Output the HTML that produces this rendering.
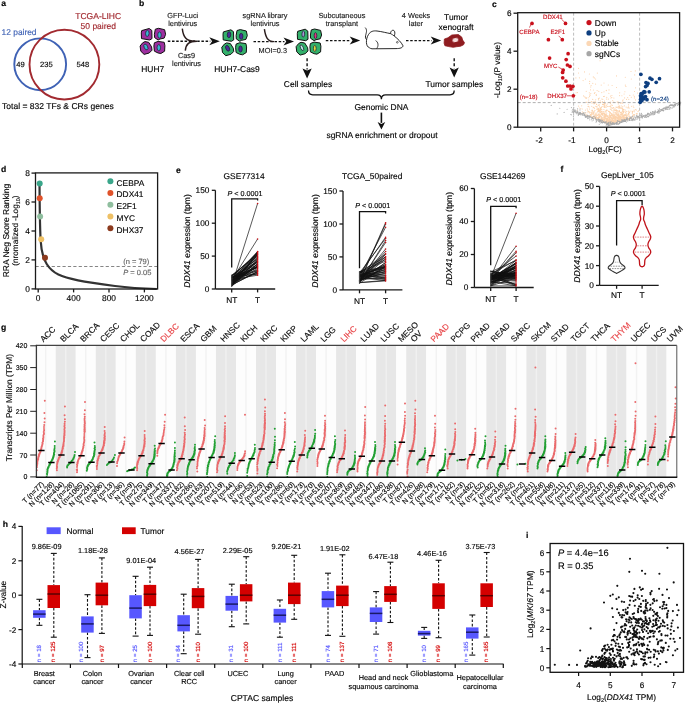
<!DOCTYPE html>
<html><head><meta charset="utf-8"><title>Figure</title>
<style>
html,body{margin:0;padding:0;background:#fff;width:685px;height:703px;overflow:hidden}
svg{display:block;font-family:"Liberation Sans",sans-serif;will-change:transform;text-rendering:geometricPrecision}
text{stroke:#111;stroke-width:0.15px}
</style></head><body>
<svg width="685" height="703" viewBox="0 0 685 703">
<defs><filter id="blr" x="-50%" y="-50%" width="200%" height="200%"><feGaussianBlur stdDeviation="0.5"/></filter></defs>
<rect width="685" height="703" fill="#fff"/>
<text x="1.3" y="5.9" font-weight="bold" font-size="8.6">a</text>
<circle cx="40.2" cy="64.3" r="25.9" fill="none" stroke="#3f62b5" stroke-width="1.9"/>
<circle cx="64.4" cy="64.6" r="34.9" fill="none" stroke="#a22a30" stroke-width="1.9"/>
<text x="98.2" y="19.2" text-anchor="middle" fill="#a22a30" style="stroke:#a22a30" font-size="8.5">TCGA-LIHC</text>
<text x="98.3" y="29.2" text-anchor="middle" fill="#a22a30" style="stroke:#a22a30" font-size="8.5">50 paired</text>
<text x="1.6" y="34.9" fill="#3f62b5" style="stroke:#3f62b5" font-size="8.4">12 paired</text>
<text x="20.6" y="66.8" text-anchor="middle" font-size="7.6">49</text>
<text x="46.3" y="66.8" text-anchor="middle" font-size="7.6">235</text>
<text x="82.9" y="66.8" text-anchor="middle" font-size="7.6">548</text>
<text x="2" y="109.2" font-size="8.55">Total = 832 TFs &amp; CRs genes</text>
<text x="138.9" y="6.1" font-weight="bold" font-size="8.6">b</text>
<polygon points="141.7,30.6 149.2,28.5 151.8,30.4 152.0,38.6 149.7,40.0 141.5,38.6 141.3,32.9" fill="#9d2f9f" stroke="#111" stroke-width="1.0" stroke-linejoin="round"/>
<ellipse cx="147.3" cy="33.4" rx="1.75" ry="3.05" transform="rotate(4 147.3 33.4)" fill="#38b6d2" stroke="#1c1c30" stroke-width="0.7"/>
<polygon points="155.3,29.2 158.6,28.3 164.6,29.7 165.6,34.3 164.2,38.1 160.0,39.0 158.1,40.0 154.6,37.6 154.4,34.3" fill="#9d2f9f" stroke="#111" stroke-width="1.0" stroke-linejoin="round"/>
<ellipse cx="159.5" cy="35.0" rx="1.75" ry="3.05" transform="rotate(0 159.5 35.0)" fill="#38b6d2" stroke="#1c1c30" stroke-width="0.7"/>
<polygon points="145.0,41.6 148.7,42.3 151.6,46.9 152.0,50.2 149.2,53.0 144.1,54.4 140.8,51.2 140.1,46.0 142.7,42.8" fill="#9d2f9f" stroke="#111" stroke-width="1.0" stroke-linejoin="round"/>
<ellipse cx="145.9" cy="47.0" rx="1.75" ry="3.05" transform="rotate(-25 145.9 47.0)" fill="#38b6d2" stroke="#1c1c30" stroke-width="0.7"/>
<polygon points="154.4,42.8 158.1,41.4 164.2,42.3 164.9,45.6 164.6,51.2 160.9,53.5 158.1,53.0 154.4,51.2 153.9,46.0" fill="#9d2f9f" stroke="#111" stroke-width="1.0" stroke-linejoin="round"/>
<ellipse cx="158.8" cy="47.7" rx="1.75" ry="3.05" transform="rotate(0 158.8 47.7)" fill="#38b6d2" stroke="#1c1c30" stroke-width="0.7"/>
<polygon points="223.4,31.9 230.9,29.8 233.5,31.7 233.7,39.9 231.4,41.3 223.2,39.9 223.0,34.2" fill="#33b06b" stroke="#111" stroke-width="1.0" stroke-linejoin="round"/>
<ellipse cx="229.0" cy="34.7" rx="1.75" ry="3.05" transform="rotate(4 229.0 34.7)" fill="#4b2b9b" stroke="#1c1c30" stroke-width="0.7"/>
<polygon points="237.0,30.5 240.3,29.6 246.3,31.0 247.3,35.6 245.9,39.4 241.7,40.3 239.8,41.3 236.3,38.9 236.1,35.6" fill="#33b06b" stroke="#111" stroke-width="1.0" stroke-linejoin="round"/>
<ellipse cx="241.2" cy="36.3" rx="1.75" ry="3.05" transform="rotate(0 241.2 36.3)" fill="#4b2b9b" stroke="#1c1c30" stroke-width="0.7"/>
<polygon points="226.7,42.9 230.4,43.6 233.3,48.2 233.7,51.5 230.9,54.3 225.8,55.7 222.5,52.5 221.8,47.3 224.4,44.1" fill="#33b06b" stroke="#111" stroke-width="1.0" stroke-linejoin="round"/>
<ellipse cx="227.6" cy="48.3" rx="1.75" ry="3.05" transform="rotate(-25 227.6 48.3)" fill="#4b2b9b" stroke="#1c1c30" stroke-width="0.7"/>
<polygon points="236.1,44.1 239.8,42.7 245.9,43.6 246.6,46.9 246.3,52.5 242.6,54.8 239.8,54.3 236.1,52.5 235.6,47.3" fill="#33b06b" stroke="#111" stroke-width="1.0" stroke-linejoin="round"/>
<ellipse cx="240.5" cy="49.0" rx="1.75" ry="3.05" transform="rotate(0 240.5 49.0)" fill="#4b2b9b" stroke="#1c1c30" stroke-width="0.7"/>
<polygon points="297.7,31.3 305.2,29.2 307.8,31.1 308.0,39.3 305.7,40.7 297.5,39.3 297.3,33.6" fill="#33b06b" stroke="#111" stroke-width="1.0" stroke-linejoin="round"/>
<ellipse cx="303.3" cy="34.1" rx="1.35" ry="3.05" transform="rotate(4 303.3 34.1)" fill="#a898d8" stroke="#1c1c30" stroke-width="0.7"/>
<polygon points="311.3,29.9 314.6,29.0 320.6,30.4 321.6,35.0 320.2,38.8 316.0,39.7 314.1,40.7 310.6,38.3 310.4,35.0" fill="#33b06b" stroke="#111" stroke-width="1.0" stroke-linejoin="round"/>
<ellipse cx="315.5" cy="35.7" rx="1.35" ry="3.05" transform="rotate(0 315.5 35.7)" fill="#e03080" stroke="#1c1c30" stroke-width="0.7"/>
<polygon points="301.0,42.3 304.7,43.0 307.6,47.6 308.0,50.9 305.2,53.7 300.1,55.1 296.8,51.9 296.1,46.7 298.7,43.5" fill="#33b06b" stroke="#111" stroke-width="1.0" stroke-linejoin="round"/>
<ellipse cx="301.9" cy="47.7" rx="1.35" ry="3.05" transform="rotate(-25 301.9 47.7)" fill="#c2eaea" stroke="#1c1c30" stroke-width="0.7"/>
<polygon points="310.4,43.5 314.1,42.1 320.2,43.0 320.9,46.3 320.6,51.9 316.9,54.2 314.1,53.7 310.4,51.9 309.9,46.7" fill="#33b06b" stroke="#111" stroke-width="1.0" stroke-linejoin="round"/>
<ellipse cx="314.8" cy="48.4" rx="1.35" ry="3.05" transform="rotate(0 314.8 48.4)" fill="#e8e23e" stroke="#1c1c30" stroke-width="0.7"/>
<line x1="167.8" y1="41.2" x2="210.3" y2="41.2" stroke="#111" stroke-width="1.4" stroke-dasharray="2.5,1.7"/>
<path d="M219.8,41.2 L209.3,37.2 L212.10000000000002,41.2 L209.3,45.2Z" fill="#111"/>
<line x1="253.5" y1="41.6" x2="284.5" y2="41.6" stroke="#111" stroke-width="1.4" stroke-dasharray="2.5,1.7"/>
<path d="M294.0,41.6 L283.5,37.6 L286.3,41.6 L283.5,45.6Z" fill="#111"/>
<line x1="325.8" y1="40.6" x2="350.7" y2="40.6" stroke="#111" stroke-width="1.4" stroke-dasharray="2.5,1.7"/>
<path d="M360.2,40.6 L349.7,36.6 L352.5,40.6 L349.7,44.6Z" fill="#111"/>
<line x1="406.0" y1="40.6" x2="431.7" y2="40.6" stroke="#111" stroke-width="1.4" stroke-dasharray="2.5,1.7"/>
<path d="M441.2,40.6 L430.7,36.6 L433.5,40.6 L430.7,44.6Z" fill="#111"/>
<line x1="307.1" y1="58.2" x2="307.1" y2="69.4" stroke="#111" stroke-width="1.4" stroke-dasharray="3,2"/>
<path d="M307.1,78.4 L302.5,68.4 L307.1,70.60000000000001 L311.70000000000005,68.4Z" fill="#111"/>
<line x1="454.2" y1="58.2" x2="454.2" y2="68.6" stroke="#111" stroke-width="1.4" stroke-dasharray="3,2"/>
<path d="M454.2,77.6 L449.59999999999997,67.6 L454.2,69.8 L458.8,67.6Z" fill="#111"/>
<line x1="381.4" y1="112.6" x2="381.4" y2="122.9" stroke="#111" stroke-width="1.6"/>
<path d="M381.4,129.4 L377.59999999999997,121.9 L381.4,124.10000000000001 L385.2,121.9Z" fill="#111"/>
<path d="M182.3,28.6 C183.3,37.5 186.5,41.2 195,41.2" fill="none" stroke="#2a1c1c" stroke-width="1.45"/>
<path d="M185.3,50.6 C186,44 189,41.2 197,41.2" fill="none" stroke="#2a1c1c" stroke-width="1.45"/>
<path d="M264.4,29.2 C265.5,37 267.5,41.6 274,41.6" fill="none" stroke="#2a1c1c" stroke-width="1.45"/>
<text x="182.7" y="17.5" text-anchor="middle" fill="#222" style="stroke:#222" font-size="7.35">GFP-Luci</text>
<text x="182.7" y="26.3" text-anchor="middle" fill="#222" style="stroke:#222" font-size="7.35">lentivirus</text>
<text x="186.5" y="57.7" text-anchor="middle" fill="#222" style="stroke:#222" font-size="7.35">Cas9</text>
<text x="186.5" y="66.1" text-anchor="middle" fill="#222" style="stroke:#222" font-size="7.35">lentivirus</text>
<text x="265" y="17.5" text-anchor="middle" fill="#222" style="stroke:#222" font-size="7.35">sgRNA library</text>
<text x="265" y="26.3" text-anchor="middle" fill="#222" style="stroke:#222" font-size="7.35">lentivirus</text>
<text x="272.8" y="53.3" text-anchor="middle" fill="#222" style="stroke:#222" font-size="7.35">MOI=0.3</text>
<text x="341.9" y="17.5" text-anchor="middle" fill="#222" style="stroke:#222" font-size="7.35">Subcutaneous</text>
<text x="341.9" y="26.3" text-anchor="middle" fill="#222" style="stroke:#222" font-size="7.35">transplant</text>
<text x="416" y="17.5" text-anchor="middle" fill="#222" style="stroke:#222" font-size="7.35">4 Weeks</text>
<text x="415.9" y="26.3" text-anchor="middle" fill="#222" style="stroke:#222" font-size="7.35">later</text>
<text x="152.7" y="72.4" text-anchor="middle" font-size="8.45">HUH7</text>
<text x="237" y="72.4" text-anchor="middle" font-size="8.45">HUH7-Cas9</text>
<text x="456.1" y="20.1" text-anchor="middle" font-size="8.45">Tumor</text>
<text x="456.1" y="29.8" text-anchor="middle" font-size="8.45">xenograft</text>
<text x="308" y="87.2" text-anchor="middle" font-size="8.45">Cell samples</text>
<text x="454.3" y="87.2" text-anchor="middle" font-size="8.45">Tumor samples</text>
<text x="381.4" y="109.5" text-anchor="middle" font-size="8.45">Genomic DNA</text>
<text x="382" y="137.9" text-anchor="middle" font-size="8.45">sgRNA enrichment or dropout</text>
<path d="M308.5,90.6 Q308.5,94.8 312.7,94.8 L377.2,94.8 Q381.4,94.8 381.4,99.2 Q381.4,94.8 385.6,94.8 L450,94.8 Q454.2,94.8 454.2,90.6" fill="none" stroke="#111" stroke-width="1.3"/>
<path d="M365.2,27.6 C367.5,30 366.2,33 365.6,35.5 C365,38 366,39.5 367.4,40.2" fill="none" stroke="#111" stroke-width="0.9"/>
<path d="M369.5,47.8 C365.5,46.5 365.6,39 368.5,34.5 C370.5,31.2 373.5,30.6 377,31 C382,31.6 387,33 390.5,33.6 C390.6,31 392.5,29.6 394,30.6 C395.4,31.8 394.8,34.6 394.2,36 C397.5,38.5 401.5,42.5 403,45.8 C402.8,47.8 400,48.6 396,48.6 L372,48.8 C371,48.7 370.2,48.3 369.5,47.8Z" fill="#fff" stroke="#111" stroke-width="0.9"/>
<path d="M376.6,48.6 C378.8,46 378.4,42 375.6,40.6" fill="none" stroke="#111" stroke-width="0.8"/>
<path d="M390.5,33.6 C391.8,34.2 393,35 394.2,36" fill="none" stroke="#111" stroke-width="0.8"/>
<circle cx="397.3" cy="42.3" r="0.85" fill="none" stroke="#111" stroke-width="0.6"/>
<polygon points="444.4,39 447.9,37.8 451.8,35 458.4,34.6 461.7,37 462.7,40.1 464.5,42.7 463.5,44.8 460.6,46.2 456.7,46.7 453.2,47.3 448.8,46.6 444.9,45.7 444.1,43.2" fill="#8f1c20" stroke="#8f1c20" stroke-width="0.8" stroke-linejoin="round"/>
<ellipse cx="455.4" cy="40.1" rx="3.0" ry="2.0" transform="rotate(-12 455.4 40.1)" fill="#f6dcdc" filter="url(#blr)"/>
<text x="492.1" y="6.5" font-weight="bold" font-size="8.6">c</text>
<path d="M596.0 102.8h0M615.0 118.9h0M594.8 117.7h0M609.8 119.6h0M596.1 118.9h0M595.2 116.8h0M628.7 112.0h0M622.2 120.9h0M607.1 116.7h0M605.4 122.8h0M605.9 118.3h0M617.7 120.5h0M613.4 123.2h0M598.1 108.3h0M613.4 118.6h0M601.7 114.5h0M599.8 116.9h0M620.5 119.2h0M594.9 117.4h0M609.5 114.9h0M614.9 119.7h0M617.2 101.9h0M600.9 109.1h0M618.7 106.5h0M610.6 119.9h0M622.4 120.7h0M609.1 117.9h0M612.2 123.0h0M601.3 118.8h0M630.0 118.5h0M606.1 121.4h0M613.9 112.9h0M613.0 122.2h0M598.5 119.0h0M605.9 114.6h0M622.1 120.4h0M623.0 117.5h0M612.7 100.6h0M619.7 111.3h0M602.3 120.3h0M633.8 115.2h0M620.9 120.8h0M597.1 90.6h0M612.7 114.0h0M619.5 119.3h0M609.2 123.7h0M615.0 117.3h0M611.3 120.9h0M626.6 116.2h0M623.7 115.3h0M607.1 110.5h0M613.4 107.9h0M616.8 111.5h0M610.6 115.3h0M618.3 103.9h0M620.1 107.9h0M638.0 111.4h0M605.7 122.8h0M613.2 102.2h0M611.9 121.8h0M629.0 108.3h0M602.4 120.6h0M604.9 114.5h0M618.3 116.9h0M614.1 110.8h0M603.3 106.1h0M604.2 121.0h0M619.9 118.0h0M611.5 123.4h0M615.6 117.3h0M620.7 120.7h0M594.4 93.4h0M629.6 112.5h0M604.9 121.8h0M595.9 119.2h0M636.4 110.0h0M613.5 102.1h0M627.3 115.7h0M612.8 115.0h0M591.5 117.3h0M592.0 103.1h0M605.0 114.2h0M604.5 106.7h0M590.4 114.6h0M600.4 107.9h0M587.1 112.7h0M616.5 117.1h0M587.6 110.0h0M599.0 114.5h0M621.1 120.9h0M586.5 102.3h0M581.7 105.8h0M595.8 113.8h0M623.0 117.3h0M613.2 114.4h0M606.3 123.1h0M599.6 119.1h0M602.5 114.1h0M594.2 102.4h0M610.8 122.1h0M620.6 114.3h0M611.3 122.4h0M623.0 114.0h0M633.1 114.8h0M618.8 115.0h0M603.9 121.0h0M591.1 101.8h0M619.6 108.1h0M598.8 118.0h0M621.0 120.6h0M588.0 104.3h0M611.1 115.9h0M619.6 120.6h0M607.6 119.9h0M609.3 120.9h0M618.7 115.7h0M600.2 109.2h0M611.0 98.0h0M606.1 123.0h0M611.9 110.4h0M628.6 114.2h0M615.4 120.5h0M611.2 122.9h0M608.3 120.1h0M632.6 116.9h0M614.0 122.2h0M626.5 116.3h0M615.4 116.4h0M598.5 99.8h0M592.7 110.8h0M614.8 121.7h0M623.3 120.9h0M592.1 116.7h0M613.8 121.2h0M600.2 116.3h0M625.7 114.2h0M611.0 113.8h0M598.7 105.2h0M634.1 110.1h0M624.9 119.7h0M594.6 103.4h0M615.3 119.8h0M588.4 106.4h0M600.3 102.4h0M593.8 117.2h0M614.4 114.8h0M617.6 114.1h0M595.1 117.6h0M637.5 93.0h0M591.0 112.6h0M613.2 107.8h0M600.5 108.6h0M607.7 120.0h0M614.6 117.9h0M612.1 123.5h0M596.9 109.1h0M630.1 118.1h0M618.9 119.4h0M612.1 122.6h0M604.2 117.8h0M606.8 115.9h0M588.2 97.7h0M581.6 113.6h0M611.9 122.1h0M600.9 112.8h0M608.9 117.7h0M587.9 111.2h0M607.3 121.2h0M593.7 103.7h0M626.1 118.8h0M629.0 114.8h0M585.4 110.1h0M615.0 118.4h0M624.6 114.6h0M616.0 118.0h0M593.3 113.1h0M623.0 116.6h0M609.0 119.3h0M606.5 119.9h0M636.5 115.7h0M603.4 118.0h0M619.4 111.0h0M619.6 106.9h0M600.3 119.7h0M612.1 117.4h0M616.1 112.9h0M607.7 123.6h0M613.5 115.8h0M618.6 119.6h0M600.4 120.4h0M623.6 112.4h0M620.7 119.7h0M620.4 120.2h0M598.1 117.2h0M608.1 120.5h0M603.7 120.8h0M609.3 117.9h0M601.2 109.1h0M599.4 114.6h0M615.9 114.0h0M603.8 111.6h0M619.0 119.5h0M604.6 106.1h0M619.0 107.9h0M616.4 114.2h0M617.1 120.5h0M628.9 116.0h0M623.4 110.8h0M619.0 114.5h0M619.1 121.8h0M616.0 107.1h0M627.7 97.6h0M621.1 112.3h0M619.9 117.3h0M607.5 123.2h0M603.5 121.5h0M625.2 115.8h0M614.1 117.7h0M615.1 121.4h0M616.6 110.7h0M637.6 116.8h0M608.9 123.8h0M623.2 111.6h0M606.6 120.8h0M596.6 116.0h0M613.5 117.4h0M628.9 107.6h0M612.1 122.4h0M591.9 114.6h0M616.1 121.3h0M617.8 122.2h0M622.8 106.6h0M616.5 109.9h0M593.0 111.9h0M597.3 115.4h0M619.6 95.6h0M613.7 107.6h0M601.9 112.8h0M614.4 119.7h0M589.1 102.3h0M623.9 111.4h0M598.0 110.9h0M594.8 118.5h0M621.2 118.8h0M608.9 121.4h0M610.9 117.4h0M604.4 103.9h0M604.5 115.5h0M601.4 116.0h0M625.4 115.5h0M599.0 111.3h0M596.2 94.2h0M626.8 111.4h0M612.9 121.5h0M607.4 122.3h0M612.8 120.5h0M617.9 107.0h0M615.8 117.6h0M579.6 108.0h0M609.0 89.9h0M596.6 119.2h0M594.1 112.9h0M610.8 106.8h0M607.0 122.4h0M603.4 117.8h0M611.8 117.6h0M637.2 114.0h0M620.8 116.7h0M601.3 119.3h0M604.0 115.6h0M601.6 113.4h0M607.0 121.2h0M619.4 121.6h0M611.3 122.7h0M610.9 109.2h0M598.8 111.6h0M621.6 102.7h0M633.6 114.8h0M622.0 117.1h0M619.3 117.1h0M609.1 106.4h0M608.3 99.1h0M597.4 109.0h0M605.9 116.8h0M607.0 119.6h0M611.7 118.9h0M614.3 122.3h0M594.1 114.8h0M616.7 120.6h0M599.8 111.1h0M604.4 117.7h0M610.1 115.6h0M611.0 109.5h0M616.4 112.7h0M602.6 119.9h0M602.6 114.5h0M596.0 113.0h0M604.3 113.5h0M613.9 98.0h0M618.9 106.0h0M613.0 123.0h0M608.2 121.9h0M595.8 118.7h0M618.1 117.2h0M615.1 115.6h0M612.8 118.3h0M602.8 117.8h0M602.1 120.2h0M599.7 109.0h0M626.9 119.6h0M626.3 113.9h0M625.3 111.0h0M613.4 121.4h0M622.7 110.4h0M598.8 91.3h0M623.2 118.4h0M591.8 101.5h0M604.6 119.1h0M606.9 110.0h0M614.5 122.6h0M623.8 116.5h0M618.2 114.7h0M604.4 122.0h0M630.1 117.7h0M608.0 121.5h0M606.4 115.0h0M607.2 122.6h0M601.5 118.6h0M608.8 123.4h0M599.4 112.7h0M586.5 97.8h0M599.4 104.9h0M590.8 115.2h0M618.7 119.6h0M588.2 102.0h0M626.9 118.2h0M603.2 119.2h0M619.2 118.7h0M604.6 117.3h0M615.6 112.5h0M588.7 111.4h0M604.9 121.5h0M611.9 121.6h0M586.1 115.7h0M595.8 114.0h0M609.1 102.4h0M598.1 119.8h0M593.1 113.3h0M611.7 123.2h0M605.7 114.4h0M614.6 116.6h0M607.6 122.7h0M610.1 122.3h0M593.4 116.9h0M611.9 114.3h0M596.2 116.3h0M594.2 111.6h0M637.1 113.2h0M592.1 110.1h0M606.1 107.3h0M591.8 110.8h0M622.4 108.8h0M618.3 108.0h0M589.5 96.6h0M601.4 113.4h0M599.4 110.3h0M599.6 119.8h0M616.4 113.9h0M622.0 120.1h0M609.9 122.7h0M601.8 99.0h0M615.0 122.6h0M608.5 117.3h0M616.0 113.0h0M612.4 119.6h0M614.4 117.4h0M613.3 122.6h0M608.8 122.9h0M612.3 115.4h0M619.1 116.1h0M611.8 121.6h0M618.0 121.0h0M611.0 118.8h0M600.3 110.1h0M601.4 107.4h0M611.7 107.9h0M602.4 101.5h0M623.1 116.7h0M611.2 104.8h0M614.3 112.7h0M599.7 116.1h0M620.2 119.6h0M627.9 118.1h0M609.5 124.2h0M599.3 110.4h0M612.5 115.5h0M605.1 121.7h0M606.3 120.7h0M609.1 119.6h0M634.4 111.7h0M619.9 116.8h0M610.2 123.1h0M610.6 112.9h0M609.9 112.1h0M612.7 121.5h0M606.1 115.1h0M621.7 117.3h0M618.3 102.0h0M590.5 115.1h0M598.4 110.3h0M587.6 115.8h0M623.7 109.5h0M614.4 118.3h0M624.9 119.4h0M615.6 120.4h0M601.6 121.0h0M606.0 115.0h0M623.1 118.1h0M608.4 120.8h0M605.4 118.9h0M632.4 111.9h0M605.9 123.1h0M597.2 118.1h0M623.6 115.5h0M608.9 93.3h0M611.0 113.5h0M615.0 120.7h0M626.4 117.2h0M600.9 118.6h0M608.1 120.7h0M606.0 121.7h0M602.6 113.4h0M596.9 114.4h0M635.6 109.6h0M599.6 120.2h0M629.9 118.4h0M625.4 112.5h0M620.5 120.3h0M592.1 112.2h0M623.6 120.3h0M611.6 122.9h0M617.4 119.0h0M634.5 114.6h0M622.3 116.6h0M598.4 109.2h0M594.4 115.7h0M604.6 122.5h0M621.2 118.1h0M600.1 110.9h0M578.6 106.1h0M608.8 121.6h0M609.1 121.6h0M607.3 120.6h0M606.0 118.6h0M615.9 116.6h0M589.0 115.8h0M613.2 118.3h0M585.1 112.6h0M604.0 114.3h0M610.5 96.1h0M591.8 106.3h0M608.7 122.7h0M626.2 118.8h0M604.9 122.2h0M611.1 116.2h0M626.1 117.7h0M620.7 117.6h0M605.7 122.2h0M616.9 107.4h0M609.5 119.2h0M596.4 117.6h0M604.9 107.2h0M632.4 112.8h0M609.5 123.4h0M615.0 108.3h0M601.8 119.8h0M590.5 116.1h0M600.6 116.0h0M613.2 122.1h0M611.9 95.6h0M626.7 117.7h0M604.1 115.3h0M609.7 118.5h0M599.0 110.0h0M618.4 118.0h0M611.4 122.8h0M598.9 119.3h0M620.6 116.9h0M609.2 121.7h0M625.9 113.7h0M627.7 118.9h0M614.7 102.3h0M599.7 117.4h0M602.7 115.6h0M603.1 113.1h0M592.0 113.7h0M633.2 106.1h0M609.8 120.8h0M596.5 104.4h0M616.7 117.7h0M598.1 105.1h0M608.6 121.6h0M628.5 104.8h0M617.0 114.0h0M594.4 116.5h0M599.2 114.8h0M616.1 118.9h0M613.2 118.9h0M607.5 116.0h0M612.9 118.6h0M611.2 120.6h0M620.7 119.8h0M634.3 96.3h0M621.4 114.3h0M618.8 111.5h0M601.3 119.8h0M610.2 109.0h0M595.2 118.5h0M612.2 118.7h0M604.7 103.2h0M619.4 119.6h0M610.6 121.5h0M633.8 107.5h0M620.2 118.4h0M600.8 120.9h0M622.9 120.8h0M618.7 117.6h0M604.5 105.0h0M623.8 119.3h0M608.6 121.9h0M632.9 117.2h0M598.7 108.7h0M602.4 120.6h0M621.2 107.8h0M618.5 115.6h0M610.3 122.7h0M613.3 122.6h0M608.0 115.5h0M600.7 108.1h0M634.1 110.3h0M622.7 103.2h0M624.3 116.9h0M618.0 119.9h0M614.6 115.0h0M613.0 121.7h0M617.6 115.3h0M613.4 116.3h0M599.5 106.8h0M603.3 119.9h0M606.0 106.3h0M605.8 116.5h0M602.3 121.2h0M623.3 116.1h0M609.2 119.4h0M626.0 118.1h0M615.1 121.1h0M612.2 121.5h0M605.8 114.0h0M610.8 118.8h0M620.1 120.4h0M638.6 117.0h0M589.3 113.0h0M610.6 106.9h0M598.9 116.0h0M617.0 115.8h0M624.2 117.8h0M599.3 116.0h0M593.2 113.9h0M620.7 116.8h0M595.7 99.8h0M620.0 120.6h0M628.9 113.5h0M611.7 114.2h0M623.3 111.0h0M612.8 119.2h0M602.1 120.1h0M598.3 120.1h0M603.8 116.5h0M607.2 110.3h0M595.5 118.0h0M611.9 119.3h0M612.4 119.9h0M601.9 111.3h0M613.9 122.7h0M623.4 115.9h0M602.1 111.6h0M611.1 121.5h0M617.2 122.1h0M604.1 117.6h0M625.7 118.4h0M606.2 112.1h0M607.9 122.6h0M610.3 116.5h0M617.6 110.9h0M611.5 120.4h0M606.5 120.4h0M617.2 122.2h0M590.5 89.8h0M611.9 122.7h0M591.7 117.6h0M616.0 120.9h0M615.6 119.6h0M606.4 121.0h0M606.3 123.1h0M612.2 122.0h0M591.3 115.9h0M602.2 117.8h0M607.7 106.4h0M603.5 96.5h0M618.7 116.0h0M622.2 114.4h0M613.5 122.9h0M600.5 108.2h0M625.8 114.6h0M620.5 118.4h0M601.9 109.7h0M595.4 117.7h0M624.6 117.9h0M616.6 121.4h0M624.3 119.2h0M613.5 120.9h0M623.5 117.1h0M628.4 106.9h0M609.8 122.7h0M607.1 116.0h0M613.6 120.4h0M610.2 122.8h0M612.8 121.5h0M589.5 109.0h0M627.3 118.0h0M606.2 105.4h0M615.8 119.9h0M612.4 108.2h0M591.6 117.7h0M605.4 122.4h0M621.1 107.7h0M601.3 116.7h0M628.7 119.3h0M603.7 122.0h0M616.0 121.7h0M608.1 121.5h0M608.9 120.6h0M604.4 114.6h0M608.8 122.2h0M607.9 122.8h0M593.2 116.9h0M607.0 120.2h0M629.0 116.4h0M616.2 120.4h0M604.2 119.8h0M611.3 123.7h0M613.9 116.8h0M590.8 93.6h0M601.9 119.3h0M597.8 118.6h0M587.2 108.7h0M595.8 106.3h0M585.0 113.7h0M607.1 120.0h0M606.7 120.2h0M621.4 118.8h0M614.9 118.5h0M609.3 121.0h0M617.4 118.2h0M619.3 120.1h0M625.8 119.7h0M603.8 121.3h0M621.0 115.9h0M606.0 115.4h0M596.2 119.4h0M601.8 121.2h0M617.7 119.0h0M623.6 115.2h0M615.2 118.8h0M606.4 123.2h0M618.6 119.3h0M622.5 119.2h0M600.9 114.2h0M615.8 116.6h0M622.8 101.1h0M600.5 102.7h0M622.4 111.6h0M599.0 117.2h0M598.7 117.0h0M606.9 109.8h0M632.6 115.6h0M613.3 122.4h0M608.8 119.6h0M606.5 99.0h0M621.0 120.4h0M613.6 115.9h0M618.5 120.4h0M625.4 117.2h0M610.6 122.2h0M593.4 113.4h0M611.2 117.5h0M589.8 94.8h0M602.2 119.1h0M596.4 117.2h0M630.9 111.0h0M604.5 101.1h0M593.5 107.3h0M619.5 117.5h0M624.5 115.3h0M603.9 113.5h0M617.7 117.4h0M611.3 121.3h0M619.5 120.6h0M604.4 122.2h0M610.0 123.7h0M625.4 119.7h0M621.7 117.5h0M612.4 122.4h0M597.1 106.9h0M613.2 121.5h0M607.7 119.2h0M614.0 115.1h0M599.2 118.8h0M608.3 121.4h0M600.2 111.8h0M622.8 115.6h0M592.0 114.4h0M606.1 111.7h0M594.6 108.5h0M618.7 114.9h0M618.7 120.4h0M611.3 118.2h0M612.4 105.3h0M616.8 115.0h0M609.4 120.8h0M602.5 104.4h0M601.8 92.6h0M628.4 118.9h0M616.2 122.4h0M606.2 90.6h0M629.3 118.7h0M609.2 119.3h0M613.0 119.2h0M603.4 111.8h0M617.8 110.5h0M608.1 117.7h0M622.1 111.9h0M622.3 113.5h0M609.1 119.2h0M612.6 122.3h0M604.2 121.8h0M618.8 117.7h0M606.9 122.7h0M609.5 118.9h0M612.6 122.5h0M603.9 120.7h0M603.8 118.1h0M604.4 122.2h0M617.4 121.9h0M618.5 121.6h0M604.2 121.2h0M614.8 121.5h0M619.7 118.4h0M600.4 110.5h0M607.3 118.5h0M613.0 116.5h0M603.7 104.3h0M603.9 109.5h0M623.4 109.3h0M610.1 115.8h0M611.8 122.5h0M613.0 122.6h0M620.5 112.6h0M615.6 120.4h0M608.8 122.7h0M610.4 103.4h0M625.0 109.8h0M611.6 113.6h0M609.5 113.8h0M598.6 109.1h0M614.4 122.4h0M576.1 92.7h0M595.4 117.4h0M621.2 105.9h0M625.9 118.6h0M612.8 120.3h0M598.7 109.7h0M623.3 118.0h0M603.4 120.1h0M602.1 106.5h0M608.3 121.4h0M615.3 114.1h0M615.3 117.8h0M629.5 112.1h0M613.0 122.4h0M615.6 120.0h0M609.1 119.8h0M611.2 120.5h0M604.2 102.8h0M623.8 119.3h0M618.2 113.1h0M603.4 121.5h0M623.1 99.8h0M609.6 122.7h0M595.0 117.8h0M620.7 119.5h0M597.8 117.6h0M584.7 114.0h0M588.2 115.6h0M638.5 110.7h0M598.3 118.8h0M622.4 115.0h0M628.3 113.3h0M595.4 114.7h0M605.2 111.1h0M608.1 116.4h0M593.8 115.1h0M615.6 119.7h0M612.6 118.0h0M626.5 115.5h0M626.9 116.3h0M613.9 117.4h0M587.8 115.4h0M595.2 115.1h0M629.9 116.9h0M609.7 115.6h0M622.6 108.1h0M609.8 123.3h0M624.3 119.0h0M609.7 112.4h0M594.0 107.3h0M588.0 106.2h0M607.8 123.4h0M623.4 119.1h0M596.9 109.2h0M596.5 106.7h0M614.7 121.6h0M607.4 123.2h0M627.3 114.7h0M613.7 121.5h0M597.1 109.5h0M623.0 115.9h0M594.5 103.6h0M612.5 120.6h0M604.0 121.7h0M621.2 108.5h0M613.1 111.8h0M616.1 119.5h0M615.6 110.6h0M591.6 117.4h0M593.4 90.0h0M615.0 109.4h0M626.6 111.7h0M616.3 119.0h0M627.2 119.9h0M605.0 116.4h0M619.3 119.8h0M596.0 118.2h0M599.5 119.9h0M606.0 122.2h0M598.1 119.4h0M625.7 117.5h0M604.7 121.3h0M628.7 111.0h0M610.0 121.3h0M606.1 122.2h0M621.8 114.9h0M591.0 114.2h0M620.6 117.7h0M582.3 111.7h0M609.4 116.5h0M612.0 121.5h0M626.1 107.0h0M605.3 115.6h0M633.2 114.6h0M621.3 112.6h0M605.8 117.1h0M606.5 119.8h0M611.9 121.6h0M583.1 112.5h0M621.3 113.8h0M606.4 119.9h0M602.7 121.0h0M617.7 118.8h0M605.0 120.1h0M620.5 115.9h0M589.7 112.0h0M631.0 118.5h0M625.3 117.5h0M597.2 112.7h0M624.0 118.0h0M633.8 118.3h0M593.2 112.0h0M599.5 116.7h0M612.7 121.1h0M602.8 99.2h0M596.3 95.4h0M622.4 109.8h0M610.0 117.4h0M598.1 119.8h0M598.9 113.6h0M613.4 121.8h0M618.7 119.1h0M610.0 123.2h0M595.2 118.6h0M622.6 119.9h0M600.7 112.5h0M597.2 118.0h0M617.8 112.6h0M592.7 117.4h0M608.5 111.4h0M611.0 105.2h0M612.6 120.7h0M609.0 119.3h0M604.9 112.7h0M609.3 122.0h0M604.4 117.2h0M610.3 123.2h0M622.6 118.9h0M618.0 112.5h0M610.8 123.6h0M622.8 119.5h0M596.1 115.5h0M615.1 110.6h0M628.9 118.5h0M624.6 97.9h0M598.6 114.3h0M608.7 111.3h0M622.5 121.1h0M607.8 122.7h0M618.6 114.0h0M593.0 117.3h0M607.8 123.0h0M610.0 121.9h0M627.2 107.8h0M607.0 123.2h0M606.4 121.4h0M613.0 122.7h0M619.8 117.5h0M605.4 116.1h0M632.3 113.3h0M591.8 113.4h0M620.3 119.4h0M603.8 113.7h0M610.0 120.6h0M621.9 117.1h0M602.6 118.0h0M620.3 121.3h0M612.7 118.7h0M606.9 118.4h0M603.8 121.7h0M615.5 119.8h0M605.2 121.2h0M623.1 112.1h0M609.0 120.9h0M610.7 102.1h0M626.5 99.3h0M611.3 120.9h0M601.3 119.1h0M604.0 116.3h0M601.8 117.2h0M605.1 118.1h0M610.6 123.4h0M606.6 121.5h0M607.9 120.3h0M631.5 106.2h0M602.6 114.5h0M616.2 122.1h0M632.8 116.1h0M608.3 121.5h0M619.4 115.3h0M591.6 117.5h0M610.9 117.6h0M606.8 118.3h0M625.7 120.2h0M603.1 104.5h0M610.8 123.9h0M594.9 110.4h0M595.0 92.5h0M619.3 105.8h0M629.0 115.8h0M619.9 112.8h0M601.3 117.7h0M619.5 121.0h0M602.3 121.3h0M628.0 119.0h0M619.4 116.8h0M595.4 118.5h0M618.1 102.3h0M617.5 117.0h0M617.8 118.8h0M606.7 118.5h0M613.8 109.9h0M605.4 118.8h0M622.9 118.0h0M613.0 116.2h0M623.0 113.5h0M604.5 119.4h0M611.6 115.0h0M605.1 121.6h0M603.7 119.6h0M606.5 122.2h0M601.2 116.7h0M623.4 117.7h0M590.2 114.5h0M600.3 115.4h0M577.5 110.1h0M614.6 115.3h0M611.5 115.3h0M619.7 116.3h0M610.4 112.8h0M614.9 119.9h0M607.9 117.7h0M598.2 115.0h0M636.3 113.9h0M606.6 119.1h0M612.9 122.8h0M630.3 116.9h0M612.4 115.8h0M608.0 118.5h0M600.4 120.0h0M607.2 104.1h0M612.5 122.9h0M589.2 107.0h0M612.1 118.7h0M618.3 116.1h0M625.2 114.8h0M624.4 105.8h0M626.7 117.2h0M602.2 102.3h0M608.6 111.5h0M600.9 112.9h0M609.7 124.1h0M619.5 116.9h0M610.3 122.2h0M620.4 120.7h0M601.1 119.2h0M611.5 121.7h0M586.5 114.8h0M609.2 111.6h0M620.5 116.6h0M597.7 111.5h0M593.5 102.3h0M606.8 113.8h0M610.3 106.3h0M614.5 120.2h0M612.6 119.6h0M602.1 118.7h0M606.9 118.9h0M582.3 109.0h0M605.5 103.7h0M617.6 121.6h0M626.7 119.6h0M604.2 107.5h0M622.8 120.2h0M619.7 92.8h0M601.8 121.2h0M633.0 111.5h0M613.2 117.9h0M611.8 97.5h0M601.3 111.5h0M589.1 112.2h0M623.4 119.6h0M617.3 117.6h0M602.1 120.3h0M621.6 113.5h0M598.7 119.9h0M617.4 118.1h0M580.8 108.5h0M599.3 119.7h0M607.2 115.8h0M620.8 103.5h0M639.3 100.3h0M606.2 110.6h0M612.8 119.2h0M609.6 118.5h0M604.1 116.3h0M595.5 101.8h0M622.8 100.3h0M618.0 122.0h0M628.8 99.3h0M626.0 120.1h0M632.4 111.2h0M615.0 118.2h0M593.1 107.7h0M600.9 121.3h0M629.8 95.4h0M619.3 110.3h0M601.6 118.8h0M616.4 122.5h0M624.1 94.0h0M612.1 85.5h0M589.4 74.0h0M585.7 97.7h0M590.7 87.0h0M624.9 91.7h0M589.7 81.4h0M591.1 85.6h0M589.3 92.8h0M595.6 79.0h0M625.3 85.1h0M579.4 77.8h0M590.1 95.5h0M597.3 73.1h0M599.3 98.1h0M625.3 77.2h0M592.8 83.3h0M606.5 90.2h0M578.5 73.0h0M583.6 95.9h0M631.0 71.5h0M634.5 91.5h0M634.4 97.9h0M583.1 80.6h0M631.3 79.0h0M635.6 87.8h0M598.4 98.6h0M586.2 91.3h0M577.5 92.6h0M586.1 98.5h0M608.3 85.0h0M635.5 99.9h0M588.7 100.0h0M594.3 77.9h0M606.8 97.3h0M595.6 84.1h0M593.3 76.9h0M604.0 83.0h0M604.3 96.3h0M635.3 70.9h0M575.9 77.9h0M600.2 100.8h0M584.8 96.9h0M621.9 95.7h0M575.6 95.4h0M625.9 86.4h0M616.5 87.5h0M586.1 102.0h0M594.0 101.2h0M601.2 85.1h0M604.0 91.8h0M633.3 95.0h0M634.7 74.9h0M631.3 97.2h0M585.4 79.1h0M589.5 83.6h0M584.5 71.9h0M592.7 99.4h0M600.0 60.7h0M616.5 75.9h0M578.6 68.3h0" stroke="#fcd3ad" stroke-width="1.15" stroke-linecap="round" fill="none"/>
<path d="M646.7 116.0h0M626.1 119.2h0M672.3 107.0h0M572.2 110.8h0M626.0 120.5h0M640.7 115.4h0M622.3 120.2h0M624.4 120.0h0M641.7 115.6h0M620.1 121.9h0M581.2 113.8h0M662.2 110.5h0M658.8 111.2h0M626.8 117.8h0M618.3 124.5h0M625.3 121.3h0M624.4 121.2h0M626.7 118.2h0M609.2 124.1h0M662.7 108.9h0M659.4 108.6h0M646.5 115.6h0M658.7 111.6h0M659.1 112.8h0M591.2 117.3h0M598.5 121.2h0M672.0 104.8h0M609.3 124.2h0M658.1 113.1h0M673.4 107.0h0M642.1 115.0h0M583.9 114.4h0M678.8 102.9h0M592.2 118.7h0M647.5 114.9h0M639.7 120.0h0M585.6 115.7h0M666.4 108.6h0M655.6 111.9h0M633.9 120.5h0M674.6 105.9h0M613.8 124.2h0M610.4 123.4h0M658.5 111.1h0M596.9 120.8h0M647.5 116.6h0M628.1 120.1h0M592.4 117.4h0M642.4 117.3h0M607.9 126.2h0M672.8 105.0h0M675.5 105.2h0M639.3 115.3h0M608.2 124.4h0M602.4 123.0h0M575.9 112.2h0M665.8 109.6h0M653.0 113.6h0M599.2 120.2h0M598.2 119.0h0M607.6 123.4h0M610.6 123.9h0M629.3 118.1h0M617.1 122.9h0M616.2 122.5h0M676.3 103.3h0M585.3 117.0h0M654.9 111.9h0M632.4 120.3h0M670.1 108.7h0M599.3 124.2h0M629.4 120.4h0M592.6 118.2h0M588.3 117.0h0M631.9 119.1h0M651.0 112.4h0M606.7 123.3h0M648.8 116.3h0M621.7 121.8h0M623.6 120.7h0M675.8 104.4h0M579.7 113.7h0M601.3 121.8h0M585.9 116.8h0M618.3 123.7h0M615.8 123.5h0M642.6 116.9h0M577.0 113.8h0M649.3 114.4h0M623.5 120.6h0M573.8 110.4h0M623.0 120.6h0M583.5 112.9h0M624.9 121.1h0M635.9 119.1h0M585.0 112.7h0M605.1 122.4h0M627.3 117.9h0M616.6 124.3h0M600.0 119.6h0M658.0 111.7h0M611.8 124.8h0M619.5 122.7h0M639.8 116.7h0M616.7 123.1h0M621.5 119.7h0M623.5 120.1h0M612.9 124.3h0M669.6 105.2h0M615.7 123.1h0M645.0 115.7h0M650.7 115.0h0M675.3 105.7h0M619.3 123.2h0M643.1 115.9h0M630.6 117.4h0M678.6 104.5h0M573.8 109.9h0M617.3 122.3h0M638.7 118.0h0M596.0 122.1h0M593.4 116.5h0M671.3 105.1h0M661.3 109.6h0M663.0 110.6h0M649.4 113.8h0M654.8 112.6h0M599.4 122.1h0M648.7 116.0h0M679.3 103.8h0M586.8 115.9h0M651.0 115.0h0M675.3 105.0h0M629.4 118.1h0M625.8 119.6h0M669.2 105.9h0M644.1 116.4h0M617.7 120.5h0M587.8 117.3h0M629.6 120.1h0M679.8 105.5h0M610.3 125.2h0M654.5 111.9h0M647.2 114.7h0M647.1 114.7h0M601.8 122.5h0M611.0 124.2h0M612.7 123.6h0M643.5 115.5h0M666.9 107.3h0M673.5 105.5h0M584.8 114.7h0M581.3 113.6h0M600.8 122.9h0M625.2 120.6h0M661.0 110.5h0M665.5 108.2h0M648.0 113.4h0M608.7 123.6h0M623.5 121.4h0M606.1 125.0h0M634.0 117.7h0M638.3 116.6h0M596.2 119.6h0M639.4 115.5h0M609.1 122.1h0M619.9 123.6h0M671.5 105.4h0M645.6 115.1h0M648.8 113.9h0M595.5 117.7h0M596.6 121.1h0M611.6 123.6h0M577.1 110.9h0M647.6 113.2h0M631.1 118.3h0M635.4 117.8h0M610.4 123.9h0M679.1 105.1h0M578.8 114.3h0M583.1 113.1h0M591.2 117.5h0M601.7 122.4h0M607.1 124.9h0M622.8 121.4h0M610.7 122.7h0M611.1 123.9h0M600.4 120.2h0M573.8 111.8h0M601.2 120.1h0M584.3 114.5h0M627.7 120.9h0M605.9 121.8h0M639.7 118.1h0M643.7 116.4h0M616.9 123.6h0M614.4 124.3h0M629.5 119.5h0M630.0 118.8h0M596.4 121.7h0M574.4 111.6h0M658.6 110.9h0M639.5 117.2h0M666.5 107.5h0M662.9 110.2h0M653.0 114.8h0M621.4 122.5h0M667.7 106.9h0M679.8 101.4h0M580.1 114.6h0M598.9 119.2h0M628.0 120.0h0M605.7 122.2h0M679.7 104.1h0M580.2 113.5h0M588.1 116.6h0M614.4 123.4h0M633.2 118.9h0M674.1 106.9h0M636.4 117.1h0M635.3 117.5h0M669.9 105.8h0M645.3 115.4h0M631.1 117.9h0M608.6 125.4h0M573.9 112.0h0M595.9 119.8h0M579.9 114.1h0M654.8 113.9h0M632.8 116.4h0M583.0 115.2h0M660.6 111.0h0M650.7 114.1h0M575.7 112.3h0M658.8 110.7h0M575.3 111.3h0M589.8 119.8h0M606.9 123.1h0M600.2 120.7h0M641.1 117.2h0M638.9 116.9h0M633.2 118.7h0M613.6 122.9h0M649.7 115.3h0M592.1 120.8h0M598.1 120.2h0M602.3 120.4h0M579.2 114.0h0M592.3 118.0h0M663.8 108.3h0M648.2 113.4h0M640.3 117.0h0M613.7 123.5h0M578.4 114.2h0M625.5 121.4h0M577.3 111.7h0M575.0 110.7h0M607.9 124.0h0M588.1 118.5h0M591.6 119.1h0M626.4 122.0h0M633.4 118.5h0M598.0 119.6h0M580.5 112.2h0M666.0 107.7h0M622.9 120.9h0M663.8 110.5h0M654.8 113.8h0M650.6 112.4h0M588.1 115.9h0M589.7 116.9h0M667.4 107.8h0M613.4 123.1h0M664.0 108.9h0M637.4 117.3h0M584.2 115.3h0M603.2 121.9h0M593.8 118.2h0M641.6 116.2h0M630.2 118.7h0M612.8 122.7h0M627.2 118.9h0M614.2 123.4h0M638.9 117.1h0M593.0 118.4h0M668.5 107.3h0M635.9 118.9h0M674.2 104.4h0M586.4 117.1h0M612.5 122.5h0M648.9 114.5h0M602.9 122.2h0M603.8 122.4h0M648.1 116.8h0M672.6 105.5h0M664.7 107.9h0M655.2 110.2h0M652.5 111.6h0M666.2 109.2h0M676.3 103.4h0M669.6 108.9h0M680.6 103.8h0M663.3 110.9h0M587.6 118.6h0M615.9 123.2h0M656.9 112.0h0M578.8 113.7h0M607.1 124.2h0M638.0 117.0h0M665.2 107.6h0M679.3 103.4h0M647.4 114.1h0M592.6 117.8h0M632.5 119.3h0M608.9 124.2h0M572.2 110.7h0M607.7 124.3h0M641.3 113.4h0M579.1 113.4h0M624.4 121.4h0M650.6 112.7h0M617.8 124.2h0M606.5 124.1h0M652.6 112.9h0M622.3 121.4h0M657.1 112.3h0M677.1 103.7h0M589.6 115.7h0M575.8 112.6h0M651.5 113.5h0M634.2 119.5h0M578.3 115.4h0M582.7 113.4h0M661.7 109.8h0M646.4 117.3h0M612.5 124.2h0M584.3 115.3h0M596.9 120.0h0M575.2 111.6h0M629.8 119.0h0M585.9 117.3h0M609.5 125.5h0M585.1 116.2h0M668.1 109.0h0M632.3 120.6h0M645.6 116.6h0M678.0 104.2h0M640.8 114.9h0M622.9 119.8h0M600.6 121.1h0M637.4 118.8h0M578.4 113.0h0M586.3 117.1h0M679.7 104.1h0M658.2 111.6h0M627.0 118.9h0M659.4 112.7h0M624.6 119.2h0M615.3 123.9h0M680.7 102.6h0M577.0 112.8h0M645.7 115.3h0M588.4 116.0h0M637.5 116.6h0M655.0 113.4h0M612.0 123.4h0M668.6 107.3h0M668.3 107.3h0M624.5 120.3h0M668.8 106.9h0M653.5 111.7h0M595.3 118.6h0M620.5 121.9h0M673.7 105.6h0M608.5 122.9h0M583.9 113.6h0M576.0 112.8h0M669.9 107.8h0M658.0 111.3h0M637.6 117.2h0M623.2 121.7h0M594.7 116.8h0M641.9 114.3h0M675.2 103.8h0M639.2 117.8h0M670.2 105.2h0M658.4 110.0h0M587.2 115.9h0M631.4 117.0h0M599.1 121.2h0M632.0 119.1h0M652.9 112.8h0M654.6 113.3h0M647.7 114.1h0M651.1 114.5h0M582.4 114.3h0M590.4 116.8h0M642.1 117.5h0M611.6 124.2h0M678.0 103.3h0M637.8 116.3h0M637.0 116.4h0M638.7 117.0h0M667.3 109.3h0M677.4 105.3h0M612.7 122.7h0M616.6 123.6h0M610.3 123.0h0M610.3 123.0h0M645.5 117.1h0M663.7 110.3h0M599.3 119.7h0M606.3 121.8h0M672.2 104.9h0M604.9 123.1h0M587.5 116.0h0M641.4 116.2h0M599.7 121.1h0M654.5 112.4h0M610.4 122.0h0M623.5 120.6h0M618.2 121.4h0M602.3 121.8h0M641.5 116.8h0M659.3 111.2h0M585.0 114.8h0M580.4 113.3h0M573.6 112.6h0M621.3 122.2h0M575.8 112.5h0M617.8 124.0h0M611.1 121.7h0M672.3 105.0h0M585.7 116.7h0M659.8 109.6h0M582.6 113.8h0M582.1 114.8h0M679.9 102.8h0M634.8 116.1h0M654.4 114.3h0M642.2 118.1h0M644.8 115.4h0M589.2 118.0h0M628.1 120.0h0M649.5 115.1h0M657.8 112.7h0M661.7 109.5h0M577.1 112.2h0M589.4 116.2h0M619.7 122.0h0M622.6 121.9h0M656.7 112.2h0M608.1 122.9h0M572.1 112.2h0M631.6 117.1h0M579.5 112.2h0M601.1 121.2h0M644.5 117.2h0M616.9 123.2h0M622.3 121.3h0M600.0 121.2h0M587.0 116.6h0M593.5 119.9h0M572.3 111.0h0M679.3 102.8h0M589.3 117.9h0M661.8 109.3h0M654.2 112.9h0M660.9 109.6h0M585.1 115.7h0M589.9 116.9h0M670.9 104.2h0M623.5 120.2h0M598.2 119.6h0M642.5 116.6h0M619.5 123.6h0M621.7 122.3h0M621.5 121.2h0M646.5 115.5h0M633.6 119.3h0M587.8 115.4h0M611.1 123.6h0M575.5 110.9h0M674.5 104.6h0M663.1 108.6h0M612.1 123.5h0M605.8 122.2h0M663.2 108.3h0M613.5 123.1h0M573.7 110.8h0M655.2 112.3h0M658.0 109.7h0M581.1 113.6h0M655.6 111.5h0M652.1 114.0h0M610.6 122.9h0M623.3 120.7h0M660.1 111.4h0M672.0 108.2h0M674.0 106.9h0M590.6 116.8h0M659.5 110.9h0M585.2 115.8h0M663.3 108.3h0M646.0 114.8h0M666.1 106.2h0M627.4 119.1h0M603.8 122.1h0M617.5 121.0h0M661.1 110.7h0M579.8 113.4h0M609.0 122.6h0M596.7 119.4h0M616.8 122.4h0M631.4 120.1h0M603.6 121.5h0M573.8 111.7h0M625.4 121.3h0M613.1 123.5h0M604.3 122.2h0M604.4 122.4h0M624.3 120.5h0M574.1 110.7h0M620.3 122.4h0M629.2 119.0h0M657.4 111.6h0M632.5 119.7h0M653.7 113.0h0M626.7 119.6h0M669.2 109.1h0M650.9 114.6h0M630.0 120.4h0M635.0 120.0h0M665.3 108.9h0M577.7 112.7h0M637.1 119.1h0M670.8 105.4h0M612.8 123.1h0M675.1 104.2h0M587.7 115.2h0M654.0 114.6h0M605.4 122.8h0M668.1 106.8h0M651.7 113.7h0M667.6 107.6h0M580.8 114.7h0M649.1 114.7h0M673.6 105.8h0M629.4 118.3h0M608.8 123.9h0M583.3 113.0h0M585.5 117.2h0M620.5 121.9h0M583.9 113.5h0M608.3 125.0h0M619.3 121.3h0M636.8 115.4h0M670.7 107.5h0M662.1 109.7h0M622.0 120.5h0M576.7 111.0h0M573.8 107.3h0M573.4 116.6h0M571.3 114.8h0M577.6 108.8h0M570.8 114.5h0M572.8 109.3h0M579.2 114.2h0M571.4 107.6h0M580.0 109.9h0M575.0 109.7h0M577.9 111.9h0M573.0 111.8h0M576.9 113.7h0M551.2 105.4h0M559.8 108.2h0M564.1 112.4h0M557.2 113.9h0M567.1 109.2h0" stroke="#ababab" stroke-width="1.15" stroke-linecap="round" fill="none"/>
<line x1="573.6" y1="12.7" x2="573.6" y2="127.2" stroke="#b5b5b5" stroke-width="0.9" stroke-dasharray="3,2"/>
<line x1="639.6" y1="12.7" x2="639.6" y2="127.2" stroke="#b5b5b5" stroke-width="0.9" stroke-dasharray="3,2"/>
<line x1="517.7" y1="102.6" x2="679.6" y2="102.6" stroke="#a8a8a8" stroke-width="0.9" stroke-dasharray="3,2"/>
<circle cx="532.0" cy="23.4" r="1.85" fill="#c9101c"/>
<circle cx="565.5" cy="23.4" r="1.85" fill="#c9101c"/>
<circle cx="562.3" cy="39.7" r="1.85" fill="#c9101c"/>
<circle cx="548.4" cy="39.7" r="1.85" fill="#c9101c"/>
<circle cx="568.1" cy="53.7" r="1.85" fill="#c9101c"/>
<circle cx="549.6" cy="58.1" r="1.85" fill="#c9101c"/>
<circle cx="566.2" cy="59.6" r="1.85" fill="#c9101c"/>
<circle cx="567.4" cy="65.0" r="1.85" fill="#c9101c"/>
<circle cx="570.0" cy="66.4" r="1.85" fill="#c9101c"/>
<circle cx="563.2" cy="70.1" r="1.85" fill="#c9101c"/>
<circle cx="562.6" cy="72.4" r="1.85" fill="#c9101c"/>
<circle cx="562.7" cy="77.8" r="1.85" fill="#c9101c"/>
<circle cx="565.9" cy="81.2" r="1.85" fill="#c9101c"/>
<circle cx="567.7" cy="86.0" r="1.85" fill="#c9101c"/>
<circle cx="570.1" cy="86.0" r="1.85" fill="#c9101c"/>
<circle cx="572.9" cy="86.3" r="1.85" fill="#c9101c"/>
<circle cx="571.0" cy="88.9" r="1.85" fill="#c9101c"/>
<circle cx="573.3" cy="95.8" r="1.85" fill="#c9101c"/>
<circle cx="640.9" cy="74.3" r="1.85" fill="#0e3f80"/>
<circle cx="650.0" cy="78.2" r="1.85" fill="#0e3f80"/>
<circle cx="651.9" cy="79.3" r="1.85" fill="#0e3f80"/>
<circle cx="659.5" cy="78.7" r="1.85" fill="#0e3f80"/>
<circle cx="656.2" cy="82.3" r="1.85" fill="#0e3f80"/>
<circle cx="646.0" cy="82.6" r="1.85" fill="#0e3f80"/>
<circle cx="648.0" cy="83.4" r="1.85" fill="#0e3f80"/>
<circle cx="647.0" cy="85.5" r="1.85" fill="#0e3f80"/>
<circle cx="645.6" cy="86.6" r="1.85" fill="#0e3f80"/>
<circle cx="649.2" cy="91.8" r="1.85" fill="#0e3f80"/>
<circle cx="644.9" cy="92.1" r="1.85" fill="#0e3f80"/>
<circle cx="641.2" cy="93.6" r="1.85" fill="#0e3f80"/>
<circle cx="640.5" cy="95.8" r="1.85" fill="#0e3f80"/>
<circle cx="642.7" cy="97.7" r="1.85" fill="#0e3f80"/>
<circle cx="644.1" cy="98.7" r="1.85" fill="#0e3f80"/>
<circle cx="647.0" cy="99.7" r="1.85" fill="#0e3f80"/>
<circle cx="640.5" cy="99.4" r="1.85" fill="#0e3f80"/>
<circle cx="640.2" cy="102.3" r="1.85" fill="#0e3f80"/>
<circle cx="641.9" cy="100.6" r="1.85" fill="#0e3f80"/>
<circle cx="643.0" cy="93.0" r="1.85" fill="#0e3f80"/>
<circle cx="642.0" cy="95.0" r="1.85" fill="#0e3f80"/>
<circle cx="645.5" cy="96.5" r="1.85" fill="#0e3f80"/>
<circle cx="641.0" cy="97.5" r="1.85" fill="#0e3f80"/>
<circle cx="644.0" cy="91.5" r="1.85" fill="#0e3f80"/>
<text x="552.9" y="19" text-anchor="middle" fill="#c9101c" style="stroke:#c9101c" font-size="6.1">DDX41</text>
<text x="529.4" y="33.9" text-anchor="middle" fill="#c9101c" style="stroke:#c9101c" font-size="6.1">CEBPA</text>
<text x="557.8" y="34.3" text-anchor="middle" fill="#c9101c" style="stroke:#c9101c" font-size="6.1">E2F1</text>
<text x="550.7" y="67.9" text-anchor="middle" fill="#c9101c" style="stroke:#c9101c" font-size="6.1">MYC</text>
<text x="528.6" y="99.4" text-anchor="middle" fill="#c9101c" style="stroke:#c9101c" font-size="6.1">(n=18)</text>
<text x="557.2" y="98.2" text-anchor="middle" fill="#c9101c" style="stroke:#c9101c" font-size="6.1">DHX37</text>
<text x="660" y="100.6" text-anchor="middle" fill="#0e3f80" style="stroke:#0e3f80" font-size="6.1">(n=24)</text>
<line x1="561.5" y1="19.2" x2="565" y2="22.6" stroke="#c9101c" stroke-width="0.7"/>
<line x1="529.5" y1="27.6" x2="531.6" y2="22.8" stroke="#c9101c" stroke-width="0.7"/>
<line x1="558.6" y1="35.8" x2="561.8" y2="39" stroke="#c9101c" stroke-width="0.7"/>
<line x1="558.3" y1="67" x2="562.8" y2="69.6" stroke="#c9101c" stroke-width="0.7"/>
<line x1="566.6" y1="95.8" x2="571.6" y2="95.8" stroke="#c9101c" stroke-width="0.7"/>
<rect x="517.7" y="12.7" width="161.9" height="114.5" fill="none" stroke="#1a1a1a" stroke-width="1.3"/>
<line x1="513.5" y1="127.2" x2="517.7" y2="127.2" stroke="#1a1a1a" stroke-width="1.3"/>
<text x="511.6" y="130.1" text-anchor="end" font-size="8.2">0</text>
<line x1="513.5" y1="89.2" x2="517.7" y2="89.2" stroke="#1a1a1a" stroke-width="1.3"/>
<text x="511.6" y="92.1" text-anchor="end" font-size="8.2">2</text>
<line x1="513.5" y1="51.2" x2="517.7" y2="51.2" stroke="#1a1a1a" stroke-width="1.3"/>
<text x="511.6" y="54.1" text-anchor="end" font-size="8.2">4</text>
<line x1="513.5" y1="13.2" x2="517.7" y2="13.2" stroke="#1a1a1a" stroke-width="1.3"/>
<text x="511.6" y="16.1" text-anchor="end" font-size="8.2">6</text>
<line x1="540.7" y1="127.2" x2="540.7" y2="131.4" stroke="#1a1a1a" stroke-width="1.3"/>
<text x="539.1" y="142.6" text-anchor="middle" font-size="8.2">-2</text>
<line x1="573.6" y1="127.2" x2="573.6" y2="131.4" stroke="#1a1a1a" stroke-width="1.3"/>
<text x="572" y="142.6" text-anchor="middle" font-size="8.2">-1</text>
<line x1="606.6" y1="127.2" x2="606.6" y2="131.4" stroke="#1a1a1a" stroke-width="1.3"/>
<text x="606.6" y="142.6" text-anchor="middle" font-size="8.2">0</text>
<line x1="639.6" y1="127.2" x2="639.6" y2="131.4" stroke="#1a1a1a" stroke-width="1.3"/>
<text x="639.6" y="142.6" text-anchor="middle" font-size="8.2">1</text>
<line x1="672.5" y1="127.2" x2="672.5" y2="131.4" stroke="#1a1a1a" stroke-width="1.3"/>
<text x="672.5" y="142.6" text-anchor="middle" font-size="8.2">2</text>
<text x="588.4" y="152.4" font-size="8.3">Log<tspan font-size="5.5" dy="2">2</tspan><tspan dy="-2">(FC)</tspan></text>
<text transform="translate(499.6 70) rotate(-90)" text-anchor="middle" font-size="8.3">-Log<tspan font-size="5.5" dy="2">10</tspan><tspan dy="-2">(P value)</tspan></text>
<circle cx="589.0" cy="22.6" r="2.6" fill="#c9101c"/>
<text x="594.8" y="25.6" font-size="8.45">Down</text>
<circle cx="589.0" cy="32.9" r="2.6" fill="#0e3f80"/>
<text x="594.8" y="35.9" font-size="8.45">Up</text>
<circle cx="589.0" cy="43.4" r="2.6" fill="#fbd7b5"/>
<text x="594.8" y="46.4" font-size="8.45">Stable</text>
<circle cx="589.0" cy="53.7" r="2.6" fill="#a6a6a6"/>
<text x="594.8" y="56.7" font-size="8.45">sgNCs</text>
<text x="1" y="172.4" font-weight="bold" font-size="8.6">d</text>
<line x1="35.5" y1="266.5" x2="157.6" y2="266.5" stroke="#777" stroke-width="0.9" stroke-dasharray="3.2,2.2"/>
<path d="M39.5,181 C39.6,200 40.0,228 40.6,240 C41.3,251 43.5,259 46.7,264 C49.5,268.5 53,271.8 58.4,274.6 C64,277.3 70,278.7 78,280.3 C88,282.3 100,284 115,286 C127,287.5 140,288.5 156.8,289" fill="none" stroke="#333" stroke-width="2.2"/>
<circle cx="39.7" cy="183.4" r="3.0" fill="#3aa68a"/>
<circle cx="39.7" cy="198.2" r="3.0" fill="#e0522a"/>
<circle cx="40.1" cy="216.6" r="3.0" fill="#8fbe9e"/>
<circle cx="41.2" cy="239.3" r="3.0" fill="#eec065"/>
<circle cx="45.0" cy="257.7" r="3.0" fill="#8c3a1e"/>
<rect x="35.5" y="172.9" width="122.1" height="116.1" fill="none" stroke="#1a1a1a" stroke-width="1.3"/>
<line x1="31.5" y1="288.9" x2="35.5" y2="288.9" stroke="#1a1a1a" stroke-width="1.3"/>
<text x="29.9" y="291.8" text-anchor="end" font-size="8.4">0</text>
<line x1="31.5" y1="259.9" x2="35.5" y2="259.9" stroke="#1a1a1a" stroke-width="1.3"/>
<text x="29.9" y="262.8" text-anchor="end" font-size="8.4">2</text>
<line x1="31.5" y1="231" x2="35.5" y2="231" stroke="#1a1a1a" stroke-width="1.3"/>
<text x="29.9" y="233.9" text-anchor="end" font-size="8.4">4</text>
<line x1="31.5" y1="202" x2="35.5" y2="202" stroke="#1a1a1a" stroke-width="1.3"/>
<text x="29.9" y="204.9" text-anchor="end" font-size="8.4">6</text>
<line x1="31.5" y1="173.1" x2="35.5" y2="173.1" stroke="#1a1a1a" stroke-width="1.3"/>
<text x="29.9" y="176" text-anchor="end" font-size="8.4">8</text>
<line x1="38.2" y1="289" x2="38.2" y2="292.4" stroke="#1a1a1a" stroke-width="1.3"/>
<text x="38.2" y="300.8" text-anchor="middle" font-size="8.4">0</text>
<line x1="73.6" y1="289" x2="73.6" y2="292.4" stroke="#1a1a1a" stroke-width="1.3"/>
<text x="73.6" y="300.8" text-anchor="middle" font-size="8.4">400</text>
<line x1="109" y1="289" x2="109" y2="292.4" stroke="#1a1a1a" stroke-width="1.3"/>
<text x="109" y="300.8" text-anchor="middle" font-size="8.4">800</text>
<line x1="144.4" y1="289" x2="144.4" y2="292.4" stroke="#1a1a1a" stroke-width="1.3"/>
<text x="144.4" y="300.8" text-anchor="middle" font-size="8.4">1200</text>
<circle cx="110.4" cy="181.3" r="3.0" fill="#3aa68a"/>
<text x="116.6" y="185.8" font-size="8.35">CEBPA</text>
<circle cx="110.4" cy="192.9" r="3.0" fill="#e0522a"/>
<text x="116.6" y="197.4" font-size="8.35">DDX41</text>
<circle cx="110.4" cy="204.7" r="3.0" fill="#8fbe9e"/>
<text x="116.6" y="209.2" font-size="8.35">E2F1</text>
<circle cx="110.4" cy="216.4" r="3.0" fill="#eec065"/>
<text x="116.6" y="220.9" font-size="8.35">MYC</text>
<circle cx="110.4" cy="228.3" r="3.0" fill="#8c3a1e"/>
<text x="116.6" y="232.8" font-size="8.35">DHX37</text>
<text x="123.2" y="264" fill="#666" style="stroke:#666" font-size="7.5">(n = 79)</text>
<text x="123.2" y="275.1" font-size="7.5" fill="#666" style="stroke:#666"><tspan font-style="italic">P</tspan> = 0.05</text>
<text transform="translate(9.0 230.6) rotate(-90)" text-anchor="middle" font-size="8.5">RRA Neg Score Ranking</text>
<text transform="translate(18.0 230.6) rotate(-90)" text-anchor="middle" font-size="8.2">(nromalized -Log<tspan font-size="5.5" dy="2">10</tspan><tspan dy="-2">)</tspan></text>
<text x="175.9" y="172.8" font-weight="bold" font-size="8.6">e</text>
<path d="M231.7 279.5L257.6 275.2M231.7 277.3L257.6 274.2M231.7 276.7L257.6 273.6M231.7 282.2L257.6 273.3M231.7 285.0L257.6 271.9M231.7 284.0L257.6 271.7M231.7 285.1L257.6 271.4M231.7 277.8L257.6 270.9M231.7 281.0L257.6 270.4M231.7 277.9L257.6 269.8M231.7 283.8L257.6 268.4M231.7 280.6L257.6 267.4M231.7 277.5L257.6 267.4M231.7 279.9L257.6 266.9M231.7 277.5L257.6 266.7M231.7 279.3L257.6 266.7M231.7 282.7L257.6 266.4M231.7 280.9L257.6 266.4M231.7 283.8L257.6 265.9M231.7 278.2L257.6 265.9M231.7 275.5L257.6 264.9M231.7 284.0L257.6 263.9M231.7 285.0L257.6 263.9M231.7 286.3L257.6 263.8M231.7 277.6L257.6 262.4M231.7 281.0L257.6 262.3M231.7 277.2L257.6 261.5M231.7 282.2L257.6 261.3M231.7 278.1L257.6 261.0M231.7 284.6L257.6 260.7M231.7 286.0L257.6 259.4M231.7 276.0L257.6 259.2M231.7 278.7L257.6 258.4M231.7 284.5L257.6 257.6M231.7 281.3L257.6 256.9M231.7 275.2L257.6 256.0M231.7 280.8L257.6 255.7M231.7 284.3L257.6 254.5M231.7 283.7L257.6 254.3M231.7 275.7L257.6 254.2M231.7 286.0L257.6 254.0M231.7 276.6L257.6 253.4M231.7 283.7L257.6 253.3M231.7 276.4L257.6 252.5M231.7 282.5L257.6 252.4M231.7 285.9L257.6 251.8M231.7 279.8L257.6 251.7M231.7 280.7L257.6 251.6M231.7 280.2L257.6 239.0M231.7 285.6L257.6 203.5" stroke="#111" stroke-width="0.7" fill="none"/>
<path d="M231.7 279.5h0M231.7 277.3h0M231.7 276.7h0M231.7 282.2h0M231.7 285.0h0M231.7 284.0h0M231.7 285.1h0M231.7 277.8h0M231.7 281.0h0M231.7 277.9h0M231.7 283.8h0M231.7 280.6h0M231.7 277.5h0M231.7 279.9h0M231.7 277.5h0M231.7 279.3h0M231.7 282.7h0M231.7 280.9h0M231.7 283.8h0M231.7 278.2h0M231.7 275.5h0M231.7 284.0h0M231.7 285.0h0M231.7 286.3h0M231.7 277.6h0M231.7 281.0h0M231.7 277.2h0M231.7 282.2h0M231.7 278.1h0M231.7 284.6h0M231.7 286.0h0M231.7 276.0h0M231.7 278.7h0M231.7 284.5h0M231.7 281.3h0M231.7 275.2h0M231.7 280.8h0M231.7 284.3h0M231.7 283.7h0M231.7 275.7h0M231.7 286.0h0M231.7 276.6h0M231.7 283.7h0M231.7 276.4h0M231.7 282.5h0M231.7 285.9h0M231.7 279.8h0M231.7 280.7h0M231.7 280.2h0M231.7 285.6h0" stroke="#444" stroke-width="1.3" stroke-linecap="round" fill="none"/>
<path d="M257.6 275.2h0M257.6 274.2h0M257.6 273.6h0M257.6 273.3h0M257.6 271.9h0M257.6 271.7h0M257.6 271.4h0M257.6 270.9h0M257.6 270.4h0M257.6 269.8h0M257.6 268.4h0M257.6 267.4h0M257.6 267.4h0M257.6 266.9h0M257.6 266.7h0M257.6 266.7h0M257.6 266.4h0M257.6 266.4h0M257.6 265.9h0M257.6 265.9h0M257.6 264.9h0M257.6 263.9h0M257.6 263.9h0M257.6 263.8h0M257.6 262.4h0M257.6 262.3h0M257.6 261.5h0M257.6 261.3h0M257.6 261.0h0M257.6 260.7h0M257.6 259.4h0M257.6 259.2h0M257.6 258.4h0M257.6 257.6h0M257.6 256.9h0M257.6 256.0h0M257.6 255.7h0M257.6 254.5h0M257.6 254.3h0M257.6 254.2h0M257.6 254.0h0M257.6 253.4h0M257.6 253.3h0M257.6 252.5h0M257.6 252.4h0M257.6 251.8h0M257.6 251.7h0M257.6 251.6h0M257.6 239.0h0M257.6 203.5h0" stroke="#c80f14" stroke-width="1.6" stroke-linecap="round" fill="none"/>
<line x1="215.4" y1="190.3" x2="215.4" y2="289" stroke="#1a1a1a" stroke-width="1.3"/>
<line x1="215.4" y1="289" x2="275.2" y2="289" stroke="#1a1a1a" stroke-width="1.3"/>
<line x1="211.8" y1="289" x2="215.4" y2="289" stroke="#1a1a1a" stroke-width="1.3"/>
<text x="209.4" y="291.9" text-anchor="end" font-size="8.3">0</text>
<line x1="211.8" y1="256.1" x2="215.4" y2="256.1" stroke="#1a1a1a" stroke-width="1.3"/>
<text x="209.4" y="259" text-anchor="end" font-size="8.3">50</text>
<line x1="211.8" y1="223.2" x2="215.4" y2="223.2" stroke="#1a1a1a" stroke-width="1.3"/>
<text x="209.4" y="226.1" text-anchor="end" font-size="8.3">100</text>
<line x1="211.8" y1="190.3" x2="215.4" y2="190.3" stroke="#1a1a1a" stroke-width="1.3"/>
<text x="209.4" y="193.2" text-anchor="end" font-size="8.3">150</text>
<line x1="231.7" y1="289" x2="231.7" y2="292.4" stroke="#1a1a1a" stroke-width="1.3"/>
<text x="231.7" y="303.2" text-anchor="middle" font-size="8.3">NT</text>
<line x1="257.6" y1="289" x2="257.6" y2="292.4" stroke="#1a1a1a" stroke-width="1.3"/>
<text x="257.6" y="303.2" text-anchor="middle" font-size="8.3">T</text>
<text x="244.1" y="179" text-anchor="middle" font-size="8.4">GSE77314</text>
<text x="244.9" y="195.6" font-size="7.2" text-anchor="middle"><tspan font-style="italic">P</tspan> &lt; 0.0001</text>
<path d="M231.7,267.4 L231.7,198.9 L257.6,198.9 L257.6,200.6" fill="none" stroke="#111" stroke-width="1.3"/>
<text transform="translate(190.3 241) rotate(-90)" text-anchor="middle" font-size="8.55"><tspan font-style="italic">DDX41</tspan> expression (tpm)</text>
<path d="M359.5 276.5L385.6 277.6M359.5 275.8L385.6 271.5M359.5 273.6L385.6 279.5M359.5 280.0L385.6 272.8M359.5 275.6L385.6 275.0M359.5 272.7L385.6 275.4M359.5 272.5L385.6 261.1M359.5 281.1L385.6 267.2M359.5 275.6L385.6 266.7M359.5 276.0L385.6 270.2M359.5 277.3L385.6 264.6M359.5 271.8L385.6 257.0M359.5 277.0L385.6 271.8M359.5 278.0L385.6 279.2M359.5 272.1L385.6 266.4M359.5 275.8L385.6 269.6M359.5 279.7L385.6 257.2M359.5 279.6L385.6 277.9M359.5 277.4L385.6 254.3M359.5 282.7L385.6 280.9M359.5 276.1L385.6 264.5M359.5 274.6L385.6 267.6M359.5 278.3L385.6 271.6M359.5 273.3L385.6 253.8M359.5 272.3L385.6 259.6M359.5 276.7L385.6 276.3M359.5 275.2L385.6 266.0M359.5 281.9L385.6 262.4M359.5 282.6L385.6 280.3M359.5 271.7L385.6 278.6M359.5 279.9L385.6 262.7M359.5 280.8L385.6 258.7M359.5 272.7L385.6 267.0M359.5 274.4L385.6 268.3M359.5 281.8L385.6 265.6M359.5 279.5L385.6 273.3M359.5 280.4L385.6 254.2M359.5 280.1L385.6 251.5M359.5 283.2L385.6 266.4M359.5 277.1L385.6 280.7M359.5 279.7L385.6 269.0M359.5 278.6L385.6 256.5M359.5 281.1L385.6 249.0M359.5 282.0L385.6 242.5M359.5 282.9L385.6 240.5M359.5 273.0L385.6 238.5M359.5 274.4L385.6 237.2M359.5 276.7L385.6 227.3M359.5 281.8L385.6 224.0M359.5 281.5L385.6 222.7" stroke="#111" stroke-width="0.7" fill="none"/>
<path d="M359.5 276.5h0M359.5 275.8h0M359.5 273.6h0M359.5 280.0h0M359.5 275.6h0M359.5 272.7h0M359.5 272.5h0M359.5 281.1h0M359.5 275.6h0M359.5 276.0h0M359.5 277.3h0M359.5 271.8h0M359.5 277.0h0M359.5 278.0h0M359.5 272.1h0M359.5 275.8h0M359.5 279.7h0M359.5 279.6h0M359.5 277.4h0M359.5 282.7h0M359.5 276.1h0M359.5 274.6h0M359.5 278.3h0M359.5 273.3h0M359.5 272.3h0M359.5 276.7h0M359.5 275.2h0M359.5 281.9h0M359.5 282.6h0M359.5 271.7h0M359.5 279.9h0M359.5 280.8h0M359.5 272.7h0M359.5 274.4h0M359.5 281.8h0M359.5 279.5h0M359.5 280.4h0M359.5 280.1h0M359.5 283.2h0M359.5 277.1h0M359.5 279.7h0M359.5 278.6h0M359.5 281.1h0M359.5 282.0h0M359.5 282.9h0M359.5 273.0h0M359.5 274.4h0M359.5 276.7h0M359.5 281.8h0M359.5 281.5h0" stroke="#444" stroke-width="1.3" stroke-linecap="round" fill="none"/>
<path d="M385.6 277.6h0M385.6 271.5h0M385.6 279.5h0M385.6 272.8h0M385.6 275.0h0M385.6 275.4h0M385.6 261.1h0M385.6 267.2h0M385.6 266.7h0M385.6 270.2h0M385.6 264.6h0M385.6 257.0h0M385.6 271.8h0M385.6 279.2h0M385.6 266.4h0M385.6 269.6h0M385.6 257.2h0M385.6 277.9h0M385.6 254.3h0M385.6 280.9h0M385.6 264.5h0M385.6 267.6h0M385.6 271.6h0M385.6 253.8h0M385.6 259.6h0M385.6 276.3h0M385.6 266.0h0M385.6 262.4h0M385.6 280.3h0M385.6 278.6h0M385.6 262.7h0M385.6 258.7h0M385.6 267.0h0M385.6 268.3h0M385.6 265.6h0M385.6 273.3h0M385.6 254.2h0M385.6 251.5h0M385.6 266.4h0M385.6 280.7h0M385.6 269.0h0M385.6 256.5h0M385.6 249.0h0M385.6 242.5h0M385.6 240.5h0M385.6 238.5h0M385.6 237.2h0M385.6 227.3h0M385.6 224.0h0M385.6 222.7h0" stroke="#c80f14" stroke-width="1.6" stroke-linecap="round" fill="none"/>
<line x1="343" y1="191" x2="343" y2="289.9" stroke="#1a1a1a" stroke-width="1.3"/>
<line x1="343" y1="289.9" x2="402.4" y2="289.9" stroke="#1a1a1a" stroke-width="1.3"/>
<line x1="339.4" y1="289.9" x2="343" y2="289.9" stroke="#1a1a1a" stroke-width="1.3"/>
<text x="337" y="292.8" text-anchor="end" font-size="8.3">0</text>
<line x1="339.4" y1="256.9" x2="343" y2="256.9" stroke="#1a1a1a" stroke-width="1.3"/>
<text x="337" y="259.8" text-anchor="end" font-size="8.3">50</text>
<line x1="339.4" y1="224" x2="343" y2="224" stroke="#1a1a1a" stroke-width="1.3"/>
<text x="337" y="226.9" text-anchor="end" font-size="8.3">100</text>
<line x1="339.4" y1="191" x2="343" y2="191" stroke="#1a1a1a" stroke-width="1.3"/>
<text x="337" y="193.9" text-anchor="end" font-size="8.3">150</text>
<line x1="359.5" y1="289.9" x2="359.5" y2="293.3" stroke="#1a1a1a" stroke-width="1.3"/>
<text x="359.5" y="304.1" text-anchor="middle" font-size="8.3">NT</text>
<line x1="385.6" y1="289.9" x2="385.6" y2="293.3" stroke="#1a1a1a" stroke-width="1.3"/>
<text x="385.6" y="304.1" text-anchor="middle" font-size="8.3">T</text>
<text x="372.2" y="179" text-anchor="middle" font-size="8.4">TCGA_50paired</text>
<text x="372.7" y="208.2" font-size="7.2" text-anchor="middle"><tspan font-style="italic">P</tspan> &lt; 0.0001</text>
<path d="M359.5,268.2 L359.5,211.7 L385.6,211.7 L385.6,213.4" fill="none" stroke="#111" stroke-width="1.3"/>
<text transform="translate(318.4 241) rotate(-90)" text-anchor="middle" font-size="8.55"><tspan font-style="italic">DDX41</tspan> expression (tpm)</text>
<path d="M490.7 274.3L516.1 285.0M490.7 275.5L516.1 275.0M490.7 276.7L516.1 268.6M490.7 280.5L516.1 264.1M490.7 278.3L516.1 268.0M490.7 277.4L516.1 280.5M490.7 278.0L516.1 275.2M490.7 278.0L516.1 263.5M490.7 275.6L516.1 272.8M490.7 274.1L516.1 271.9M490.7 271.8L516.1 274.2M490.7 278.9L516.1 262.7M490.7 281.6L516.1 275.7M490.7 275.4L516.1 275.7M490.7 279.8L516.1 265.9M490.7 282.0L516.1 283.1M490.7 271.1L516.1 275.7M490.7 274.8L516.1 256.1M490.7 280.0L516.1 272.8M490.7 279.8L516.1 270.2M490.7 276.7L516.1 285.8M490.7 277.6L516.1 273.7M490.7 276.4L516.1 279.4M490.7 278.9L516.1 277.5M490.7 285.9L516.1 278.0M490.7 285.9L516.1 272.2M490.7 274.3L516.1 274.7M490.7 277.5L516.1 266.3M490.7 285.9L516.1 285.9M490.7 277.1L516.1 277.3M490.7 277.2L516.1 268.1M490.7 275.4L516.1 270.4M490.7 278.4L516.1 263.6M490.7 277.1L516.1 276.0M490.7 282.1L516.1 266.3M490.7 285.4L516.1 269.4M490.7 279.5L516.1 281.1M490.7 278.0L516.1 284.5M490.7 280.0L516.1 260.4M490.7 285.3L516.1 265.5M490.7 280.6L516.1 272.0M490.7 281.6L516.1 277.9M490.7 275.5L516.1 284.7M490.7 283.7L516.1 275.2M490.7 282.9L516.1 272.2M490.7 281.3L516.1 262.4M490.7 277.9L516.1 275.0M490.7 273.7L516.1 273.6M490.7 276.6L516.1 273.6M490.7 284.7L516.1 265.9M490.7 282.9L516.1 262.5M490.7 271.9L516.1 260.5M490.7 277.7L516.1 272.7M490.7 279.5L516.1 267.9M490.7 276.7L516.1 279.3M490.7 275.9L516.1 277.3M490.7 271.3L516.1 275.1M490.7 277.8L516.1 267.3M490.7 281.7L516.1 285.9M490.7 282.7L516.1 272.3M490.7 274.4L516.1 259.9M490.7 278.6L516.1 265.7M490.7 277.8L516.1 263.4M490.7 276.4L516.1 276.5M490.7 282.8L516.1 270.5M490.7 271.5L516.1 278.8M490.7 279.6L516.1 252.8M490.7 279.4L516.1 251.2M490.7 279.7L516.1 246.2M490.7 277.9L516.1 213.2" stroke="#111" stroke-width="0.7" fill="none"/>
<path d="M490.7 274.3h0M490.7 275.5h0M490.7 276.7h0M490.7 280.5h0M490.7 278.3h0M490.7 277.4h0M490.7 278.0h0M490.7 278.0h0M490.7 275.6h0M490.7 274.1h0M490.7 271.8h0M490.7 278.9h0M490.7 281.6h0M490.7 275.4h0M490.7 279.8h0M490.7 282.0h0M490.7 271.1h0M490.7 274.8h0M490.7 280.0h0M490.7 279.8h0M490.7 276.7h0M490.7 277.6h0M490.7 276.4h0M490.7 278.9h0M490.7 285.9h0M490.7 285.9h0M490.7 274.3h0M490.7 277.5h0M490.7 285.9h0M490.7 277.1h0M490.7 277.2h0M490.7 275.4h0M490.7 278.4h0M490.7 277.1h0M490.7 282.1h0M490.7 285.4h0M490.7 279.5h0M490.7 278.0h0M490.7 280.0h0M490.7 285.3h0M490.7 280.6h0M490.7 281.6h0M490.7 275.5h0M490.7 283.7h0M490.7 282.9h0M490.7 281.3h0M490.7 277.9h0M490.7 273.7h0M490.7 276.6h0M490.7 284.7h0M490.7 282.9h0M490.7 271.9h0M490.7 277.7h0M490.7 279.5h0M490.7 276.7h0M490.7 275.9h0M490.7 271.3h0M490.7 277.8h0M490.7 281.7h0M490.7 282.7h0M490.7 274.4h0M490.7 278.6h0M490.7 277.8h0M490.7 276.4h0M490.7 282.8h0M490.7 271.5h0M490.7 279.6h0M490.7 279.4h0M490.7 279.7h0M490.7 277.9h0" stroke="#444" stroke-width="1.3" stroke-linecap="round" fill="none"/>
<path d="M516.1 285.0h0M516.1 275.0h0M516.1 268.6h0M516.1 264.1h0M516.1 268.0h0M516.1 280.5h0M516.1 275.2h0M516.1 263.5h0M516.1 272.8h0M516.1 271.9h0M516.1 274.2h0M516.1 262.7h0M516.1 275.7h0M516.1 275.7h0M516.1 265.9h0M516.1 283.1h0M516.1 275.7h0M516.1 256.1h0M516.1 272.8h0M516.1 270.2h0M516.1 285.8h0M516.1 273.7h0M516.1 279.4h0M516.1 277.5h0M516.1 278.0h0M516.1 272.2h0M516.1 274.7h0M516.1 266.3h0M516.1 285.9h0M516.1 277.3h0M516.1 268.1h0M516.1 270.4h0M516.1 263.6h0M516.1 276.0h0M516.1 266.3h0M516.1 269.4h0M516.1 281.1h0M516.1 284.5h0M516.1 260.4h0M516.1 265.5h0M516.1 272.0h0M516.1 277.9h0M516.1 284.7h0M516.1 275.2h0M516.1 272.2h0M516.1 262.4h0M516.1 275.0h0M516.1 273.6h0M516.1 273.6h0M516.1 265.9h0M516.1 262.5h0M516.1 260.5h0M516.1 272.7h0M516.1 267.9h0M516.1 279.3h0M516.1 277.3h0M516.1 275.1h0M516.1 267.3h0M516.1 285.9h0M516.1 272.3h0M516.1 259.9h0M516.1 265.7h0M516.1 263.4h0M516.1 276.5h0M516.1 270.5h0M516.1 278.8h0M516.1 252.8h0M516.1 251.2h0M516.1 246.2h0M516.1 213.2h0" stroke="#c80f14" stroke-width="1.6" stroke-linecap="round" fill="none"/>
<line x1="474.4" y1="188.5" x2="474.4" y2="287.5" stroke="#1a1a1a" stroke-width="1.3"/>
<line x1="474.4" y1="287.5" x2="533.7" y2="287.5" stroke="#1a1a1a" stroke-width="1.3"/>
<line x1="470.8" y1="287.5" x2="474.4" y2="287.5" stroke="#1a1a1a" stroke-width="1.3"/>
<text x="468.4" y="290.4" text-anchor="end" font-size="8.3">0</text>
<line x1="470.8" y1="254.5" x2="474.4" y2="254.5" stroke="#1a1a1a" stroke-width="1.3"/>
<text x="468.4" y="257.4" text-anchor="end" font-size="8.3">20</text>
<line x1="470.8" y1="221.5" x2="474.4" y2="221.5" stroke="#1a1a1a" stroke-width="1.3"/>
<text x="468.4" y="224.4" text-anchor="end" font-size="8.3">40</text>
<line x1="470.8" y1="188.5" x2="474.4" y2="188.5" stroke="#1a1a1a" stroke-width="1.3"/>
<text x="468.4" y="191.4" text-anchor="end" font-size="8.3">60</text>
<line x1="490.7" y1="287.5" x2="490.7" y2="290.9" stroke="#1a1a1a" stroke-width="1.3"/>
<text x="490.7" y="301.7" text-anchor="middle" font-size="8.3">NT</text>
<line x1="516.1" y1="287.5" x2="516.1" y2="290.9" stroke="#1a1a1a" stroke-width="1.3"/>
<text x="516.1" y="301.7" text-anchor="middle" font-size="8.3">T</text>
<text x="502.7" y="178.5" text-anchor="middle" font-size="8.4">GSE144269</text>
<text x="503.7" y="201.8" font-size="7.2" text-anchor="middle"><tspan font-style="italic">P</tspan> &lt; 0.0001</text>
<path d="M490.7,265.3 L490.7,206.4 L516.1,206.4 L516.1,208.2" fill="none" stroke="#111" stroke-width="1.3"/>
<text transform="translate(452.1 238.8) rotate(-90)" text-anchor="middle" font-size="8.55"><tspan font-style="italic">DDX41</tspan> expression (tpm)</text>
<text x="560.6" y="171.8" font-weight="bold" font-size="8.6">f</text>
<path d="M616.60,255.30 C616.82,255.37 617.53,255.44 617.90,255.70 C618.27,255.96 618.58,256.39 618.80,256.89 C619.02,257.38 619.08,258.04 619.20,258.67 C619.32,259.30 619.33,259.99 619.50,260.65 C619.67,261.31 619.80,262.00 620.20,262.63 C620.60,263.26 621.27,263.85 621.90,264.41 C622.53,264.97 623.50,265.53 624.00,266.00 C624.50,266.46 624.77,266.79 624.90,267.18 C625.03,267.58 625.05,267.98 624.80,268.37 C624.55,268.77 624.07,269.10 623.40,269.56 C622.73,270.02 621.63,270.65 620.80,271.14 C619.97,271.64 619.10,272.17 618.40,272.53 C617.70,272.89 616.90,273.19 616.60,273.32 C616.30,273.45 616.90,273.45 616.60,273.32 C616.30,273.19 615.50,272.89 614.80,272.53 C614.10,272.17 613.23,271.64 612.40,271.14 C611.57,270.65 610.47,270.02 609.80,269.56 C609.13,269.10 608.65,268.77 608.40,268.37 C608.15,267.98 608.17,267.58 608.30,267.18 C608.43,266.79 608.70,266.46 609.20,266.00 C609.70,265.53 610.67,264.97 611.30,264.41 C611.93,263.85 612.60,263.26 613.00,262.63 C613.40,262.00 613.53,261.31 613.70,260.65 C613.87,259.99 613.88,259.30 614.00,258.67 C614.12,258.04 614.18,257.38 614.40,256.89 C614.62,256.39 614.93,255.96 615.30,255.70 C615.67,255.44 616.38,255.37 616.60,255.30Z" fill="none" stroke="#333" stroke-width="1.1" stroke-linejoin="round"/>
<path d="M642.10,206.20 C642.27,206.36 642.78,206.53 643.10,207.19 C643.42,207.85 643.80,209.00 644.00,210.16 C644.20,211.31 644.35,212.96 644.30,214.12 C644.25,215.27 643.82,216.17 643.70,217.09 C643.58,218.01 643.45,218.84 643.60,219.66 C643.75,220.49 644.28,221.15 644.60,222.04 C644.92,222.93 645.05,223.85 645.50,225.01 C645.95,226.16 646.70,227.65 647.30,228.97 C647.90,230.29 648.53,231.68 649.10,232.93 C649.67,234.18 650.48,235.50 650.70,236.49 C650.92,237.48 650.73,237.98 650.40,238.87 C650.07,239.76 649.12,240.85 648.70,241.84 C648.28,242.83 647.90,243.82 647.90,244.81 C647.90,245.80 648.27,246.79 648.70,247.78 C649.13,248.77 650.20,249.86 650.50,250.75 C650.80,251.64 650.82,252.30 650.50,253.13 C650.18,253.95 649.30,254.94 648.60,255.70 C647.90,256.46 646.90,257.02 646.30,257.68 C645.70,258.34 645.27,258.87 645.00,259.66 C644.73,260.45 644.78,261.57 644.70,262.43 C644.62,263.29 644.68,264.18 644.50,264.81 C644.32,265.44 644.00,265.86 643.60,266.19 C643.20,266.52 642.35,266.69 642.10,266.79 C641.85,266.89 642.35,266.89 642.10,266.79 C641.85,266.69 641.00,266.52 640.60,266.19 C640.20,265.86 639.88,265.44 639.70,264.81 C639.52,264.18 639.58,263.29 639.50,262.43 C639.42,261.57 639.47,260.45 639.20,259.66 C638.93,258.87 638.50,258.34 637.90,257.68 C637.30,257.02 636.30,256.46 635.60,255.70 C634.90,254.94 634.02,253.95 633.70,253.13 C633.38,252.30 633.40,251.64 633.70,250.75 C634.00,249.86 635.07,248.77 635.50,247.78 C635.93,246.79 636.30,245.80 636.30,244.81 C636.30,243.82 635.92,242.83 635.50,241.84 C635.08,240.85 634.13,239.76 633.80,238.87 C633.47,237.98 633.28,237.48 633.50,236.49 C633.72,235.50 634.53,234.18 635.10,232.93 C635.67,231.68 636.30,230.29 636.90,228.97 C637.50,227.65 638.25,226.16 638.70,225.01 C639.15,223.85 639.28,222.93 639.60,222.04 C639.92,221.15 640.45,220.49 640.60,219.66 C640.75,218.84 640.62,218.01 640.50,217.09 C640.38,216.17 639.95,215.27 639.90,214.12 C639.85,212.96 640.00,211.31 640.20,210.16 C640.40,209.00 640.78,207.85 641.10,207.19 C641.42,206.53 641.93,206.36 642.10,206.20Z" fill="none" stroke="#c0141b" stroke-width="1.3" stroke-linejoin="round"/>
<line x1="614.8" y1="262.2" x2="618.4" y2="262.2" stroke="#777" stroke-width="0.6" stroke-dasharray="1.6,1"/>
<line x1="610.5" y1="266.2" x2="622.7" y2="266.2" stroke="#444" stroke-width="0.6" stroke-dasharray="1.6,1"/>
<line x1="609.4" y1="268.6" x2="623.8" y2="268.6" stroke="#444" stroke-width="0.6" stroke-dasharray="1.6,1"/>
<line x1="634.7" y1="237.1" x2="649.5" y2="237.1" stroke="#d04a50" stroke-width="0.7" stroke-dasharray="1.6,1"/>
<line x1="637.2" y1="245.8" x2="647.0" y2="245.8" stroke="#d04a50" stroke-width="0.7" stroke-dasharray="1.6,1"/>
<line x1="634.7" y1="252.1" x2="649.5" y2="252.1" stroke="#d04a50" stroke-width="0.7" stroke-dasharray="1.6,1"/>
<line x1="599.6" y1="186.4" x2="599.6" y2="285.4" stroke="#1a1a1a" stroke-width="1.3"/>
<line x1="599.6" y1="285.4" x2="658.7" y2="285.4" stroke="#1a1a1a" stroke-width="1.3"/>
<line x1="596" y1="285.4" x2="599.6" y2="285.4" stroke="#1a1a1a" stroke-width="1.3"/>
<text x="593.9" y="288.3" text-anchor="end" font-size="8.3">0</text>
<line x1="596" y1="265.6" x2="599.6" y2="265.6" stroke="#1a1a1a" stroke-width="1.3"/>
<text x="593.9" y="268.5" text-anchor="end" font-size="8.3">10</text>
<line x1="596" y1="245.8" x2="599.6" y2="245.8" stroke="#1a1a1a" stroke-width="1.3"/>
<text x="593.9" y="248.7" text-anchor="end" font-size="8.3">20</text>
<line x1="596" y1="226" x2="599.6" y2="226" stroke="#1a1a1a" stroke-width="1.3"/>
<text x="593.9" y="228.9" text-anchor="end" font-size="8.3">30</text>
<line x1="596" y1="206.2" x2="599.6" y2="206.2" stroke="#1a1a1a" stroke-width="1.3"/>
<text x="593.9" y="209.1" text-anchor="end" font-size="8.3">40</text>
<line x1="596" y1="186.4" x2="599.6" y2="186.4" stroke="#1a1a1a" stroke-width="1.3"/>
<text x="593.9" y="189.3" text-anchor="end" font-size="8.3">50</text>
<line x1="616.6" y1="285.4" x2="616.6" y2="288.8" stroke="#1a1a1a" stroke-width="1.3"/>
<text x="616.6" y="298.4" text-anchor="middle" font-size="8.3">NT</text>
<line x1="642.1" y1="285.4" x2="642.1" y2="288.8" stroke="#1a1a1a" stroke-width="1.3"/>
<text x="642.1" y="298.4" text-anchor="middle" font-size="8.3">T</text>
<text x="627.3" y="178.4" text-anchor="middle" font-size="8.4">GepLiver_105</text>
<text x="628.2" y="195.6" font-size="7.2" text-anchor="middle"><tspan font-style="italic">P</tspan> &lt; 0.0001</text>
<path d="M616.6,245.6 L616.6,200.7 L642.1,200.7 L642.1,205.2" fill="none" stroke="#111" stroke-width="1.3"/>
<text transform="translate(580.3 236) rotate(-90)" text-anchor="middle" font-size="8.55"><tspan font-style="italic">DDX41</tspan> expression (tpm)</text>
<text x="1" y="329.6" font-weight="bold" font-size="8.6">g</text>
<rect x="36.40" y="345.4" width="19.33" height="131.6" fill="#fdfdfd"/>
<rect x="55.73" y="345.4" width="20.03" height="131.6" fill="#e7e7e7"/>
<rect x="75.76" y="345.4" width="20.03" height="131.6" fill="#fdfdfd"/>
<rect x="95.78" y="345.4" width="20.03" height="131.6" fill="#e7e7e7"/>
<rect x="115.81" y="345.4" width="20.03" height="131.6" fill="#fdfdfd"/>
<rect x="135.84" y="345.4" width="20.03" height="131.6" fill="#e7e7e7"/>
<rect x="155.87" y="345.4" width="20.03" height="131.6" fill="#fdfdfd"/>
<rect x="175.90" y="345.4" width="20.03" height="131.6" fill="#e7e7e7"/>
<rect x="195.92" y="345.4" width="20.03" height="131.6" fill="#fdfdfd"/>
<rect x="215.95" y="345.4" width="20.03" height="131.6" fill="#e7e7e7"/>
<rect x="235.98" y="345.4" width="20.03" height="131.6" fill="#fdfdfd"/>
<rect x="256.01" y="345.4" width="20.03" height="131.6" fill="#e7e7e7"/>
<rect x="276.04" y="345.4" width="20.03" height="131.6" fill="#fdfdfd"/>
<rect x="296.06" y="345.4" width="20.03" height="131.6" fill="#e7e7e7"/>
<rect x="316.09" y="345.4" width="20.03" height="131.6" fill="#fdfdfd"/>
<rect x="336.12" y="345.4" width="20.03" height="131.6" fill="#e7e7e7"/>
<rect x="356.15" y="345.4" width="20.03" height="131.6" fill="#fdfdfd"/>
<rect x="376.18" y="345.4" width="20.03" height="131.6" fill="#e7e7e7"/>
<rect x="396.20" y="345.4" width="10.01" height="131.6" fill="#fdfdfd"/>
<rect x="406.22" y="345.4" width="20.03" height="131.6" fill="#e7e7e7"/>
<rect x="426.25" y="345.4" width="20.03" height="131.6" fill="#fdfdfd"/>
<rect x="446.27" y="345.4" width="20.03" height="131.6" fill="#e7e7e7"/>
<rect x="466.30" y="345.4" width="20.03" height="131.6" fill="#fdfdfd"/>
<rect x="486.33" y="345.4" width="20.03" height="131.6" fill="#e7e7e7"/>
<rect x="506.36" y="345.4" width="20.03" height="131.6" fill="#fdfdfd"/>
<rect x="526.39" y="345.4" width="20.03" height="131.6" fill="#e7e7e7"/>
<rect x="546.41" y="345.4" width="20.03" height="131.6" fill="#fdfdfd"/>
<rect x="566.44" y="345.4" width="20.03" height="131.6" fill="#e7e7e7"/>
<rect x="586.47" y="345.4" width="20.03" height="131.6" fill="#fdfdfd"/>
<rect x="606.50" y="345.4" width="20.03" height="131.6" fill="#e7e7e7"/>
<rect x="626.53" y="345.4" width="20.03" height="131.6" fill="#fdfdfd"/>
<rect x="646.55" y="345.4" width="20.03" height="131.6" fill="#e7e7e7"/>
<rect x="666.58" y="345.4" width="10.01" height="131.6" fill="#fdfdfd"/>
<rect x="45.01" y="345.4" width="1.4" height="131.6" fill="#f2f2f2"/>
<rect x="65.04" y="345.4" width="1.4" height="131.6" fill="#f0f0f0"/>
<rect x="85.07" y="345.4" width="1.4" height="131.6" fill="#f2f2f2"/>
<rect x="105.10" y="345.4" width="1.4" height="131.6" fill="#f0f0f0"/>
<rect x="125.13" y="345.4" width="1.4" height="131.6" fill="#f2f2f2"/>
<rect x="145.15" y="345.4" width="1.4" height="131.6" fill="#f0f0f0"/>
<rect x="165.18" y="345.4" width="1.4" height="131.6" fill="#f2f2f2"/>
<rect x="185.21" y="345.4" width="1.4" height="131.6" fill="#f0f0f0"/>
<rect x="205.24" y="345.4" width="1.4" height="131.6" fill="#f2f2f2"/>
<rect x="225.27" y="345.4" width="1.4" height="131.6" fill="#f0f0f0"/>
<rect x="245.29" y="345.4" width="1.4" height="131.6" fill="#f2f2f2"/>
<rect x="265.32" y="345.4" width="1.4" height="131.6" fill="#f0f0f0"/>
<rect x="285.35" y="345.4" width="1.4" height="131.6" fill="#f2f2f2"/>
<rect x="305.38" y="345.4" width="1.4" height="131.6" fill="#f0f0f0"/>
<rect x="325.41" y="345.4" width="1.4" height="131.6" fill="#f2f2f2"/>
<rect x="345.43" y="345.4" width="1.4" height="131.6" fill="#f0f0f0"/>
<rect x="365.46" y="345.4" width="1.4" height="131.6" fill="#f2f2f2"/>
<rect x="385.49" y="345.4" width="1.4" height="131.6" fill="#f0f0f0"/>
<rect x="415.53" y="345.4" width="1.4" height="131.6" fill="#f0f0f0"/>
<rect x="435.56" y="345.4" width="1.4" height="131.6" fill="#f2f2f2"/>
<rect x="455.59" y="345.4" width="1.4" height="131.6" fill="#f0f0f0"/>
<rect x="475.62" y="345.4" width="1.4" height="131.6" fill="#f2f2f2"/>
<rect x="495.64" y="345.4" width="1.4" height="131.6" fill="#f0f0f0"/>
<rect x="515.67" y="345.4" width="1.4" height="131.6" fill="#f2f2f2"/>
<rect x="535.70" y="345.4" width="1.4" height="131.6" fill="#f0f0f0"/>
<rect x="555.73" y="345.4" width="1.4" height="131.6" fill="#f2f2f2"/>
<rect x="575.76" y="345.4" width="1.4" height="131.6" fill="#f0f0f0"/>
<rect x="595.78" y="345.4" width="1.4" height="131.6" fill="#f2f2f2"/>
<rect x="615.81" y="345.4" width="1.4" height="131.6" fill="#f0f0f0"/>
<rect x="635.84" y="345.4" width="1.4" height="131.6" fill="#f2f2f2"/>
<rect x="655.87" y="345.4" width="1.4" height="131.6" fill="#f0f0f0"/>
<path d="M36.8 470.3h0M37.0 467.0h0M37.0 465.2h0M37.3 464.0h0M37.4 463.0h0M37.2 462.1h0M37.3 461.4h0M37.8 460.8h0M37.6 460.2h0M37.7 459.7h0M38.2 459.2h0M38.0 458.7h0M38.3 458.3h0M38.2 457.9h0M38.4 457.5h0M38.3 457.1h0M38.6 456.7h0M38.8 456.4h0M38.8 456.0h0M39.0 455.7h0M39.0 455.4h0M38.8 455.1h0M39.3 454.8h0M39.3 454.5h0M39.3 454.2h0M39.2 453.9h0M39.8 453.6h0M39.7 453.3h0M39.9 453.0h0M40.1 452.8h0M40.1 452.5h0M40.3 452.2h0M40.1 451.9h0M40.4 451.7h0M40.4 451.4h0M40.7 451.1h0M40.8 450.9h0M40.5 450.6h0M40.6 450.4h0M40.8 450.0h0M41.2 449.6h0M41.1 449.2h0M41.3 448.8h0M41.2 448.4h0M41.4 448.0h0M41.5 447.6h0M41.5 447.1h0M41.8 446.7h0M41.9 446.2h0M42.1 445.8h0M42.1 445.3h0M42.3 444.8h0M42.4 444.3h0M42.6 443.8h0M42.5 443.2h0M42.4 442.7h0M42.8 442.1h0M43.0 441.5h0M43.1 440.9h0M43.0 440.2h0M43.2 439.5h0M43.0 438.8h0M43.4 438.0h0M43.4 437.2h0M43.4 436.3h0M43.4 435.3h0M43.9 434.3h0M44.0 433.2h0M43.7 431.9h0M44.1 430.5h0M44.0 429.0h0M44.0 427.1h0M44.2 424.9h0M44.5 422.2h0M44.7 418.5h0M44.4 412.9h0M44.8 400.7h0M56.9 470.3h0M56.8 468.6h0M56.9 467.7h0M57.1 467.1h0M56.9 466.2h0M57.0 465.1h0M57.2 464.1h0M57.2 463.6h0M57.3 463.0h0M57.7 462.6h0M57.4 462.1h0M57.4 461.8h0M57.9 461.4h0M58.0 461.2h0M58.1 460.9h0M57.9 460.6h0M58.3 460.3h0M58.4 460.1h0M58.1 459.9h0M58.4 459.7h0M58.6 459.4h0M58.6 459.2h0M58.6 459.0h0M58.6 458.8h0M58.7 458.7h0M58.7 458.5h0M58.7 458.3h0M59.1 458.1h0M59.0 458.0h0M59.4 457.8h0M59.1 457.6h0M59.6 457.5h0M59.6 457.3h0M59.8 457.2h0M59.8 457.0h0M59.9 456.9h0M59.9 456.7h0M59.7 456.6h0M60.1 456.4h0M59.9 456.3h0M60.1 456.1h0M60.3 456.0h0M60.4 455.8h0M60.4 455.7h0M60.7 455.5h0M60.7 455.4h0M60.6 455.2h0M60.7 455.1h0M61.1 454.9h0M60.9 454.7h0M61.2 454.4h0M61.1 454.2h0M61.1 453.9h0M61.3 453.7h0M61.6 453.4h0M61.3 453.1h0M61.7 452.8h0M61.9 452.5h0M61.9 452.3h0M62.0 451.9h0M61.7 451.7h0M62.1 451.3h0M62.3 451.1h0M62.0 450.7h0M62.2 450.4h0M62.3 450.1h0M62.5 449.8h0M62.5 449.4h0M62.6 449.0h0M62.9 448.6h0M62.5 448.3h0M62.7 447.8h0M62.8 447.4h0M62.9 447.0h0M62.9 446.6h0M63.5 446.0h0M63.5 445.5h0M63.2 445.0h0M63.5 444.4h0M63.5 443.8h0M63.6 443.1h0M63.7 442.5h0M63.9 441.6h0M64.0 440.9h0M64.0 439.9h0M64.0 439.0h0M64.1 438.2h0M64.0 437.9h0M64.2 437.6h0M64.3 437.4h0M64.2 437.1h0M64.1 436.7h0M64.1 436.4h0M64.2 436.1h0M64.4 435.7h0M64.5 435.4h0M64.3 435.0h0M64.5 434.6h0M64.5 434.1h0M64.4 433.7h0M64.4 433.2h0M64.5 432.7h0M64.6 432.1h0M64.5 431.6h0M64.6 430.9h0M64.5 430.2h0M64.4 429.5h0M64.6 428.6h0M64.7 427.6h0M64.4 426.6h0M64.6 425.3h0M64.6 423.7h0M64.9 421.8h0M64.9 419.2h0M64.6 415.3h0M64.9 406.6h0M77.0 472.2h0M77.1 470.6h0M76.7 469.8h0M77.1 469.3h0M77.0 467.0h0M77.2 465.7h0M77.0 464.7h0M77.4 464.1h0M77.6 463.6h0M77.3 463.1h0M77.5 462.7h0M77.7 462.4h0M77.9 462.0h0M77.7 461.7h0M77.8 461.4h0M77.9 461.2h0M78.2 460.9h0M78.3 460.7h0M78.2 460.5h0M78.3 460.2h0M78.4 460.0h0M78.5 459.8h0M78.6 459.6h0M78.5 459.4h0M78.8 459.3h0M79.1 459.1h0M78.9 458.9h0M79.2 458.7h0M79.0 458.6h0M79.3 458.4h0M79.5 458.2h0M79.5 458.1h0M79.5 457.9h0M79.6 457.8h0M79.7 457.6h0M80.0 457.5h0M79.7 457.3h0M79.7 457.2h0M80.1 457.0h0M80.3 456.9h0M80.2 456.7h0M80.3 456.6h0M80.5 456.4h0M80.3 456.3h0M80.4 456.2h0M80.5 456.0h0M80.8 455.9h0M80.7 455.7h0M80.8 455.5h0M81.1 455.3h0M81.3 455.1h0M81.1 454.8h0M81.4 454.6h0M81.3 454.3h0M81.6 454.1h0M81.6 453.8h0M81.5 453.5h0M81.5 453.3h0M81.5 453.0h0M81.9 452.7h0M81.9 452.4h0M81.9 452.1h0M82.1 451.8h0M82.1 451.5h0M82.4 451.2h0M82.2 450.9h0M82.7 450.6h0M82.6 450.2h0M82.7 449.9h0M82.7 449.5h0M83.0 449.1h0M83.1 448.7h0M83.0 448.3h0M83.1 447.9h0M83.3 447.4h0M83.4 447.0h0M83.3 446.5h0M83.6 446.0h0M83.8 445.5h0M83.6 444.8h0M83.6 444.2h0M83.7 443.6h0M84.0 442.8h0M84.1 442.0h0M84.3 441.1h0M84.3 440.1h0M84.1 439.0h0M84.2 437.6h0M84.3 436.0h0M84.3 434.0h0M84.6 432.2h0M84.7 432.0h0M84.8 431.7h0M84.4 431.5h0M84.8 431.2h0M84.5 430.9h0M84.6 430.6h0M84.7 430.3h0M84.4 429.9h0M84.4 429.6h0M84.8 429.2h0M84.5 428.8h0M84.6 428.4h0M84.7 428.0h0M84.7 427.6h0M84.4 427.1h0M84.6 426.5h0M84.6 426.0h0M84.7 425.4h0M84.5 424.7h0M84.7 424.0h0M84.9 423.2h0M84.7 422.3h0M84.7 421.2h0M84.5 420.0h0M84.6 418.5h0M84.8 416.7h0M84.5 414.2h0M84.9 410.3h0M85.0 402.0h0M96.9 469.1h0M96.9 467.1h0M96.8 466.1h0M97.1 465.4h0M97.4 463.7h0M97.2 462.9h0M97.5 462.1h0M97.5 461.6h0M97.3 461.0h0M97.8 460.6h0M97.7 460.3h0M98.0 459.8h0M98.0 459.5h0M98.1 459.2h0M98.0 458.9h0M98.3 458.6h0M98.4 458.4h0M98.5 458.2h0M98.4 457.9h0M98.6 457.7h0M98.6 457.4h0M98.5 457.2h0M98.5 457.0h0M98.6 456.8h0M98.8 456.6h0M98.8 456.4h0M99.1 456.2h0M99.3 456.0h0M99.3 455.9h0M99.3 455.7h0M99.5 455.5h0M99.4 455.4h0M99.6 455.2h0M99.8 455.0h0M99.7 454.8h0M99.7 454.7h0M100.2 454.5h0M100.2 454.3h0M100.1 454.2h0M100.2 454.0h0M100.3 453.9h0M100.5 453.7h0M100.3 453.6h0M100.3 453.4h0M100.5 453.2h0M100.9 453.1h0M100.7 452.9h0M100.9 452.8h0M100.9 452.6h0M101.0 452.4h0M101.0 452.3h0M101.2 452.1h0M101.2 451.9h0M101.2 451.7h0M101.3 451.5h0M101.5 451.3h0M101.7 451.1h0M101.6 451.0h0M101.7 450.8h0M101.9 450.6h0M102.0 450.3h0M102.3 450.2h0M102.0 449.9h0M102.3 449.7h0M102.4 449.5h0M102.3 449.3h0M102.8 449.1h0M102.5 448.8h0M102.6 448.6h0M102.9 448.3h0M102.8 448.1h0M103.1 447.8h0M103.0 447.5h0M103.0 447.3h0M103.1 446.9h0M103.5 446.6h0M103.4 446.2h0M103.7 445.9h0M103.6 445.6h0M104.0 445.2h0M103.7 444.8h0M103.8 444.3h0M103.9 443.8h0M104.2 443.5h0M104.1 443.4h0M104.0 443.2h0M103.9 443.0h0M104.2 442.8h0M104.4 442.7h0M104.2 442.5h0M104.0 442.3h0M104.0 442.1h0M104.1 441.8h0M104.1 441.6h0M104.1 441.4h0M104.1 441.1h0M104.5 440.9h0M104.6 440.6h0M104.3 440.3h0M104.7 440.0h0M104.5 439.7h0M104.7 439.3h0M104.7 438.9h0M104.8 438.5h0M104.3 438.0h0M104.5 437.5h0M104.7 436.9h0M104.9 436.3h0M104.5 435.4h0M104.6 434.4h0M104.9 433.1h0M104.6 431.1h0M104.7 426.9h0M117.0 466.0h0M117.1 463.2h0M117.3 461.7h0M117.8 460.6h0M118.0 459.7h0M118.2 459.0h0M118.3 458.3h0M118.6 457.7h0M118.6 457.1h0M119.1 456.6h0M119.0 456.1h0M119.4 455.7h0M119.8 455.2h0M120.0 454.8h0M119.9 454.3h0M120.2 453.9h0M120.7 453.5h0M120.9 453.1h0M121.2 452.7h0M121.4 452.3h0M121.4 451.9h0M121.9 451.5h0M122.0 451.0h0M122.1 450.6h0M122.3 450.2h0M122.4 449.7h0M122.8 449.2h0M123.3 448.6h0M123.1 448.0h0M123.5 447.3h0M123.5 446.6h0M123.7 445.7h0M124.2 444.7h0M124.2 443.4h0M124.4 441.4h0M124.6 437.6h0M137.1 470.3h0M137.2 468.5h0M137.1 467.6h0M137.0 466.9h0M137.0 465.7h0M137.1 464.8h0M137.5 464.2h0M137.3 463.7h0M137.3 463.2h0M137.9 462.7h0M137.6 462.3h0M138.0 462.0h0M137.7 461.7h0M138.0 461.5h0M138.0 461.2h0M138.3 461.0h0M138.3 460.7h0M138.4 460.5h0M138.6 460.3h0M138.7 460.1h0M138.5 459.9h0M138.7 459.7h0M138.8 459.4h0M138.7 459.3h0M139.1 459.1h0M139.1 458.9h0M139.3 458.7h0M139.1 458.6h0M139.3 458.4h0M139.4 458.3h0M139.6 458.1h0M139.4 458.0h0M139.6 457.8h0M139.7 457.6h0M139.6 457.5h0M140.0 457.3h0M140.1 457.2h0M140.1 457.0h0M140.3 456.9h0M140.3 456.7h0M140.2 456.6h0M140.4 456.5h0M140.8 456.3h0M140.5 456.2h0M140.7 456.0h0M140.6 455.9h0M140.7 455.8h0M140.8 455.6h0M141.3 455.4h0M141.3 455.2h0M141.4 455.1h0M141.6 454.9h0M141.5 454.7h0M141.7 454.6h0M141.6 454.4h0M141.6 454.2h0M142.0 454.1h0M142.1 453.9h0M142.2 453.7h0M142.0 453.5h0M142.3 453.3h0M142.2 453.1h0M142.6 452.9h0M142.6 452.7h0M142.4 452.5h0M142.8 452.3h0M142.5 452.1h0M142.5 451.8h0M142.9 451.6h0M142.8 451.4h0M143.0 451.1h0M143.1 450.9h0M143.0 450.5h0M143.4 450.3h0M143.2 450.0h0M143.4 449.7h0M143.5 449.4h0M143.7 449.1h0M143.8 448.7h0M143.7 448.3h0M143.7 448.0h0M143.9 447.5h0M144.0 447.2h0M143.8 447.1h0M143.9 446.9h0M144.2 446.7h0M144.2 446.6h0M144.4 446.4h0M144.4 446.2h0M144.4 446.0h0M144.2 445.8h0M144.1 445.6h0M144.2 445.4h0M144.3 445.2h0M144.4 444.9h0M144.4 444.7h0M144.3 444.4h0M144.6 444.1h0M144.4 443.8h0M144.5 443.5h0M144.7 443.1h0M144.7 442.8h0M144.5 442.3h0M144.5 441.9h0M144.8 441.4h0M144.4 440.8h0M144.5 440.1h0M144.7 439.3h0M144.8 438.4h0M144.6 437.1h0M144.6 435.1h0M144.7 431.0h0M157.3 455.7h0M157.3 453.3h0M157.5 452.0h0M157.4 451.1h0M157.5 450.4h0M158.0 449.8h0M157.9 449.2h0M158.1 448.8h0M158.6 448.3h0M158.8 447.9h0M158.5 447.5h0M159.2 447.1h0M159.1 446.8h0M159.2 446.5h0M159.2 446.1h0M159.6 445.8h0M160.0 445.5h0M159.8 445.2h0M159.9 444.9h0M160.1 444.6h0M160.3 444.3h0M160.6 444.1h0M161.0 443.8h0M160.8 443.5h0M161.0 443.0h0M161.5 442.5h0M161.7 442.0h0M161.9 441.5h0M161.7 440.9h0M161.9 440.4h0M162.4 439.8h0M162.3 439.2h0M162.6 438.6h0M162.6 438.0h0M162.6 437.3h0M162.9 436.6h0M163.3 435.8h0M163.5 435.0h0M163.5 434.1h0M163.7 433.1h0M163.9 432.0h0M164.0 430.7h0M164.2 429.3h0M164.5 427.5h0M164.4 425.2h0M164.7 421.8h0M165.1 414.8h0M176.9 470.3h0M177.4 468.8h0M177.3 468.0h0M177.0 467.4h0M177.2 467.0h0M177.5 466.3h0M177.7 465.8h0M177.3 465.3h0M177.4 465.0h0M177.7 464.6h0M177.7 464.4h0M178.1 464.1h0M178.1 463.8h0M178.0 463.6h0M178.1 463.4h0M178.3 463.2h0M178.5 463.0h0M178.3 462.7h0M178.5 462.5h0M178.4 462.4h0M178.8 462.2h0M178.5 462.0h0M179.1 461.9h0M179.0 461.7h0M179.1 461.6h0M178.9 461.5h0M179.1 461.3h0M179.3 461.2h0M179.6 461.0h0M179.5 460.9h0M179.4 460.8h0M179.9 460.7h0M179.8 460.5h0M179.8 460.4h0M179.7 460.3h0M179.9 460.2h0M180.3 460.0h0M180.0 459.9h0M180.3 459.8h0M180.4 459.7h0M180.3 459.6h0M180.6 459.5h0M180.8 459.3h0M180.9 459.2h0M180.9 459.1h0M180.7 459.0h0M180.7 458.9h0M181.0 458.6h0M181.1 458.4h0M181.1 458.2h0M181.5 457.9h0M181.3 457.7h0M181.7 457.5h0M181.8 457.2h0M181.5 457.0h0M182.0 456.7h0M181.8 456.4h0M181.8 456.2h0M181.9 455.9h0M181.9 455.6h0M182.2 455.4h0M182.2 455.1h0M182.5 454.8h0M182.6 454.5h0M182.3 454.2h0M182.6 453.9h0M182.6 453.5h0M182.6 453.2h0M182.7 452.8h0M182.8 452.5h0M183.1 452.1h0M183.0 451.7h0M183.0 451.3h0M183.2 450.9h0M183.4 450.4h0M183.5 450.0h0M183.4 449.5h0M183.8 448.7h0M183.6 448.1h0M183.9 447.5h0M184.0 446.8h0M183.8 446.5h0M184.2 446.1h0M184.0 445.7h0M184.1 445.3h0M184.2 444.9h0M184.3 444.4h0M184.2 443.9h0M184.1 443.4h0M184.5 442.9h0M184.6 442.3h0M184.4 441.7h0M184.5 441.0h0M184.4 440.2h0M184.8 439.4h0M184.7 438.4h0M184.5 437.3h0M184.8 436.1h0M185.0 434.6h0M184.7 432.7h0M185.1 430.1h0M184.8 426.2h0M184.7 417.6h0M197.3 471.6h0M197.0 468.4h0M197.0 466.8h0M197.5 465.7h0M197.4 464.8h0M197.4 464.1h0M197.6 462.9h0M197.4 462.0h0M197.7 461.2h0M197.8 460.5h0M197.9 459.9h0M197.7 459.6h0M197.8 459.0h0M198.1 458.5h0M198.4 458.0h0M198.1 457.6h0M198.1 457.4h0M198.2 457.0h0M198.7 456.6h0M198.6 456.2h0M198.7 455.9h0M199.1 455.5h0M198.9 455.3h0M198.8 455.0h0M199.2 454.7h0M198.9 454.4h0M199.1 454.1h0M199.4 453.8h0M199.2 453.6h0M199.2 453.3h0M199.6 453.0h0M199.6 452.8h0M200.0 452.5h0M199.6 452.3h0M200.1 452.1h0M200.0 451.8h0M200.3 451.5h0M200.2 451.3h0M200.4 451.0h0M200.3 450.9h0M200.3 450.6h0M200.5 450.4h0M200.8 450.1h0M200.7 449.9h0M200.6 449.7h0M200.8 449.5h0M200.8 449.2h0M201.0 449.0h0M201.2 448.8h0M201.3 448.5h0M201.4 448.4h0M201.3 448.2h0M201.3 447.9h0M201.4 447.7h0M201.6 447.5h0M201.6 447.3h0M201.9 447.1h0M201.8 446.8h0M202.2 446.6h0M202.2 446.3h0M202.3 446.0h0M202.4 445.9h0M202.4 445.6h0M202.4 445.3h0M202.5 445.0h0M202.4 444.7h0M202.9 444.6h0M202.8 444.3h0M202.7 444.0h0M203.2 443.6h0M203.1 443.3h0M203.3 442.9h0M203.2 442.7h0M203.1 442.3h0M203.7 441.9h0M203.4 441.5h0M203.6 441.1h0M204.0 440.6h0M203.6 440.4h0M203.9 439.8h0M204.0 439.3h0M203.9 439.0h0M204.3 438.7h0M204.1 438.3h0M203.9 438.0h0M204.2 437.6h0M204.0 437.2h0M204.4 436.8h0M204.5 436.4h0M204.6 435.9h0M204.2 435.4h0M204.6 434.9h0M204.4 434.3h0M204.6 433.6h0M204.5 432.8h0M204.6 432.0h0M204.5 430.9h0M204.8 429.6h0M204.6 427.9h0M205.1 425.4h0M204.7 420.1h0M217.0 472.2h0M217.4 470.5h0M217.1 469.7h0M217.1 469.1h0M217.1 468.0h0M217.4 466.7h0M217.4 465.9h0M217.4 465.3h0M217.6 464.7h0M217.6 464.3h0M217.9 463.8h0M218.1 463.5h0M218.1 463.2h0M218.2 462.9h0M217.9 462.6h0M218.1 462.3h0M218.1 462.1h0M218.2 461.9h0M218.7 461.7h0M218.8 461.4h0M218.8 461.2h0M218.8 461.0h0M218.6 460.8h0M218.9 460.7h0M218.8 460.5h0M219.3 460.3h0M219.1 460.1h0M219.2 459.9h0M219.6 459.8h0M219.3 459.6h0M219.7 459.5h0M219.5 459.3h0M219.8 459.1h0M219.6 459.0h0M220.1 458.8h0M219.9 458.7h0M220.0 458.5h0M220.2 458.4h0M220.3 458.2h0M220.2 458.1h0M220.2 458.0h0M220.5 457.8h0M220.3 457.7h0M220.8 457.5h0M220.7 457.4h0M220.7 457.3h0M220.8 457.1h0M220.8 457.0h0M221.0 456.8h0M221.2 456.6h0M221.2 456.4h0M221.3 456.2h0M221.3 456.0h0M221.5 455.7h0M221.8 455.5h0M221.7 455.3h0M221.9 455.1h0M221.9 454.8h0M221.8 454.6h0M221.9 454.3h0M222.3 454.1h0M222.2 453.8h0M222.3 453.6h0M222.4 453.3h0M222.7 453.0h0M222.5 452.7h0M222.6 452.4h0M222.7 452.2h0M222.6 451.9h0M223.0 451.5h0M223.0 451.2h0M223.1 450.8h0M223.2 450.5h0M223.3 450.2h0M223.5 449.8h0M223.3 449.4h0M223.8 448.9h0M223.4 448.5h0M223.9 448.0h0M223.6 447.5h0M224.0 447.0h0M223.9 446.4h0M223.9 445.8h0M224.2 445.0h0M224.4 444.4h0M224.5 443.5h0M224.6 442.5h0M224.8 441.3h0M224.3 441.1h0M224.5 440.9h0M224.4 440.7h0M224.7 440.4h0M224.6 440.2h0M224.7 439.9h0M224.8 439.7h0M224.9 439.4h0M224.7 439.1h0M224.9 438.8h0M224.7 438.4h0M224.5 438.1h0M224.9 437.7h0M224.5 437.3h0M224.5 436.9h0M224.9 436.5h0M224.7 436.0h0M224.9 435.5h0M224.6 435.0h0M224.7 434.3h0M224.9 433.7h0M224.6 432.9h0M224.9 432.0h0M225.1 431.0h0M224.7 429.8h0M225.0 428.3h0M225.0 426.2h0M225.0 423.1h0M225.1 416.3h0M237.3 470.0h0M237.4 468.3h0M237.5 467.4h0M237.5 466.8h0M237.7 466.3h0M237.8 465.9h0M238.1 465.5h0M237.9 465.2h0M238.3 464.9h0M238.2 464.6h0M238.6 464.3h0M238.3 464.1h0M238.6 463.9h0M238.7 463.6h0M239.0 463.4h0M238.8 463.2h0M239.0 463.0h0M239.0 462.9h0M239.4 462.7h0M239.5 462.5h0M239.3 462.3h0M239.5 462.2h0M239.7 462.0h0M240.2 461.8h0M240.0 461.7h0M240.2 461.5h0M240.2 461.3h0M240.5 461.2h0M240.7 461.0h0M240.7 460.9h0M240.5 460.7h0M240.9 460.6h0M241.0 460.4h0M240.9 460.3h0M241.4 460.2h0M241.3 460.1h0M241.4 459.9h0M241.7 459.8h0M241.8 459.7h0M241.9 459.6h0M242.2 459.4h0M242.1 459.3h0M242.1 459.2h0M242.1 459.1h0M242.5 458.9h0M242.5 458.8h0M242.7 458.6h0M242.7 458.5h0M242.7 458.3h0M242.8 458.2h0M243.0 458.0h0M243.1 457.8h0M243.6 457.7h0M243.6 457.5h0M243.5 457.3h0M243.9 457.0h0M244.0 456.8h0M243.8 456.6h0M244.3 456.3h0M244.1 456.0h0M244.6 455.6h0M244.3 455.2h0M244.5 454.7h0M244.6 454.1h0M245.0 453.2h0M245.1 451.3h0M245.0 414.8h0M257.4 473.5h0M257.4 470.8h0M257.5 469.4h0M257.4 468.5h0M257.2 466.7h0M257.2 464.6h0M257.6 463.3h0M257.4 462.4h0M257.8 461.6h0M257.8 460.8h0M258.0 460.2h0M257.8 459.6h0M257.9 459.1h0M258.3 458.6h0M258.3 458.1h0M258.2 457.8h0M258.4 457.4h0M258.4 457.0h0M258.6 456.6h0M258.6 456.3h0M258.6 455.9h0M259.0 455.6h0M259.1 455.4h0M259.1 455.0h0M258.9 454.8h0M259.0 454.5h0M259.3 454.2h0M259.5 453.9h0M259.5 453.6h0M259.3 453.4h0M259.7 453.2h0M259.7 452.9h0M259.7 452.6h0M259.9 452.4h0M259.9 452.2h0M260.1 451.9h0M260.2 451.7h0M260.4 451.5h0M260.1 451.2h0M260.4 451.0h0M260.7 450.8h0M260.6 450.5h0M260.7 450.3h0M260.9 450.1h0M260.6 449.9h0M261.0 449.7h0M261.0 449.4h0M261.1 449.2h0M261.1 449.0h0M261.3 448.7h0M261.1 448.4h0M261.4 448.1h0M261.4 447.9h0M261.8 447.6h0M261.8 447.3h0M261.8 447.0h0M262.0 446.7h0M261.9 446.4h0M262.0 446.1h0M261.9 445.9h0M262.4 445.5h0M262.4 445.2h0M262.5 444.9h0M262.3 444.5h0M262.7 444.2h0M262.4 443.8h0M262.8 443.4h0M262.8 443.1h0M262.7 442.7h0M263.0 442.3h0M263.3 441.9h0M263.2 441.5h0M263.2 441.0h0M263.5 440.6h0M263.4 440.2h0M263.7 439.6h0M263.6 439.1h0M263.5 438.5h0M264.0 437.9h0M263.7 437.3h0M263.8 436.6h0M264.2 436.0h0M263.9 435.2h0M264.2 434.4h0M264.5 433.4h0M264.4 432.3h0M264.4 431.1h0M264.7 429.7h0M264.8 429.4h0M264.6 429.1h0M264.7 428.8h0M264.5 428.5h0M264.6 428.2h0M264.9 427.9h0M264.9 427.6h0M264.4 427.2h0M264.6 426.9h0M264.6 426.5h0M264.9 426.1h0M264.6 425.7h0M264.6 425.2h0M264.9 424.8h0M264.6 424.3h0M265.1 423.7h0M264.8 423.2h0M265.0 422.5h0M265.0 421.9h0M264.7 421.1h0M265.0 420.3h0M264.9 419.4h0M264.8 418.3h0M264.7 417.1h0M265.0 415.6h0M265.0 413.8h0M264.9 411.3h0M265.2 407.5h0M264.9 399.5h0M277.1 468.2h0M277.4 465.9h0M277.1 464.7h0M277.4 463.9h0M277.6 462.4h0M277.5 461.0h0M277.8 460.3h0M277.7 459.7h0M278.0 459.1h0M277.9 458.7h0M278.1 458.1h0M278.1 457.7h0M278.0 457.4h0M278.2 457.0h0M278.3 456.7h0M278.4 456.3h0M278.5 456.0h0M278.8 455.8h0M278.8 455.5h0M278.9 455.3h0M278.6 454.9h0M279.0 454.7h0M279.1 454.5h0M279.3 454.3h0M278.9 454.1h0M279.1 453.8h0M279.6 453.6h0M279.4 453.4h0M279.6 453.2h0M279.6 453.0h0M279.6 452.7h0M279.8 452.6h0M279.9 452.4h0M280.2 452.2h0M280.0 452.0h0M280.3 451.8h0M280.1 451.6h0M280.4 451.4h0M280.4 451.3h0M280.6 451.1h0M280.8 450.9h0M280.4 450.7h0M281.0 450.5h0M280.9 450.4h0M280.8 450.2h0M281.0 450.0h0M280.9 449.8h0M281.0 449.6h0M281.4 449.4h0M281.5 449.1h0M281.6 448.9h0M281.4 448.7h0M281.4 448.4h0M281.6 448.2h0M281.8 447.9h0M282.0 447.7h0M281.9 447.4h0M282.2 447.2h0M282.2 446.9h0M282.1 446.6h0M282.5 446.3h0M282.2 446.1h0M282.5 445.8h0M282.4 445.5h0M282.5 445.2h0M282.8 444.9h0M282.9 444.6h0M283.0 444.3h0M282.9 444.0h0M283.3 443.5h0M283.3 443.2h0M283.1 442.9h0M283.1 442.5h0M283.7 442.1h0M283.5 441.6h0M283.4 441.2h0M283.6 440.8h0M283.9 440.3h0M283.7 439.8h0M283.9 439.1h0M284.2 438.6h0M284.1 438.0h0M284.3 437.3h0M284.5 437.1h0M284.4 436.9h0M284.4 436.6h0M284.4 436.4h0M284.3 436.1h0M284.5 435.8h0M284.5 435.5h0M284.5 435.2h0M284.5 434.9h0M284.6 434.6h0M284.4 434.3h0M284.7 433.9h0M284.8 433.6h0M284.4 433.2h0M284.5 432.7h0M284.9 432.3h0M284.5 431.8h0M284.9 431.3h0M284.8 430.7h0M284.6 430.1h0M284.9 429.4h0M284.6 428.7h0M285.0 427.8h0M284.8 426.8h0M285.1 425.6h0M285.2 424.1h0M284.8 422.2h0M285.0 419.2h0M284.9 412.9h0M297.2 471.6h0M297.5 469.3h0M297.3 468.1h0M297.3 467.3h0M297.6 466.7h0M297.5 465.7h0M297.9 465.0h0M297.9 464.3h0M298.0 463.8h0M298.0 463.3h0M297.8 463.1h0M298.1 462.7h0M298.2 462.3h0M298.2 462.0h0M298.3 461.6h0M298.3 461.3h0M298.3 461.0h0M298.8 460.8h0M298.6 460.5h0M298.6 460.2h0M299.1 460.0h0M298.9 459.7h0M299.1 459.5h0M299.0 459.3h0M299.0 459.1h0M299.2 459.0h0M299.5 458.7h0M299.3 458.5h0M299.7 458.3h0M299.5 458.1h0M299.9 457.9h0M299.6 457.7h0M299.9 457.5h0M299.8 457.4h0M299.9 457.2h0M300.2 457.0h0M300.2 456.8h0M300.4 456.6h0M300.3 456.4h0M300.4 456.3h0M300.5 456.2h0M300.9 456.0h0M300.5 455.8h0M300.8 455.7h0M301.1 455.5h0M301.1 455.3h0M301.0 455.1h0M301.5 455.0h0M301.1 454.8h0M301.2 454.6h0M301.2 454.4h0M301.5 454.2h0M301.8 454.0h0M301.6 453.9h0M301.7 453.8h0M302.0 453.6h0M301.8 453.4h0M301.8 453.2h0M302.2 453.0h0M302.0 452.8h0M302.4 452.6h0M302.3 452.3h0M302.6 452.1h0M302.8 451.9h0M302.7 451.7h0M302.7 451.5h0M302.9 451.2h0M303.1 451.0h0M302.8 450.7h0M303.0 450.6h0M303.1 450.3h0M303.3 450.0h0M303.3 449.7h0M303.6 449.4h0M303.4 449.1h0M303.9 448.8h0M303.7 448.5h0M303.7 448.1h0M303.7 447.7h0M303.8 447.3h0M304.0 446.9h0M304.3 446.6h0M304.2 446.4h0M304.2 446.1h0M304.5 445.9h0M304.6 445.6h0M304.5 445.3h0M304.3 445.0h0M304.4 444.6h0M304.5 444.3h0M304.4 443.9h0M304.5 443.5h0M304.5 443.0h0M304.6 442.5h0M304.9 441.9h0M304.8 441.3h0M304.8 440.6h0M304.9 439.7h0M305.0 438.7h0M305.1 437.2h0M304.8 435.1h0M305.2 430.7h0M317.4 466.0h0M317.4 464.1h0M317.5 463.2h0M317.5 462.5h0M317.3 461.3h0M317.3 459.8h0M317.6 459.0h0M317.7 458.3h0M317.7 457.7h0M318.0 457.2h0M318.1 456.7h0M318.1 456.4h0M318.1 456.0h0M318.3 455.7h0M318.1 455.4h0M318.5 455.1h0M318.3 454.8h0M318.7 454.6h0M318.7 454.3h0M318.6 454.1h0M318.6 453.8h0M318.9 453.6h0M318.9 453.4h0M319.1 453.2h0M318.9 453.0h0M319.4 452.8h0M319.3 452.6h0M319.4 452.5h0M319.6 452.3h0M319.6 452.1h0M319.6 451.9h0M319.6 451.7h0M319.8 451.6h0M319.7 451.4h0M319.9 451.2h0M320.3 451.1h0M320.0 450.9h0M320.1 450.7h0M320.5 450.6h0M320.4 450.4h0M320.6 450.3h0M320.7 450.1h0M320.8 449.9h0M320.7 449.8h0M321.0 449.7h0M320.7 449.5h0M321.2 449.3h0M321.1 449.2h0M321.3 449.0h0M321.2 448.8h0M321.5 448.6h0M321.4 448.4h0M321.6 448.2h0M321.6 448.0h0M321.9 447.8h0M322.0 447.5h0M321.8 447.3h0M322.2 447.1h0M322.3 446.9h0M322.1 446.6h0M322.1 446.4h0M322.6 446.1h0M322.7 445.9h0M322.4 445.6h0M322.8 445.4h0M322.9 445.1h0M322.7 444.9h0M323.0 444.6h0M322.9 444.3h0M323.2 444.0h0M323.2 443.7h0M323.2 443.4h0M323.2 443.1h0M323.5 442.8h0M323.6 442.5h0M323.5 442.1h0M323.5 441.7h0M323.6 441.3h0M323.7 440.9h0M324.2 440.5h0M324.2 440.0h0M324.3 439.5h0M324.3 438.9h0M324.1 438.3h0M324.3 437.6h0M324.7 437.0h0M324.7 436.1h0M324.9 435.2h0M324.8 435.0h0M324.8 434.8h0M324.8 434.6h0M324.9 434.4h0M324.7 434.2h0M324.5 434.0h0M324.7 433.7h0M324.5 433.5h0M324.7 433.3h0M324.9 433.0h0M324.7 432.7h0M324.7 432.5h0M324.6 432.2h0M324.8 431.8h0M324.9 431.5h0M324.9 431.1h0M325.1 430.8h0M324.7 430.4h0M324.8 429.9h0M324.7 429.4h0M325.2 428.9h0M325.1 428.3h0M325.1 427.6h0M325.2 426.8h0M324.8 425.8h0M325.2 424.6h0M325.0 423.1h0M325.1 420.7h0M325.0 415.7h0M337.1 472.2h0M337.2 470.6h0M337.5 469.8h0M337.3 469.3h0M337.5 468.9h0M337.7 467.7h0M337.7 467.0h0M337.5 466.3h0M337.9 465.8h0M338.0 465.4h0M338.0 465.1h0M338.2 464.8h0M338.3 464.5h0M338.2 464.2h0M338.5 464.0h0M338.4 463.7h0M338.3 463.5h0M338.4 463.3h0M338.9 463.1h0M338.6 462.9h0M338.8 462.7h0M339.1 462.5h0M339.1 462.3h0M339.2 462.2h0M339.1 462.0h0M339.3 461.8h0M339.1 461.7h0M339.3 461.5h0M339.3 461.4h0M339.6 461.2h0M339.7 461.1h0M339.6 460.9h0M339.9 460.8h0M339.7 460.7h0M340.0 460.5h0M339.9 460.4h0M340.2 460.3h0M340.1 460.1h0M340.6 460.0h0M340.4 459.9h0M340.7 459.7h0M340.6 459.6h0M340.6 459.5h0M341.0 459.4h0M340.8 459.2h0M341.0 459.1h0M341.2 459.0h0M341.4 458.9h0M341.4 458.7h0M341.1 458.5h0M341.4 458.4h0M341.7 458.2h0M341.8 458.0h0M341.6 457.8h0M341.6 457.7h0M341.8 457.5h0M342.1 457.3h0M341.9 457.1h0M342.3 456.9h0M342.1 456.7h0M342.4 456.5h0M342.5 456.3h0M342.4 456.1h0M342.6 455.9h0M342.7 455.7h0M342.6 455.5h0M342.8 455.3h0M343.0 455.0h0M343.3 454.8h0M343.0 454.6h0M343.0 454.3h0M343.3 454.1h0M343.4 453.8h0M343.4 453.5h0M343.8 453.2h0M343.5 452.9h0M343.7 452.6h0M343.8 452.2h0M343.7 451.9h0M344.0 451.5h0M344.0 451.1h0M344.1 450.6h0M344.4 450.1h0M344.6 449.6h0M344.7 449.1h0M344.4 448.5h0M344.5 448.3h0M344.8 448.1h0M344.4 448.0h0M344.4 447.8h0M344.4 447.6h0M344.9 447.4h0M344.7 447.2h0M344.6 447.0h0M344.5 446.7h0M344.9 446.5h0M345.0 446.3h0M344.9 446.0h0M345.0 445.7h0M344.8 445.4h0M344.7 445.1h0M344.7 444.8h0M344.8 444.5h0M344.7 444.1h0M344.8 443.7h0M344.7 443.2h0M344.7 442.7h0M345.2 442.2h0M345.2 441.5h0M345.2 440.8h0M345.0 439.9h0M345.0 438.8h0M345.1 437.3h0M345.2 435.1h0M345.0 430.4h0M357.5 471.6h0M357.4 469.9h0M357.5 469.0h0M357.6 468.4h0M357.6 467.6h0M357.5 466.1h0M357.7 465.3h0M357.8 464.6h0M357.7 464.1h0M357.7 463.7h0M357.9 463.3h0M358.2 463.0h0M358.3 462.6h0M358.1 462.3h0M358.3 462.0h0M358.2 461.8h0M358.5 461.5h0M358.6 461.3h0M358.8 461.1h0M358.9 460.8h0M358.6 460.6h0M359.2 460.4h0M358.9 460.2h0M359.3 460.1h0M359.4 459.8h0M359.1 459.7h0M359.3 459.5h0M359.3 459.3h0M359.7 459.2h0M359.8 459.0h0M359.9 458.8h0M360.0 458.7h0M359.8 458.5h0M360.1 458.4h0M360.0 458.2h0M360.1 458.1h0M360.2 457.9h0M360.4 457.8h0M360.3 457.6h0M360.5 457.5h0M360.6 457.4h0M360.8 457.2h0M360.7 457.1h0M360.8 456.9h0M361.0 456.8h0M361.0 456.7h0M361.2 456.5h0M361.0 456.4h0M361.1 456.2h0M361.1 455.9h0M361.4 455.7h0M361.7 455.4h0M361.7 455.2h0M361.8 454.9h0M362.0 454.7h0M362.1 454.4h0M361.9 454.1h0M361.9 453.9h0M362.2 453.6h0M362.1 453.3h0M362.4 453.0h0M362.2 452.7h0M362.5 452.4h0M362.7 452.1h0M362.6 451.8h0M362.6 451.4h0M363.0 451.1h0M362.8 450.7h0M363.2 450.4h0M363.2 450.1h0M363.4 449.6h0M363.3 449.3h0M363.4 448.8h0M363.4 448.4h0M363.4 447.9h0M363.9 447.5h0M363.6 447.0h0M363.6 446.4h0M364.1 445.9h0M364.0 445.2h0M364.1 444.6h0M364.4 444.0h0M364.4 443.2h0M364.2 442.4h0M364.3 441.4h0M364.6 440.5h0M364.7 439.1h0M364.5 438.4h0M364.6 438.1h0M364.7 437.9h0M364.5 437.6h0M364.9 437.3h0M364.8 437.0h0M364.6 436.7h0M364.8 436.3h0M364.9 436.0h0M364.6 435.6h0M364.8 435.2h0M365.0 434.8h0M364.9 434.4h0M365.0 434.0h0M364.8 433.5h0M365.2 433.0h0M365.0 432.4h0M365.0 431.8h0M364.7 431.2h0M364.9 430.5h0M364.8 429.8h0M365.0 428.9h0M364.9 428.0h0M364.9 426.9h0M365.0 425.6h0M364.9 424.1h0M365.0 422.2h0M365.1 419.6h0M364.9 415.6h0M365.2 407.0h0M377.2 474.7h0M377.2 473.2h0M377.2 472.4h0M377.6 471.9h0M377.5 471.1h0M377.5 469.8h0M377.6 469.1h0M377.7 468.5h0M377.8 468.0h0M378.0 467.6h0M377.9 467.3h0M378.3 466.9h0M378.3 466.6h0M378.4 466.4h0M378.5 466.1h0M378.3 465.9h0M378.5 465.7h0M378.8 465.5h0M378.6 465.2h0M378.8 465.1h0M378.7 464.8h0M379.1 464.7h0M379.0 464.5h0M379.1 464.3h0M379.4 464.2h0M379.1 464.0h0M379.1 463.9h0M379.4 463.7h0M379.5 463.6h0M379.5 463.4h0M379.7 463.3h0M380.0 463.1h0M380.1 463.0h0M380.2 462.9h0M380.2 462.7h0M380.0 462.6h0M380.2 462.4h0M380.3 462.3h0M380.2 462.2h0M380.7 462.1h0M380.5 461.9h0M380.8 461.8h0M380.9 461.7h0M380.8 461.5h0M380.9 461.4h0M381.0 461.3h0M381.0 461.2h0M381.0 461.0h0M381.3 460.9h0M381.3 460.6h0M381.4 460.4h0M381.7 460.1h0M381.8 459.9h0M381.7 459.7h0M381.6 459.4h0M382.1 459.1h0M381.9 458.8h0M381.9 458.6h0M382.3 458.3h0M382.5 458.0h0M382.3 457.7h0M382.5 457.4h0M382.7 457.1h0M382.6 456.8h0M382.6 456.5h0M382.6 456.2h0M382.7 455.8h0M383.2 455.5h0M383.2 455.1h0M383.0 454.7h0M383.3 454.3h0M383.2 453.9h0M383.5 453.5h0M383.4 453.1h0M383.7 452.6h0M383.7 452.1h0M383.6 451.6h0M383.9 451.1h0M384.0 450.4h0M383.8 449.8h0M383.9 449.1h0M384.1 448.4h0M384.4 447.5h0M384.6 446.7h0M384.4 445.8h0M384.7 444.6h0M384.8 443.4h0M384.6 442.3h0M384.7 442.0h0M384.9 441.7h0M384.7 441.4h0M384.8 441.1h0M384.9 440.8h0M384.6 440.4h0M384.8 440.0h0M384.8 439.7h0M384.9 439.3h0M385.0 438.8h0M384.8 438.4h0M384.9 437.9h0M384.9 437.4h0M384.7 436.9h0M385.1 436.3h0M385.2 435.7h0M385.0 435.0h0M385.0 434.3h0M384.9 433.5h0M385.0 432.7h0M385.0 431.7h0M384.9 430.6h0M385.3 429.3h0M385.0 427.9h0M385.0 426.1h0M385.2 423.8h0M384.9 420.8h0M385.1 416.0h0M385.2 405.4h0M397.6 464.4h0M397.6 460.8h0M397.5 458.9h0M397.8 457.6h0M397.8 456.5h0M397.9 455.6h0M397.9 454.9h0M398.1 454.2h0M398.1 453.6h0M398.2 453.0h0M398.2 452.5h0M398.5 452.0h0M398.7 451.6h0M398.5 451.1h0M398.5 450.7h0M398.6 450.3h0M399.0 450.0h0M398.9 449.6h0M398.8 449.2h0M399.3 448.9h0M399.2 448.6h0M399.1 448.2h0M399.5 447.9h0M399.5 447.6h0M399.8 447.3h0M399.8 447.0h0M399.9 446.7h0M400.0 446.4h0M399.9 446.2h0M400.2 445.9h0M400.1 445.6h0M400.3 445.3h0M400.2 445.1h0M400.5 444.8h0M400.3 444.5h0M400.8 444.3h0M400.5 444.0h0M400.8 443.8h0M401.0 443.5h0M401.1 443.3h0M401.2 443.0h0M401.1 442.7h0M401.0 442.5h0M401.5 442.2h0M401.3 441.9h0M401.7 441.6h0M401.5 441.3h0M401.6 441.0h0M401.8 440.7h0M401.9 440.4h0M402.1 440.0h0M402.1 439.7h0M402.0 439.4h0M402.2 439.0h0M402.1 438.7h0M402.6 438.3h0M402.3 438.0h0M402.5 437.6h0M402.7 437.2h0M402.7 436.9h0M403.0 436.5h0M403.1 436.1h0M402.9 435.6h0M403.1 435.2h0M403.3 434.8h0M403.3 434.3h0M403.5 433.9h0M403.4 433.4h0M403.6 432.9h0M403.7 432.3h0M404.0 431.8h0M403.8 431.2h0M404.1 430.6h0M403.9 429.9h0M404.0 429.2h0M404.1 428.5h0M404.5 427.7h0M404.2 426.8h0M404.4 425.8h0M404.6 424.8h0M404.8 423.6h0M404.8 422.2h0M404.7 420.5h0M404.9 418.5h0M405.1 415.8h0M404.9 411.9h0M405.0 403.5h0M407.6 476.6h0M407.2 473.7h0M407.2 472.2h0M407.3 471.2h0M407.7 469.7h0M407.5 467.5h0M407.6 466.3h0M407.8 465.2h0M408.1 464.2h0M407.7 463.5h0M407.9 462.9h0M408.1 462.2h0M408.3 461.7h0M408.1 461.1h0M408.4 460.6h0M408.5 460.3h0M408.3 459.8h0M408.6 459.4h0M408.5 459.0h0M409.0 458.7h0M408.7 458.3h0M408.8 458.0h0M409.1 457.6h0M409.0 457.3h0M409.3 457.0h0M409.3 456.7h0M409.7 456.4h0M409.6 456.1h0M409.5 455.9h0M409.5 455.6h0M409.8 455.3h0M410.0 455.0h0M410.1 454.8h0M410.1 454.5h0M410.1 454.3h0M410.4 454.0h0M410.3 453.7h0M410.4 453.5h0M410.7 453.3h0M410.7 453.0h0M410.7 452.8h0M410.9 452.6h0M411.0 452.3h0M410.8 452.1h0M411.0 451.8h0M411.2 451.6h0M411.1 451.4h0M411.2 451.1h0M411.4 450.8h0M411.2 450.6h0M411.4 450.3h0M411.9 450.0h0M411.6 449.8h0M412.0 449.5h0M411.6 449.2h0M411.9 448.9h0M412.1 448.6h0M412.1 448.3h0M412.5 448.0h0M412.5 447.7h0M412.3 447.4h0M412.3 447.0h0M412.8 446.7h0M412.8 446.3h0M412.8 446.0h0M412.6 445.7h0M412.7 445.3h0M413.1 444.9h0M413.2 444.6h0M413.2 444.1h0M413.2 443.7h0M413.3 443.2h0M413.4 442.9h0M413.5 442.4h0M413.7 441.9h0M413.7 441.3h0M413.7 440.8h0M413.8 440.3h0M414.1 439.7h0M414.3 439.0h0M414.0 438.3h0M414.4 437.7h0M414.4 436.8h0M414.3 435.9h0M414.3 434.9h0M414.8 433.8h0M414.5 432.7h0M414.5 432.5h0M414.5 432.2h0M414.9 431.9h0M414.7 431.6h0M414.5 431.2h0M414.7 430.9h0M414.8 430.6h0M414.8 430.2h0M414.7 429.8h0M415.0 429.4h0M415.0 429.0h0M414.8 428.5h0M414.8 428.1h0M414.8 427.6h0M414.7 427.1h0M415.0 426.5h0M414.9 425.9h0M415.1 425.2h0M415.2 424.5h0M415.0 423.7h0M415.0 422.9h0M415.0 421.9h0M415.1 420.8h0M414.9 419.5h0M415.1 417.9h0M415.1 416.0h0M415.0 413.3h0M415.4 409.4h0M415.3 400.7h0M427.2 472.2h0M427.5 470.0h0M427.8 468.8h0M427.4 468.0h0M427.6 467.4h0M427.9 466.4h0M427.6 465.6h0M427.9 465.0h0M427.9 464.5h0M428.2 464.0h0M428.3 463.6h0M428.4 463.2h0M428.5 462.9h0M428.2 462.5h0M428.6 462.2h0M428.6 461.9h0M428.6 461.6h0M428.6 461.4h0M428.8 461.1h0M428.9 460.8h0M429.0 460.6h0M429.3 460.4h0M429.1 460.2h0M429.5 459.9h0M429.2 459.7h0M429.6 459.5h0M429.5 459.3h0M429.6 459.1h0M429.7 458.9h0M429.6 458.7h0M429.8 458.5h0M429.9 458.3h0M429.9 458.2h0M430.3 458.0h0M430.3 457.8h0M430.4 457.6h0M430.5 457.4h0M430.3 457.3h0M430.4 457.1h0M430.5 456.9h0M431.0 456.8h0M430.9 456.6h0M431.2 456.4h0M431.0 456.3h0M431.1 456.1h0M431.3 455.9h0M431.5 455.8h0M431.4 455.5h0M431.5 455.3h0M431.5 455.1h0M431.5 454.8h0M431.9 454.6h0M432.0 454.3h0M431.9 454.1h0M431.8 453.8h0M432.3 453.5h0M432.2 453.3h0M432.4 453.0h0M432.3 452.7h0M432.2 452.4h0M432.7 452.2h0M432.4 451.9h0M432.9 451.6h0M432.6 451.2h0M432.8 450.9h0M432.7 450.6h0M432.9 450.3h0M433.2 449.9h0M433.0 449.5h0M433.1 449.2h0M433.2 448.8h0M433.2 448.4h0M433.6 448.0h0M433.5 447.5h0M433.9 447.1h0M433.9 446.6h0M433.9 446.1h0M434.2 445.5h0M434.3 445.0h0M434.1 444.3h0M434.4 443.7h0M434.4 443.3h0M434.2 443.0h0M434.6 442.6h0M434.2 442.2h0M434.6 441.8h0M434.7 441.3h0M434.7 440.8h0M434.7 440.3h0M434.8 439.8h0M434.7 439.2h0M434.6 438.6h0M434.7 437.9h0M434.8 437.2h0M435.1 436.4h0M435.1 435.5h0M435.2 434.4h0M434.9 433.2h0M435.3 431.7h0M435.3 429.9h0M434.9 427.5h0M435.2 423.7h0M435.0 415.7h0M447.7 468.5h0M447.4 466.5h0M447.3 465.5h0M447.8 464.8h0M447.7 464.3h0M447.9 463.4h0M447.9 462.8h0M448.0 462.3h0M447.9 461.8h0M448.3 461.4h0M448.2 461.0h0M448.2 460.7h0M448.2 460.4h0M448.2 460.1h0M448.4 459.8h0M448.5 459.6h0M448.6 459.3h0M448.9 459.0h0M449.1 458.8h0M449.0 458.6h0M449.2 458.3h0M448.9 458.2h0M449.3 458.0h0M449.3 457.8h0M449.6 457.6h0M449.4 457.4h0M449.7 457.2h0M449.7 457.1h0M449.9 456.9h0M449.8 456.7h0M450.1 456.6h0M450.2 456.4h0M450.1 456.3h0M450.2 456.1h0M450.4 456.0h0M450.4 455.8h0M450.7 455.7h0M450.8 455.5h0M450.6 455.4h0M450.8 455.2h0M450.6 455.1h0M451.1 454.9h0M451.0 454.8h0M450.8 454.6h0M450.9 454.5h0M451.4 454.4h0M451.5 454.2h0M451.5 454.0h0M451.5 453.8h0M451.5 453.6h0M451.7 453.3h0M452.0 453.1h0M451.9 452.9h0M451.7 452.7h0M451.9 452.5h0M451.9 452.3h0M452.4 452.1h0M452.5 451.8h0M452.6 451.6h0M452.4 451.4h0M452.5 451.1h0M452.4 450.9h0M452.6 450.7h0M452.7 450.4h0M452.8 450.1h0M452.9 449.9h0M453.2 449.6h0M453.3 449.3h0M453.2 449.0h0M453.5 448.7h0M453.3 448.4h0M453.4 448.1h0M453.7 447.8h0M453.5 447.4h0M453.6 447.1h0M454.1 446.7h0M453.9 446.3h0M454.0 445.7h0M454.3 445.2h0M454.4 444.7h0M454.3 444.2h0M454.5 443.9h0M454.2 443.6h0M454.6 443.3h0M454.5 443.0h0M454.5 442.7h0M454.3 442.3h0M454.4 442.0h0M454.6 441.6h0M454.5 441.2h0M454.8 440.7h0M455.0 440.3h0M454.7 439.7h0M455.0 439.2h0M455.0 438.6h0M455.0 437.9h0M455.2 437.1h0M455.1 436.2h0M455.3 435.1h0M455.0 433.7h0M455.3 431.9h0M455.2 429.2h0M455.1 423.5h0M467.5 468.5h0M467.5 466.9h0M467.7 466.2h0M467.6 465.6h0M467.5 464.6h0M467.9 463.6h0M467.9 462.8h0M468.0 462.2h0M468.1 461.7h0M468.1 461.4h0M468.0 461.0h0M468.4 460.7h0M468.4 460.4h0M468.2 460.1h0M468.6 459.9h0M468.5 459.6h0M468.4 459.4h0M468.9 459.2h0M468.7 459.0h0M468.9 458.8h0M468.8 458.6h0M469.1 458.4h0M469.2 458.3h0M469.4 458.1h0M469.6 457.9h0M469.6 457.8h0M469.6 457.6h0M469.5 457.5h0M469.9 457.3h0M469.6 457.2h0M469.8 457.0h0M470.0 456.9h0M470.0 456.7h0M470.2 456.6h0M470.0 456.5h0M470.2 456.3h0M470.2 456.2h0M470.5 456.1h0M470.4 455.9h0M470.8 455.8h0M470.6 455.7h0M470.7 455.5h0M471.0 455.4h0M470.9 455.3h0M471.3 455.2h0M471.2 455.0h0M471.1 454.9h0M471.5 454.8h0M471.7 454.7h0M471.4 454.5h0M471.6 454.3h0M471.7 454.2h0M472.0 454.0h0M472.1 453.8h0M471.7 453.7h0M472.0 453.5h0M472.3 453.3h0M472.2 453.1h0M472.3 453.0h0M472.4 452.8h0M472.2 452.6h0M472.4 452.4h0M472.9 452.2h0M472.7 452.0h0M472.8 451.8h0M473.0 451.6h0M473.2 451.4h0M473.3 451.2h0M473.0 450.9h0M473.4 450.7h0M473.1 450.5h0M473.5 450.3h0M473.7 450.0h0M473.6 449.7h0M473.7 449.4h0M474.0 449.2h0M474.0 448.9h0M474.2 448.6h0M474.1 448.2h0M474.1 447.9h0M474.4 447.5h0M474.3 447.2h0M474.2 446.7h0M474.3 446.3h0M474.8 445.7h0M474.8 445.2h0M474.5 444.5h0M475.0 444.0h0M475.0 443.8h0M474.6 443.7h0M475.1 443.5h0M474.7 443.4h0M474.9 443.2h0M475.0 443.0h0M474.9 442.9h0M474.9 442.7h0M475.0 442.5h0M475.1 442.3h0M475.2 442.1h0M475.2 441.9h0M475.3 441.6h0M475.2 441.4h0M475.1 441.1h0M475.0 440.8h0M475.3 440.5h0M475.3 440.2h0M475.0 439.9h0M475.3 439.5h0M475.1 439.1h0M475.0 438.6h0M475.2 438.0h0M475.4 437.4h0M475.3 436.7h0M475.4 435.8h0M475.4 434.5h0M475.4 432.7h0M475.2 428.8h0M487.3 468.5h0M487.7 466.6h0M487.7 465.6h0M487.9 465.0h0M487.7 464.4h0M488.1 464.0h0M487.9 463.6h0M488.2 463.2h0M488.4 462.9h0M488.3 462.6h0M488.2 462.4h0M488.3 462.1h0M488.5 461.9h0M488.8 461.7h0M488.9 461.5h0M488.8 461.3h0M488.9 461.1h0M488.9 460.9h0M489.1 460.7h0M489.1 460.5h0M489.5 460.4h0M489.3 460.2h0M489.3 460.1h0M489.6 459.7h0M489.5 459.6h0M489.6 459.5h0M489.8 459.3h0M490.1 459.2h0M489.9 459.0h0M490.0 458.9h0M490.1 458.8h0M490.3 458.6h0M490.2 458.5h0M490.5 458.4h0M490.5 458.2h0M490.4 458.1h0M490.6 458.0h0M490.9 457.8h0M490.7 457.7h0M491.1 457.6h0M490.8 457.5h0M491.1 457.3h0M491.2 457.2h0M491.4 457.1h0M491.1 457.0h0M491.3 456.8h0M491.5 456.6h0M491.9 456.5h0M491.7 456.3h0M492.0 456.1h0M491.9 455.9h0M492.2 455.7h0M491.9 455.5h0M492.3 455.3h0M492.1 455.1h0M492.2 454.9h0M492.4 454.7h0M492.5 454.5h0M492.8 454.3h0M492.9 454.0h0M492.9 453.8h0M492.7 453.6h0M492.8 453.4h0M493.0 453.1h0M493.0 452.9h0M493.0 452.6h0M493.1 452.4h0M493.3 451.8h0M493.4 451.5h0M493.4 451.2h0M493.6 450.9h0M494.0 450.6h0M494.0 450.3h0M494.0 449.9h0M494.3 449.5h0M494.3 449.1h0M494.0 448.7h0M494.1 448.3h0M494.3 447.8h0M494.5 447.3h0M494.8 446.7h0M494.4 446.1h0M494.8 445.4h0M495.0 444.7h0M494.8 443.8h0M495.1 442.7h0M495.3 441.4h0M495.0 439.7h0M495.3 437.1h0M495.3 431.6h0M507.7 468.5h0M507.8 466.2h0M507.4 465.0h0M507.5 464.2h0M507.8 462.6h0M507.8 461.6h0M508.1 460.8h0M508.0 460.1h0M507.9 459.6h0M508.2 459.1h0M508.1 458.8h0M508.5 458.3h0M508.6 458.0h0M508.7 457.6h0M508.4 457.2h0M508.7 456.9h0M508.6 456.6h0M509.1 456.3h0M508.8 456.1h0M509.1 455.8h0M509.3 455.5h0M509.1 455.3h0M509.4 455.0h0M509.2 454.8h0M509.3 454.6h0M509.5 454.4h0M509.4 454.2h0M509.7 454.0h0M509.9 453.8h0M510.1 453.6h0M509.9 453.4h0M510.1 453.2h0M510.3 453.0h0M510.2 452.8h0M510.3 452.6h0M510.4 452.4h0M510.7 452.2h0M510.6 452.0h0M510.9 451.8h0M510.6 451.7h0M510.8 451.5h0M510.9 451.4h0M510.9 451.2h0M511.0 451.0h0M511.2 450.8h0M511.5 450.6h0M511.5 450.4h0M511.7 450.2h0M511.5 450.0h0M511.6 449.7h0M511.6 449.4h0M511.9 449.2h0M511.8 448.9h0M512.2 448.6h0M512.1 448.5h0M512.0 448.2h0M512.3 447.9h0M512.3 447.6h0M512.3 447.3h0M512.5 447.0h0M512.7 446.7h0M513.0 446.4h0M512.9 446.1h0M512.8 445.7h0M512.8 445.4h0M513.0 445.0h0M513.0 444.7h0M513.2 444.3h0M513.3 443.9h0M513.3 443.7h0M513.3 443.3h0M513.8 442.9h0M513.9 442.4h0M513.9 442.0h0M514.1 441.5h0M514.0 441.0h0M514.2 440.5h0M514.1 439.9h0M514.3 439.3h0M514.5 438.7h0M514.5 438.0h0M514.6 437.3h0M514.6 437.0h0M514.5 436.7h0M514.7 436.4h0M514.8 436.2h0M514.5 435.9h0M514.5 435.5h0M514.5 435.2h0M514.6 434.9h0M514.6 434.5h0M514.6 434.2h0M514.7 433.8h0M514.8 433.4h0M514.7 432.9h0M515.1 432.5h0M514.7 432.0h0M514.7 431.5h0M515.2 431.0h0M515.0 430.4h0M515.2 429.7h0M515.0 429.0h0M514.9 428.2h0M514.9 427.3h0M515.4 426.3h0M515.0 425.2h0M515.2 423.8h0M515.1 422.1h0M515.4 419.8h0M515.3 416.3h0M515.5 408.8h0M527.8 471.6h0M527.6 469.5h0M527.8 468.4h0M527.4 467.7h0M527.9 466.7h0M527.7 465.1h0M528.1 463.9h0M528.0 463.1h0M527.9 462.5h0M528.2 462.0h0M528.0 461.5h0M528.3 461.0h0M528.5 460.6h0M528.3 460.2h0M528.3 459.9h0M528.8 459.6h0M528.6 459.3h0M528.9 459.0h0M528.9 458.7h0M528.8 458.4h0M529.3 458.2h0M529.1 457.9h0M529.1 457.7h0M529.5 457.5h0M529.7 457.2h0M529.4 457.0h0M529.8 456.8h0M529.5 456.6h0M529.9 456.4h0M529.9 456.2h0M529.8 456.0h0M530.0 455.8h0M530.0 455.6h0M530.3 455.4h0M530.3 455.2h0M530.3 455.1h0M530.6 454.9h0M530.5 454.7h0M530.4 454.5h0M530.7 454.3h0M531.0 454.2h0M530.8 454.0h0M530.9 453.8h0M531.3 453.6h0M531.0 453.5h0M531.5 453.3h0M531.3 453.1h0M531.3 453.0h0M531.6 452.7h0M531.8 452.5h0M531.7 452.3h0M531.7 452.0h0M531.7 451.8h0M531.7 451.5h0M532.2 451.3h0M532.3 451.0h0M532.1 450.8h0M532.3 450.5h0M532.5 450.2h0M532.6 450.0h0M532.7 449.6h0M532.9 449.4h0M532.6 449.1h0M533.1 448.8h0M533.0 448.5h0M532.9 448.2h0M533.2 447.8h0M533.1 447.5h0M533.2 447.2h0M533.5 446.8h0M533.6 446.5h0M533.6 446.1h0M533.8 445.7h0M533.9 445.3h0M533.8 444.9h0M533.7 444.5h0M534.2 444.0h0M533.8 443.5h0M534.1 442.9h0M534.1 442.4h0M534.4 441.8h0M534.6 441.2h0M534.3 440.5h0M534.6 439.8h0M534.6 438.9h0M534.9 437.9h0M535.1 436.9h0M535.0 436.5h0M534.7 436.2h0M534.9 436.0h0M534.9 435.7h0M534.8 435.5h0M535.2 435.2h0M534.9 434.9h0M534.9 434.6h0M534.9 434.3h0M535.1 434.0h0M535.2 433.6h0M534.9 433.3h0M535.1 432.9h0M535.0 432.5h0M534.9 432.1h0M535.1 431.6h0M535.2 431.1h0M535.2 430.6h0M535.4 430.1h0M535.3 429.5h0M535.4 428.8h0M535.4 428.1h0M535.4 427.2h0M535.5 426.3h0M535.5 425.2h0M535.4 423.9h0M535.2 422.2h0M535.2 420.0h0M535.6 416.7h0M535.1 409.5h0M535.4 367.6h0M547.5 471.6h0M547.7 470.3h0M547.9 469.6h0M547.5 469.2h0M547.8 468.6h0M548.0 467.7h0M547.9 467.0h0M548.2 466.6h0M547.9 466.2h0M548.3 465.9h0M548.0 465.6h0M548.2 465.3h0M548.2 465.1h0M548.2 464.8h0M548.7 464.6h0M548.6 464.4h0M548.7 464.3h0M549.0 464.1h0M548.8 463.9h0M549.2 463.7h0M549.0 463.6h0M549.4 463.4h0M549.5 463.3h0M549.4 463.2h0M549.7 463.0h0M549.7 462.9h0M549.9 462.8h0M549.6 462.6h0M549.8 462.5h0M549.8 462.4h0M549.9 462.3h0M550.1 462.1h0M550.3 462.0h0M550.2 461.9h0M550.4 461.8h0M550.3 461.7h0M550.5 461.6h0M550.4 461.5h0M550.7 461.4h0M550.8 461.2h0M550.9 461.1h0M551.1 461.0h0M551.0 460.9h0M551.0 460.8h0M551.4 460.7h0M551.2 460.6h0M551.2 460.5h0M551.5 460.4h0M551.7 460.3h0M551.5 460.1h0M551.6 459.9h0M551.6 459.7h0M551.9 459.6h0M551.9 459.4h0M552.2 459.2h0M552.0 459.0h0M552.3 458.8h0M552.2 458.6h0M552.3 458.4h0M552.3 458.2h0M552.7 458.0h0M552.8 457.8h0M552.8 457.6h0M553.0 457.4h0M553.1 457.1h0M553.2 456.9h0M553.2 456.7h0M553.2 456.4h0M553.3 456.2h0M553.5 455.9h0M553.4 455.7h0M553.4 455.4h0M553.9 455.0h0M554.0 454.8h0M553.9 454.4h0M554.1 454.1h0M553.8 453.8h0M554.2 453.5h0M554.2 453.0h0M554.2 452.6h0M554.2 452.2h0M554.5 451.7h0M554.7 451.2h0M554.8 450.6h0M554.5 450.1h0M554.8 449.3h0M554.8 448.8h0M554.7 448.6h0M554.7 448.5h0M555.0 448.3h0M554.8 448.1h0M554.9 447.9h0M555.0 447.6h0M555.2 447.4h0M554.9 447.2h0M555.1 446.9h0M555.1 446.7h0M555.2 446.4h0M555.3 446.1h0M555.0 445.8h0M555.3 445.5h0M554.9 445.2h0M555.1 444.8h0M555.3 444.4h0M555.4 444.0h0M555.1 443.6h0M555.3 443.1h0M555.4 442.5h0M555.1 441.9h0M555.4 441.2h0M555.5 440.4h0M555.2 439.4h0M555.3 438.1h0M555.3 436.5h0M555.6 433.9h0M555.6 428.5h0M567.4 466.0h0M567.6 464.0h0M567.8 462.9h0M567.8 462.2h0M567.8 461.2h0M568.2 460.8h0M568.2 460.1h0M568.0 459.8h0M568.1 459.3h0M568.4 459.1h0M568.7 458.6h0M568.6 458.4h0M568.7 458.1h0M568.9 457.9h0M568.9 457.5h0M568.7 457.4h0M568.9 457.1h0M569.0 456.9h0M569.2 456.7h0M569.1 456.4h0M569.4 456.3h0M569.5 456.0h0M569.4 455.9h0M569.7 455.7h0M569.6 455.5h0M569.9 455.3h0M569.8 455.2h0M570.2 455.0h0M570.0 454.9h0M569.9 454.7h0M569.9 454.6h0M570.4 454.4h0M570.1 454.3h0M570.6 454.0h0M570.5 454.0h0M570.5 453.8h0M570.6 453.7h0M571.0 453.5h0M570.9 453.3h0M570.9 453.2h0M571.1 453.0h0M571.2 452.9h0M571.2 452.7h0M571.4 452.6h0M571.4 452.4h0M571.4 452.3h0M571.4 452.1h0M571.6 452.0h0M571.6 451.9h0M571.7 451.8h0M571.8 451.6h0M571.9 451.5h0M572.3 451.3h0M572.2 451.2h0M572.2 451.0h0M572.4 450.8h0M572.4 450.7h0M572.4 450.4h0M572.8 450.3h0M572.8 450.1h0M573.0 450.0h0M573.0 449.8h0M572.8 449.7h0M573.3 449.4h0M573.0 449.3h0M573.1 449.1h0M573.1 448.9h0M573.3 448.7h0M573.3 448.5h0M573.8 448.3h0M573.5 448.1h0M573.8 447.8h0M573.7 447.7h0M573.9 447.4h0M573.9 447.0h0M574.1 446.9h0M574.1 446.5h0M574.4 446.3h0M574.7 445.9h0M574.3 445.7h0M574.5 445.4h0M574.6 445.2h0M574.9 444.9h0M574.5 444.7h0M574.8 444.4h0M574.8 444.1h0M574.9 443.7h0M575.0 443.4h0M575.1 443.0h0M575.0 442.6h0M575.3 442.1h0M575.2 441.5h0M575.1 440.8h0M575.1 440.0h0M575.2 438.9h0M575.5 437.4h0M575.6 434.1h0M587.6 471.6h0M587.5 470.2h0M587.6 469.5h0M587.5 469.0h0M587.6 468.0h0M587.8 467.1h0M588.0 466.3h0M587.9 465.8h0M588.4 465.3h0M588.0 465.0h0M588.1 464.6h0M588.3 464.3h0M588.2 464.0h0M588.7 463.8h0M588.5 463.6h0M588.5 463.3h0M588.9 463.1h0M588.8 462.9h0M588.8 462.8h0M589.1 462.6h0M589.0 462.4h0M589.0 462.2h0M589.3 462.1h0M589.3 461.9h0M589.4 461.7h0M589.6 461.6h0M589.9 461.5h0M589.8 461.3h0M589.9 461.2h0M589.8 461.1h0M590.0 460.9h0M590.0 460.8h0M590.4 460.6h0M590.5 460.5h0M590.6 460.4h0M590.4 460.3h0M590.7 460.2h0M590.5 460.0h0M590.9 459.9h0M591.1 459.8h0M590.7 459.7h0M590.8 459.6h0M591.3 459.4h0M591.2 459.3h0M591.4 459.2h0M591.5 459.1h0M591.6 459.0h0M591.3 458.8h0M591.5 458.7h0M591.6 458.6h0M592.0 458.5h0M592.0 458.4h0M591.8 458.2h0M591.9 458.1h0M592.3 458.0h0M592.4 457.8h0M592.1 457.7h0M592.3 457.6h0M592.3 457.5h0M592.6 457.3h0M592.4 457.2h0M592.7 457.0h0M592.7 456.9h0M592.7 456.8h0M593.2 456.6h0M592.9 456.5h0M593.4 456.3h0M593.4 456.2h0M593.3 456.0h0M593.4 455.8h0M593.5 455.6h0M593.5 455.5h0M593.8 455.3h0M593.6 455.1h0M593.9 454.9h0M594.0 454.7h0M593.9 454.5h0M594.4 454.2h0M594.1 454.0h0M594.4 453.8h0M594.5 453.5h0M594.6 453.2h0M594.6 452.8h0M594.7 452.5h0M594.7 452.2h0M595.0 451.7h0M594.7 451.2h0M595.1 450.8h0M595.2 450.7h0M595.0 450.6h0M595.1 450.4h0M595.2 450.3h0M595.2 450.2h0M595.0 450.1h0M595.2 450.0h0M595.3 449.8h0M595.2 449.7h0M595.0 449.6h0M595.4 449.4h0M595.1 449.2h0M595.3 449.1h0M595.0 448.9h0M595.3 448.7h0M595.3 448.5h0M595.5 448.3h0M595.2 448.1h0M595.1 447.8h0M595.2 447.6h0M595.3 447.3h0M595.5 446.9h0M595.3 446.5h0M595.5 446.1h0M595.6 445.6h0M595.2 444.9h0M595.7 444.1h0M595.2 442.8h0M595.3 440.1h0M607.8 466.0h0M607.7 463.1h0M607.8 461.7h0M607.8 460.7h0M608.2 459.9h0M607.8 459.2h0M608.1 458.1h0M608.3 457.6h0M608.3 457.2h0M608.3 456.5h0M608.5 456.1h0M608.6 455.8h0M608.7 455.5h0M608.7 454.9h0M608.7 454.7h0M609.0 454.4h0M608.9 453.9h0M609.3 453.7h0M609.1 453.5h0M609.5 453.0h0M609.2 452.8h0M609.5 452.6h0M609.8 452.2h0M609.5 452.0h0M609.9 451.8h0M609.9 451.5h0M609.6 451.3h0M610.0 451.1h0M610.0 451.0h0M609.9 450.6h0M610.4 450.4h0M610.4 450.3h0M610.6 449.9h0M610.3 449.8h0M610.5 449.6h0M610.7 449.3h0M610.7 449.1h0M610.6 449.0h0M610.9 448.7h0M611.0 448.5h0M611.1 448.4h0M611.2 448.1h0M611.3 447.9h0M611.4 447.8h0M611.6 447.5h0M611.4 447.3h0M611.6 447.1h0M611.9 447.0h0M612.0 446.6h0M612.0 446.4h0M612.2 446.2h0M612.1 445.8h0M612.3 445.7h0M612.4 445.5h0M612.3 445.1h0M612.6 444.9h0M612.5 444.7h0M612.7 444.2h0M612.5 444.0h0M612.9 443.8h0M612.8 443.4h0M612.9 443.2h0M613.0 442.9h0M613.3 442.5h0M613.5 442.2h0M613.5 442.0h0M613.4 441.7h0M613.4 441.2h0M613.6 440.9h0M613.7 440.7h0M613.7 440.1h0M614.0 439.8h0M613.8 439.5h0M614.0 438.8h0M614.3 438.5h0M614.0 438.1h0M614.3 437.4h0M614.6 437.0h0M614.6 436.6h0M614.5 435.6h0M614.7 435.1h0M614.7 434.6h0M614.6 434.0h0M615.0 433.4h0M615.1 432.8h0M615.2 432.0h0M614.9 431.2h0M615.1 430.3h0M615.3 429.2h0M615.4 427.9h0M615.5 426.4h0M615.1 424.3h0M615.5 421.2h0M615.4 414.8h0M627.9 467.2h0M627.7 464.8h0M627.6 463.5h0M627.7 462.6h0M628.2 462.0h0M627.9 460.9h0M627.9 460.1h0M628.0 459.4h0M628.5 458.8h0M628.5 458.3h0M628.4 457.9h0M628.3 457.7h0M628.7 457.3h0M628.4 456.9h0M628.9 456.5h0M628.8 456.2h0M628.9 455.9h0M628.8 455.6h0M629.2 455.3h0M629.4 455.0h0M629.3 454.8h0M629.6 454.5h0M629.3 454.2h0M629.5 454.0h0M629.6 453.8h0M629.6 453.5h0M630.1 453.3h0M629.9 453.1h0M629.8 452.9h0M630.1 452.8h0M630.0 452.6h0M630.2 452.4h0M630.5 452.1h0M630.4 451.9h0M630.4 451.7h0M630.8 451.5h0M630.6 451.4h0M631.0 451.2h0M630.6 451.0h0M630.8 450.8h0M631.3 450.6h0M631.2 450.4h0M631.3 450.2h0M631.5 450.0h0M631.3 449.8h0M631.7 449.7h0M631.5 449.5h0M631.8 449.3h0M631.7 449.0h0M632.0 448.7h0M632.2 448.4h0M632.2 448.1h0M631.9 447.8h0M632.2 447.5h0M632.5 447.2h0M632.3 446.8h0M632.3 446.5h0M632.5 446.2h0M632.5 445.8h0M632.5 445.5h0M632.9 445.1h0M632.7 444.7h0M633.0 444.4h0M633.0 444.0h0M633.3 443.6h0M633.2 443.4h0M633.3 442.9h0M633.5 442.5h0M633.3 442.1h0M633.6 441.6h0M633.5 441.1h0M633.7 440.6h0M634.0 440.1h0M634.2 439.6h0M634.3 439.0h0M634.3 438.4h0M634.0 437.8h0M634.3 437.1h0M634.3 436.4h0M634.4 435.6h0M634.6 434.8h0M634.7 434.3h0M634.4 433.9h0M634.8 433.4h0M634.5 432.9h0M634.9 432.4h0M635.1 431.8h0M635.0 431.2h0M635.1 430.5h0M635.2 429.9h0M635.2 429.1h0M635.0 428.3h0M635.2 427.4h0M635.2 426.4h0M635.2 425.3h0M635.2 424.1h0M635.1 422.6h0M635.3 420.9h0M635.2 418.7h0M635.6 415.8h0M635.6 411.4h0M635.3 402.0h0M635.5 363.2h0M647.9 464.4h0M647.9 461.2h0M648.2 459.6h0M648.2 458.4h0M648.2 457.4h0M648.4 456.6h0M648.7 456.0h0M648.6 455.3h0M649.0 454.8h0M649.2 454.2h0M649.3 453.7h0M649.4 453.3h0M649.6 452.8h0M649.3 452.4h0M649.7 452.0h0M649.8 451.6h0M649.8 451.2h0M650.1 450.9h0M650.0 450.5h0M650.5 450.2h0M650.3 449.8h0M650.6 449.5h0M650.6 449.2h0M651.2 448.8h0M651.0 448.5h0M651.3 448.2h0M651.1 447.9h0M651.4 447.6h0M651.6 447.2h0M651.6 446.8h0M652.1 446.4h0M652.1 446.0h0M652.0 445.6h0M652.3 445.2h0M652.3 444.7h0M652.6 444.3h0M652.9 443.8h0M652.8 443.3h0M653.2 442.8h0M653.2 442.3h0M653.4 441.8h0M653.7 441.2h0M653.4 440.7h0M653.9 440.0h0M654.1 439.4h0M654.0 438.7h0M654.0 438.0h0M654.4 437.2h0M654.4 436.3h0M654.3 435.3h0M654.9 434.2h0M654.7 433.0h0M655.1 431.5h0M655.0 429.7h0M655.3 427.4h0M655.4 423.9h0M655.4 416.6h0M667.8 460.4h0M668.1 456.4h0M668.1 454.4h0M668.2 452.9h0M668.2 451.8h0M668.4 450.8h0M668.2 450.0h0M668.6 449.2h0M668.8 448.6h0M668.7 448.0h0M668.9 447.4h0M669.0 446.8h0M669.1 446.3h0M668.9 445.9h0M669.4 445.4h0M669.4 445.0h0M669.3 444.5h0M669.5 444.1h0M669.4 443.7h0M669.6 443.4h0M669.7 443.0h0M669.9 442.6h0M670.1 442.3h0M670.3 441.9h0M670.3 441.6h0M670.2 441.3h0M670.3 440.9h0M670.3 440.6h0M670.6 440.3h0M670.6 440.0h0M670.8 439.7h0M670.8 439.3h0M671.1 439.0h0M671.2 438.7h0M671.1 438.4h0M671.3 438.1h0M671.5 437.8h0M671.3 437.5h0M671.6 437.2h0M671.5 436.9h0M671.7 436.5h0M671.9 436.1h0M672.0 435.7h0M672.0 435.2h0M672.4 434.8h0M672.2 434.3h0M672.5 433.9h0M672.6 433.4h0M672.4 432.9h0M672.6 432.5h0M672.9 432.0h0M672.9 431.5h0M673.0 430.9h0M673.3 430.4h0M673.0 429.9h0M673.1 429.3h0M673.6 428.7h0M673.4 428.1h0M673.6 427.5h0M673.6 426.9h0M673.6 426.2h0M674.0 425.5h0M674.1 424.8h0M674.0 424.0h0M674.0 423.2h0M674.4 422.3h0M674.3 421.4h0M674.6 420.5h0M674.5 419.4h0M674.9 418.3h0M674.6 417.0h0M674.8 415.6h0M674.8 414.0h0M675.1 412.2h0M675.3 410.0h0M675.1 407.3h0M675.4 403.8h0M675.7 398.5h0M675.5 387.3h0" stroke="#ea6b6d" stroke-width="2.0" stroke-linecap="round" fill="none"/>
<path d="M46.7 476.9h0M47.1 474.8h0M47.0 473.7h0M47.3 472.9h0M47.4 472.3h0M47.3 471.4h0M47.6 471.0h0M47.4 470.3h0M47.3 470.1h0M47.6 469.8h0M47.5 469.3h0M47.6 469.1h0M47.9 468.6h0M48.0 468.5h0M47.9 468.1h0M47.9 467.9h0M48.4 467.7h0M48.2 467.4h0M48.6 467.2h0M48.7 466.9h0M48.5 466.8h0M48.7 466.5h0M48.8 466.4h0M48.9 466.2h0M49.0 466.0h0M49.0 465.9h0M49.2 465.6h0M49.4 465.5h0M49.3 465.2h0M49.3 465.1h0M49.5 465.0h0M49.4 464.8h0M49.5 464.7h0M50.0 464.4h0M49.8 464.3h0M49.9 464.1h0M49.7 464.0h0M50.0 463.9h0M50.2 463.7h0M50.0 463.5h0M50.4 463.3h0M50.5 463.2h0M50.3 463.0h0M50.7 462.9h0M50.6 462.8h0M50.9 462.6h0M50.8 462.5h0M51.1 462.3h0M51.1 462.2h0M50.9 462.1h0M51.0 461.9h0M51.4 461.8h0M51.6 461.6h0M51.3 461.4h0M51.6 461.2h0M51.7 461.1h0M51.6 461.0h0M51.8 460.8h0M51.8 460.6h0M51.9 460.4h0M52.1 460.3h0M52.1 460.0h0M52.2 459.9h0M52.5 459.8h0M52.2 459.5h0M52.5 459.4h0M52.7 459.1h0M52.6 458.9h0M52.7 458.6h0M53.0 458.5h0M52.8 458.3h0M52.9 458.0h0M53.1 457.8h0M53.3 457.4h0M53.1 457.2h0M53.3 456.8h0M53.4 456.6h0M53.7 456.4h0M53.6 455.9h0M53.9 455.6h0M53.6 455.4h0M53.8 455.1h0M54.0 454.8h0M54.2 454.4h0M54.0 454.1h0M54.0 453.7h0M54.0 453.3h0M54.2 452.8h0M54.1 452.3h0M54.5 451.7h0M54.6 451.0h0M54.3 450.2h0M54.4 449.2h0M54.7 447.9h0M54.7 445.9h0M54.9 441.6h0M67.1 467.5h0M67.1 466.4h0M67.5 465.7h0M67.6 465.3h0M68.3 464.9h0M68.5 464.6h0M68.9 464.3h0M69.1 464.0h0M69.3 463.8h0M69.7 463.5h0M69.9 463.3h0M69.9 463.1h0M70.5 462.9h0M70.5 462.6h0M70.8 462.4h0M71.4 462.0h0M71.3 461.6h0M71.6 461.2h0M71.9 460.8h0M72.6 460.4h0M72.6 459.9h0M72.8 459.4h0M73.5 458.8h0M73.4 458.2h0M74.0 457.4h0M74.3 456.3h0M74.6 454.9h0M75.0 451.9h0M86.8 470.7h0M87.2 469.6h0M87.0 469.1h0M87.2 468.7h0M87.3 467.8h0M87.1 467.4h0M87.4 467.1h0M87.5 466.8h0M87.7 466.5h0M87.5 466.3h0M87.8 466.1h0M88.0 465.9h0M87.9 465.7h0M88.0 465.5h0M87.8 465.4h0M88.1 465.3h0M88.1 465.1h0M88.4 465.0h0M88.5 464.9h0M88.5 464.7h0M88.4 464.6h0M88.7 464.5h0M88.8 464.4h0M88.6 464.3h0M89.1 464.2h0M89.1 464.1h0M88.9 464.0h0M89.4 463.9h0M89.1 463.8h0M89.3 463.7h0M89.5 463.6h0M89.5 463.5h0M89.6 463.4h0M89.8 463.3h0M89.7 463.3h0M89.8 463.2h0M89.8 463.1h0M89.8 463.0h0M90.2 462.9h0M90.4 462.8h0M90.3 462.7h0M90.5 462.7h0M90.4 462.6h0M90.5 462.5h0M90.6 462.4h0M90.9 462.3h0M90.6 462.3h0M90.9 462.1h0M90.9 462.0h0M91.2 461.9h0M91.1 461.8h0M91.2 461.6h0M91.3 461.5h0M91.5 461.4h0M91.7 461.3h0M91.5 461.1h0M91.9 461.0h0M91.6 460.8h0M91.8 460.7h0M91.8 460.5h0M91.9 460.4h0M92.3 460.3h0M92.4 460.1h0M92.2 459.9h0M92.2 459.8h0M92.4 459.6h0M92.7 459.4h0M92.8 459.2h0M92.9 459.1h0M92.9 458.9h0M92.8 458.7h0M93.0 458.5h0M92.9 458.3h0M93.2 458.1h0M93.3 457.8h0M93.2 457.6h0M93.3 457.4h0M93.7 457.1h0M93.4 456.8h0M93.9 456.5h0M94.0 456.2h0M94.1 455.9h0M93.9 455.5h0M94.0 455.3h0M94.1 455.2h0M94.1 455.1h0M94.3 454.9h0M94.2 454.8h0M94.1 454.7h0M94.4 454.5h0M94.2 454.3h0M94.3 454.2h0M94.4 454.0h0M94.0 453.8h0M94.4 453.6h0M94.4 453.4h0M94.4 453.2h0M94.4 453.0h0M94.4 452.8h0M94.3 452.5h0M94.5 452.2h0M94.3 451.9h0M94.5 451.6h0M94.6 451.3h0M94.6 450.9h0M94.6 450.4h0M94.9 449.9h0M94.9 449.2h0M94.5 448.5h0M94.9 447.4h0M94.8 445.9h0M94.5 442.6h0M106.9 465.0h0M107.7 464.0h0M108.5 463.4h0M108.8 463.0h0M109.7 462.6h0M110.4 462.3h0M111.1 461.9h0M111.6 461.3h0M112.4 460.6h0M112.8 459.8h0M113.5 458.8h0M114.0 457.5h0M114.9 455.0h0M127.1 471.3h0M128.0 470.8h0M128.7 470.5h0M129.8 470.3h0M131.2 470.0h0M131.8 469.6h0M132.9 469.2h0M133.8 468.6h0M135.0 467.5h0M147.2 476.9h0M147.1 475.3h0M147.3 474.6h0M147.3 474.0h0M147.4 473.6h0M147.0 472.5h0M147.2 471.7h0M147.2 471.1h0M147.5 470.7h0M147.5 470.4h0M147.4 470.0h0M147.8 469.7h0M147.6 469.4h0M147.8 469.1h0M147.9 468.9h0M148.3 468.6h0M148.2 468.4h0M148.2 468.2h0M148.1 468.0h0M148.4 467.8h0M148.6 467.6h0M148.7 467.5h0M148.9 467.3h0M149.0 467.1h0M148.8 466.9h0M148.8 466.8h0M149.2 466.6h0M149.3 466.5h0M149.3 466.3h0M149.5 466.2h0M149.5 466.0h0M149.4 465.9h0M149.4 465.8h0M149.4 465.6h0M149.8 465.5h0M150.1 465.4h0M150.1 465.2h0M150.0 465.1h0M150.2 465.0h0M150.4 464.8h0M150.5 464.7h0M150.4 464.6h0M150.4 464.5h0M150.6 464.4h0M150.5 464.2h0M150.6 464.1h0M150.9 464.0h0M151.2 463.8h0M151.0 463.7h0M151.0 463.6h0M151.1 463.5h0M151.2 463.4h0M151.5 463.3h0M151.4 463.1h0M151.7 463.0h0M151.4 462.9h0M151.6 462.8h0M151.8 462.7h0M151.8 462.5h0M152.1 462.4h0M152.2 462.3h0M152.4 462.1h0M152.3 462.0h0M152.1 461.8h0M152.4 461.7h0M152.5 461.6h0M152.6 461.4h0M152.5 461.3h0M152.9 461.1h0M153.0 461.0h0M152.7 460.8h0M153.1 460.6h0M153.0 460.4h0M153.2 460.2h0M153.5 460.0h0M153.6 459.8h0M153.5 459.7h0M153.4 459.4h0M153.8 459.2h0M153.6 458.9h0M153.7 458.7h0M154.1 458.4h0M153.9 458.1h0M154.0 457.7h0M154.4 457.3h0M154.4 457.1h0M154.1 457.0h0M154.2 456.9h0M154.2 456.8h0M154.1 456.7h0M154.2 456.6h0M154.6 456.4h0M154.2 456.3h0M154.2 456.2h0M154.3 456.0h0M154.2 455.9h0M154.5 455.7h0M154.6 455.5h0M154.7 455.4h0M154.6 455.2h0M154.7 455.0h0M154.3 454.8h0M154.5 454.5h0M154.8 454.3h0M154.4 454.0h0M154.5 453.7h0M154.7 453.4h0M154.6 453.1h0M154.7 452.7h0M154.5 452.2h0M154.6 451.6h0M155.0 450.9h0M154.6 450.0h0M155.0 448.6h0M154.7 445.7h0M167.3 476.9h0M166.9 476.1h0M167.4 475.7h0M167.3 475.4h0M167.0 475.2h0M167.2 474.6h0M167.2 474.2h0M167.2 473.9h0M167.8 473.7h0M167.6 473.4h0M167.9 473.3h0M167.6 473.1h0M167.6 473.0h0M168.1 472.8h0M168.2 472.7h0M168.4 472.6h0M168.3 472.5h0M168.3 472.3h0M168.5 472.2h0M168.3 472.2h0M168.6 472.0h0M168.6 471.9h0M168.6 471.9h0M168.9 471.8h0M168.8 471.7h0M169.0 471.6h0M169.0 471.5h0M169.1 471.4h0M169.2 471.4h0M169.4 471.3h0M169.7 471.2h0M169.8 471.1h0M169.8 471.1h0M169.9 471.0h0M169.7 470.9h0M170.1 470.9h0M169.9 470.8h0M169.9 470.7h0M170.1 470.7h0M170.4 470.6h0M170.3 470.5h0M170.5 470.5h0M170.4 470.4h0M170.8 470.3h0M170.7 470.3h0M170.8 470.2h0M170.9 470.1h0M171.1 470.1h0M171.3 470.0h0M171.1 469.8h0M171.2 469.7h0M171.3 469.6h0M171.2 469.5h0M171.4 469.3h0M171.7 469.2h0M171.8 469.1h0M171.5 468.9h0M172.0 468.8h0M171.9 468.6h0M172.2 468.5h0M172.0 468.4h0M172.0 468.2h0M172.3 468.0h0M172.5 467.9h0M172.4 467.7h0M172.7 467.5h0M172.7 467.3h0M172.6 467.2h0M172.7 467.0h0M172.9 466.8h0M172.9 466.6h0M173.0 466.3h0M173.2 466.2h0M173.4 465.9h0M173.3 465.7h0M173.2 465.4h0M173.3 465.1h0M173.5 464.9h0M173.7 464.5h0M173.6 464.2h0M173.6 463.8h0M173.8 463.5h0M173.9 463.1h0M173.9 462.6h0M174.2 462.0h0M174.4 461.9h0M174.2 461.7h0M174.4 461.6h0M174.4 461.4h0M174.5 461.2h0M174.5 461.1h0M174.3 460.9h0M174.5 460.7h0M174.2 460.5h0M174.6 460.3h0M174.4 460.1h0M174.5 459.8h0M174.7 459.6h0M174.4 459.3h0M174.4 459.0h0M174.7 458.7h0M174.6 458.4h0M174.4 458.1h0M174.4 457.7h0M174.6 457.3h0M174.4 456.8h0M174.9 456.3h0M174.6 455.7h0M174.6 455.1h0M174.7 454.3h0M174.8 453.4h0M174.8 452.2h0M174.9 450.6h0M174.9 448.1h0M174.9 442.6h0M187.2 476.9h0M187.1 474.8h0M187.3 473.7h0M187.2 473.0h0M187.1 471.5h0M187.4 470.3h0M187.6 469.6h0M187.5 469.0h0M187.6 468.5h0M187.9 468.0h0M187.8 467.5h0M187.9 467.2h0M188.0 466.8h0M188.2 466.5h0M188.0 466.2h0M188.1 465.9h0M188.5 465.6h0M188.4 465.3h0M188.4 465.1h0M188.8 464.9h0M188.9 464.6h0M188.8 464.4h0M189.1 464.2h0M189.1 464.0h0M189.1 463.8h0M189.0 463.5h0M189.0 463.3h0M189.4 463.1h0M189.5 462.9h0M189.4 462.8h0M189.6 462.5h0M189.7 462.4h0M189.6 462.2h0M189.9 462.0h0M189.9 461.9h0M190.0 461.6h0M189.9 461.5h0M190.2 461.3h0M190.2 461.2h0M190.5 461.0h0M190.3 460.8h0M190.5 460.6h0M190.5 460.5h0M190.6 460.3h0M190.8 460.2h0M190.7 460.0h0M190.7 459.8h0M191.0 459.7h0M191.0 459.6h0M191.2 459.4h0M191.2 459.3h0M191.2 459.2h0M191.5 459.1h0M191.8 459.0h0M191.9 458.9h0M191.8 458.8h0M191.8 458.7h0M191.7 458.6h0M191.9 458.4h0M192.0 458.3h0M192.4 458.2h0M192.1 458.1h0M192.6 457.9h0M192.4 457.8h0M192.5 457.6h0M192.5 457.5h0M193.0 457.4h0M192.6 457.3h0M192.9 457.1h0M193.0 456.9h0M192.9 456.8h0M193.0 456.6h0M193.5 456.5h0M193.5 456.3h0M193.5 456.1h0M193.7 455.9h0M193.4 455.7h0M193.8 455.5h0M193.9 455.3h0M193.7 455.0h0M193.9 454.8h0M194.3 454.5h0M194.0 454.3h0M194.3 454.2h0M194.0 454.1h0M194.3 454.0h0M194.1 453.9h0M194.3 453.7h0M194.2 453.6h0M194.5 453.5h0M194.5 453.4h0M194.4 453.3h0M194.5 453.1h0M194.4 453.0h0M194.6 452.9h0M194.4 452.7h0M194.5 452.5h0M194.6 452.4h0M194.5 452.2h0M194.4 452.0h0M194.4 451.8h0M194.7 451.6h0M194.5 451.3h0M194.8 451.0h0M194.7 450.7h0M195.0 450.4h0M194.9 450.0h0M194.9 449.5h0M194.8 449.0h0M194.6 448.2h0M194.9 447.1h0M195.0 444.7h0M207.4 476.9h0M207.0 474.3h0M207.0 473.0h0M207.4 472.1h0M207.3 470.8h0M207.5 469.9h0M207.5 469.1h0M207.7 468.2h0M207.5 467.7h0M207.8 467.2h0M207.9 466.6h0M208.2 466.2h0M207.8 465.8h0M207.9 465.5h0M208.3 465.0h0M208.5 464.7h0M208.3 464.5h0M208.6 464.1h0M208.6 463.8h0M208.6 463.6h0M208.7 463.2h0M208.9 463.0h0M208.6 462.7h0M208.9 462.4h0M209.2 462.2h0M209.0 462.0h0M209.2 461.7h0M209.2 461.5h0M209.3 461.3h0M209.6 461.1h0M209.7 460.8h0M209.9 460.6h0M209.7 460.5h0M209.7 460.2h0M209.9 460.0h0M209.8 459.8h0M210.0 459.6h0M210.2 459.4h0M210.3 459.2h0M210.3 459.0h0M210.3 458.8h0M210.3 458.6h0M210.5 458.4h0M210.7 458.2h0M210.7 458.0h0M211.1 457.8h0M211.0 457.6h0M211.0 457.5h0M211.1 457.3h0M211.0 457.2h0M211.5 457.0h0M211.5 456.9h0M211.5 456.7h0M211.7 456.6h0M211.6 456.4h0M211.7 456.2h0M211.7 456.1h0M211.8 455.9h0M212.1 455.7h0M212.2 455.6h0M212.3 455.4h0M212.1 455.2h0M212.5 455.0h0M212.5 454.9h0M212.5 454.6h0M212.7 454.5h0M212.7 454.3h0M212.7 454.1h0M212.9 453.8h0M213.1 453.7h0M213.2 453.5h0M213.4 453.2h0M213.1 453.0h0M213.5 452.7h0M213.6 452.4h0M213.6 452.2h0M213.9 451.9h0M213.5 451.5h0M213.9 451.3h0M214.1 451.0h0M213.8 450.5h0M214.1 450.3h0M214.3 450.2h0M214.0 450.0h0M214.3 449.8h0M214.4 449.6h0M214.2 449.4h0M214.1 449.2h0M214.2 449.0h0M214.5 448.7h0M214.3 448.5h0M214.3 448.2h0M214.4 447.9h0M214.7 447.6h0M214.4 447.3h0M214.3 447.0h0M214.8 446.6h0M214.5 446.2h0M214.6 445.7h0M214.9 445.2h0M214.6 444.6h0M214.6 443.9h0M215.0 443.0h0M214.7 441.8h0M214.8 440.0h0M215.2 436.3h0M227.3 473.8h0M227.1 471.7h0M227.4 470.5h0M227.7 469.7h0M228.1 469.1h0M227.9 468.5h0M228.3 468.0h0M228.2 467.6h0M228.8 467.2h0M228.8 466.8h0M229.0 466.5h0M229.2 466.1h0M229.2 465.8h0M229.6 465.5h0M229.9 465.2h0M230.1 464.9h0M230.0 464.6h0M230.1 464.4h0M230.3 464.1h0M230.8 463.8h0M230.8 463.6h0M230.9 463.3h0M231.2 463.1h0M231.4 462.9h0M231.4 462.7h0M231.6 462.4h0M232.0 462.2h0M232.2 462.0h0M232.1 461.8h0M232.2 461.5h0M232.8 461.3h0M232.9 461.0h0M233.0 460.8h0M233.1 460.5h0M233.6 460.2h0M233.5 459.8h0M233.6 459.5h0M233.7 459.0h0M234.0 458.6h0M234.3 458.0h0M234.4 457.4h0M234.8 456.6h0M234.9 455.3h0M234.9 452.9h0M247.2 476.0h0M247.2 472.7h0M247.5 471.0h0M247.7 469.8h0M247.6 468.8h0M248.2 468.0h0M248.3 467.3h0M248.5 466.6h0M248.5 466.1h0M248.6 465.5h0M248.9 465.0h0M248.7 464.5h0M248.9 464.1h0M249.0 463.6h0M249.1 463.2h0M249.6 462.8h0M249.4 462.4h0M249.9 462.0h0M249.8 461.6h0M250.2 461.3h0M250.3 460.9h0M250.4 460.5h0M250.7 460.2h0M250.4 459.8h0M250.7 459.5h0M250.9 459.1h0M251.1 458.8h0M251.3 458.6h0M251.6 458.4h0M251.7 458.1h0M251.9 457.9h0M251.9 457.7h0M251.9 457.4h0M252.1 457.2h0M252.4 456.9h0M252.6 456.7h0M252.5 456.4h0M252.7 456.1h0M253.0 455.9h0M252.9 455.5h0M253.4 455.2h0M253.1 454.9h0M253.6 454.5h0M253.6 454.1h0M253.6 453.7h0M254.0 453.3h0M254.1 452.7h0M254.5 452.2h0M254.6 451.5h0M254.6 450.6h0M254.9 449.6h0M255.0 448.0h0M254.8 444.7h0M267.2 476.9h0M267.1 474.6h0M267.3 473.4h0M267.7 472.5h0M267.5 471.9h0M267.5 470.9h0M267.6 470.4h0M267.9 470.0h0M267.8 469.7h0M268.2 469.4h0M267.9 469.1h0M268.4 468.8h0M268.3 468.5h0M268.5 468.3h0M268.4 467.8h0M268.3 467.5h0M268.5 467.3h0M268.8 467.1h0M268.6 466.9h0M268.7 466.7h0M269.1 466.5h0M269.2 466.3h0M269.3 466.2h0M269.4 465.8h0M269.4 465.6h0M269.6 465.5h0M269.6 465.3h0M269.6 465.1h0M269.6 465.0h0M269.5 464.8h0M269.6 464.7h0M269.8 464.5h0M270.0 464.2h0M269.9 464.0h0M270.5 463.9h0M270.3 463.7h0M270.5 463.6h0M270.6 463.4h0M270.4 463.3h0M270.8 463.2h0M270.9 463.0h0M270.7 462.7h0M270.7 462.6h0M271.2 462.4h0M271.3 462.3h0M271.3 462.1h0M271.2 462.0h0M271.4 461.8h0M271.2 461.6h0M271.4 461.2h0M271.6 461.0h0M271.8 460.8h0M271.6 460.6h0M272.1 460.4h0M271.7 460.2h0M272.3 460.0h0M272.0 459.8h0M272.3 459.5h0M272.5 459.1h0M272.6 458.9h0M272.5 458.6h0M272.7 458.4h0M272.6 458.1h0M272.9 457.9h0M272.6 457.6h0M273.1 457.3h0M273.0 457.0h0M272.9 456.5h0M273.4 456.1h0M273.2 455.8h0M273.2 455.5h0M273.3 455.1h0M273.3 454.8h0M273.5 454.4h0M273.8 454.0h0M274.0 453.6h0M274.0 452.6h0M274.2 452.1h0M274.2 451.6h0M274.3 451.0h0M274.2 450.3h0M274.2 449.6h0M274.2 448.9h0M274.5 448.0h0M274.4 447.0h0M274.7 445.8h0M274.6 444.4h0M274.8 442.7h0M274.9 440.3h0M275.0 436.7h0M274.8 428.8h0M287.4 476.9h0M287.2 474.1h0M287.3 472.6h0M287.5 471.5h0M288.0 470.7h0M287.8 470.0h0M288.0 469.3h0M288.1 468.8h0M288.3 468.3h0M288.4 467.8h0M288.8 467.4h0M288.6 467.0h0M288.8 466.6h0M289.1 466.2h0M289.0 465.9h0M289.1 465.5h0M289.5 465.2h0M289.4 464.9h0M289.8 464.6h0M289.9 464.2h0M289.8 463.9h0M289.9 463.7h0M290.0 463.4h0M290.5 463.1h0M290.4 462.8h0M290.5 462.5h0M290.5 462.2h0M290.7 462.0h0M291.1 461.7h0M290.9 461.4h0M291.2 461.2h0M291.4 460.9h0M291.5 460.7h0M291.6 460.5h0M291.7 460.2h0M291.7 460.0h0M292.2 459.7h0M292.3 459.4h0M292.3 459.2h0M292.3 458.9h0M292.7 458.6h0M292.5 458.3h0M292.6 458.0h0M293.0 457.7h0M293.2 457.3h0M293.2 457.0h0M293.1 456.6h0M293.7 456.2h0M293.4 455.8h0M293.6 455.3h0M294.1 454.9h0M294.1 454.3h0M294.3 453.7h0M294.0 453.0h0M294.6 452.3h0M294.5 451.4h0M294.4 450.2h0M294.9 448.8h0M295.1 446.6h0M294.8 441.9h0M307.3 457.5h0M307.3 455.9h0M307.7 455.1h0M307.7 454.5h0M307.7 454.0h0M307.6 453.6h0M307.9 453.2h0M308.0 452.9h0M308.1 452.6h0M308.1 452.4h0M308.4 452.1h0M308.4 451.9h0M308.8 451.7h0M308.8 451.5h0M308.8 451.3h0M309.1 451.1h0M309.1 450.9h0M309.0 450.8h0M309.2 450.6h0M309.2 450.4h0M309.5 450.3h0M309.9 450.1h0M310.0 449.9h0M310.0 449.8h0M309.8 449.6h0M310.0 449.5h0M310.1 449.4h0M310.3 449.2h0M310.5 449.1h0M310.3 448.9h0M310.7 448.8h0M310.7 448.7h0M311.0 448.5h0M311.2 448.4h0M311.1 448.2h0M311.3 448.1h0M311.2 447.9h0M311.4 447.6h0M311.6 447.4h0M311.5 447.2h0M311.8 447.0h0M311.9 446.8h0M311.9 446.5h0M312.0 446.3h0M312.4 446.1h0M312.3 445.8h0M312.3 445.6h0M312.5 445.3h0M312.7 445.1h0M312.8 444.8h0M312.9 444.6h0M313.0 444.3h0M313.0 444.0h0M313.3 443.7h0M313.4 443.4h0M313.3 443.0h0M313.7 442.7h0M313.6 442.3h0M314.1 441.9h0M314.2 441.5h0M313.9 441.1h0M314.3 440.6h0M314.2 440.0h0M314.2 439.4h0M314.7 438.7h0M314.8 437.9h0M314.9 436.9h0M314.9 435.7h0M315.2 433.8h0M315.1 430.1h0M327.4 476.9h0M327.2 474.3h0M327.3 473.0h0M327.3 472.1h0M327.6 470.8h0M327.5 469.9h0M327.5 469.1h0M327.7 468.2h0M327.9 467.7h0M327.8 467.2h0M328.1 466.6h0M328.3 466.2h0M328.2 465.8h0M328.4 465.5h0M328.3 465.0h0M328.6 464.7h0M328.7 464.5h0M328.6 464.1h0M328.5 463.8h0M328.6 463.6h0M329.0 463.2h0M329.2 463.0h0M329.2 462.7h0M329.2 462.4h0M329.3 462.2h0M329.1 462.0h0M329.5 461.7h0M329.8 461.5h0M329.4 461.3h0M329.7 461.1h0M329.9 460.8h0M329.9 460.6h0M329.8 460.5h0M329.9 460.2h0M330.2 460.0h0M330.4 459.8h0M330.5 459.6h0M330.3 459.4h0M330.6 459.2h0M330.7 459.0h0M330.6 458.8h0M330.8 458.6h0M330.8 458.4h0M330.8 458.2h0M330.7 458.0h0M331.2 457.8h0M331.3 457.6h0M331.0 457.5h0M331.1 457.3h0M331.3 457.2h0M331.4 457.0h0M331.7 456.9h0M331.5 456.7h0M331.8 456.6h0M331.9 456.4h0M331.9 456.2h0M332.2 456.1h0M332.1 455.9h0M332.2 455.7h0M332.4 455.6h0M332.3 455.4h0M332.3 455.2h0M332.8 455.0h0M332.8 454.9h0M332.8 454.6h0M332.8 454.5h0M333.0 454.3h0M332.9 454.1h0M332.9 453.8h0M333.2 453.7h0M333.5 453.5h0M333.2 453.2h0M333.7 453.0h0M333.5 452.7h0M333.9 452.4h0M333.8 452.2h0M333.7 451.9h0M333.8 451.5h0M334.2 451.3h0M334.3 451.0h0M334.3 450.5h0M334.2 450.3h0M334.3 450.2h0M334.4 450.0h0M334.5 449.8h0M334.5 449.6h0M334.3 449.4h0M334.6 449.2h0M334.7 449.0h0M334.5 448.7h0M334.3 448.5h0M334.4 448.2h0M334.7 447.9h0M334.6 447.6h0M334.9 447.3h0M334.8 447.0h0M334.9 446.6h0M334.6 446.2h0M334.9 445.7h0M335.0 445.2h0M335.1 444.6h0M335.2 443.9h0M334.9 443.0h0M335.0 441.8h0M335.3 440.0h0M334.9 436.3h0M347.3 474.7h0M347.4 473.9h0M347.6 473.5h0M347.4 473.2h0M347.3 473.0h0M347.5 472.8h0M347.9 472.5h0M347.6 472.3h0M347.9 472.1h0M347.8 471.9h0M347.9 471.8h0M348.2 471.7h0M348.0 471.6h0M348.3 471.4h0M348.4 471.4h0M348.4 471.3h0M348.7 471.1h0M348.8 471.0h0M348.6 470.9h0M348.9 470.9h0M349.0 470.8h0M349.0 470.7h0M349.1 470.6h0M349.2 470.5h0M349.4 470.5h0M349.4 470.4h0M349.3 470.3h0M349.6 470.3h0M349.7 470.2h0M349.7 470.2h0M350.0 470.1h0M349.8 470.0h0M350.0 469.9h0M350.1 469.9h0M350.2 469.8h0M350.1 469.8h0M350.4 469.7h0M350.2 469.6h0M350.5 469.6h0M350.5 469.5h0M350.8 469.5h0M350.9 469.4h0M351.1 469.4h0M350.8 469.3h0M351.2 469.2h0M351.1 469.2h0M351.2 469.1h0M351.0 469.1h0M351.5 468.9h0M351.3 468.8h0M351.4 468.7h0M351.6 468.6h0M351.6 468.5h0M351.7 468.4h0M351.8 468.3h0M352.0 468.1h0M352.0 468.1h0M352.3 467.9h0M352.5 467.8h0M352.6 467.7h0M352.4 467.5h0M352.6 467.5h0M352.7 467.3h0M352.8 467.2h0M352.7 467.0h0M352.7 466.8h0M353.1 466.8h0M353.1 466.6h0M353.0 466.4h0M353.3 466.2h0M353.1 466.1h0M353.5 465.9h0M353.7 465.7h0M353.8 465.5h0M353.5 465.3h0M353.8 465.2h0M354.0 464.9h0M353.7 464.7h0M354.1 464.4h0M353.9 464.1h0M354.0 463.9h0M354.0 463.7h0M354.1 463.6h0M354.5 463.4h0M354.4 463.2h0M354.5 463.0h0M354.7 462.8h0M354.3 462.5h0M354.7 462.3h0M354.8 462.0h0M354.7 461.7h0M354.6 461.4h0M354.6 461.0h0M354.8 460.6h0M354.8 460.1h0M354.8 459.6h0M355.0 459.0h0M355.1 458.2h0M354.9 457.1h0M354.9 455.5h0M355.1 451.9h0M367.6 476.9h0M367.5 475.0h0M367.6 474.1h0M367.2 473.4h0M367.5 472.9h0M367.4 471.5h0M367.8 470.6h0M367.7 469.9h0M367.9 469.5h0M368.0 469.0h0M367.8 468.5h0M367.9 468.1h0M368.3 467.8h0M368.4 467.4h0M368.3 467.1h0M368.2 466.8h0M368.3 466.6h0M368.7 466.4h0M368.8 466.1h0M368.7 465.9h0M368.9 465.6h0M369.1 465.4h0M368.8 465.2h0M369.2 465.0h0M369.4 464.8h0M369.5 464.6h0M369.6 464.4h0M369.4 464.3h0M369.6 464.1h0M369.4 463.9h0M369.9 463.7h0M369.9 463.5h0M369.9 463.4h0M369.8 463.2h0M369.9 463.0h0M370.1 462.9h0M370.5 462.7h0M370.3 462.6h0M370.6 462.4h0M370.4 462.3h0M370.5 462.1h0M370.6 461.9h0M370.7 461.8h0M371.0 461.6h0M370.9 461.5h0M370.9 461.4h0M371.2 461.2h0M371.2 461.1h0M371.5 460.9h0M371.5 460.8h0M371.7 460.7h0M371.5 460.5h0M371.6 460.4h0M371.7 460.3h0M372.1 460.2h0M372.1 460.0h0M372.0 459.9h0M372.1 459.7h0M372.0 459.6h0M372.5 459.5h0M372.4 459.3h0M372.4 459.2h0M372.4 459.1h0M372.6 458.9h0M372.8 458.7h0M372.7 458.6h0M372.8 458.4h0M373.0 458.2h0M373.1 458.1h0M372.9 457.9h0M373.0 457.8h0M373.3 457.6h0M373.5 457.4h0M373.4 457.2h0M373.3 456.9h0M373.5 456.7h0M373.6 456.5h0M374.0 456.2h0M373.8 456.0h0M374.3 455.8h0M374.0 455.5h0M374.0 455.2h0M374.0 454.8h0M374.4 454.5h0M374.5 454.1h0M374.6 453.9h0M374.6 453.7h0M374.6 453.6h0M374.4 453.5h0M374.8 453.4h0M374.5 453.2h0M374.5 453.1h0M374.5 453.0h0M374.7 452.8h0M374.8 452.7h0M374.6 452.5h0M374.6 452.3h0M374.5 452.2h0M374.8 452.0h0M374.9 451.8h0M374.7 451.6h0M374.7 451.4h0M375.0 451.1h0M375.0 450.9h0M374.8 450.6h0M375.2 450.3h0M375.1 450.0h0M375.1 449.6h0M374.9 449.2h0M375.3 448.7h0M375.0 448.1h0M375.2 447.4h0M375.4 446.4h0M375.3 445.0h0M375.0 441.9h0M387.5 476.6h0M387.3 474.7h0M387.2 473.8h0M387.7 473.1h0M387.2 472.6h0M387.5 471.3h0M387.7 470.6h0M388.0 469.8h0M387.8 469.2h0M387.8 468.7h0M387.9 468.3h0M388.0 468.0h0M388.0 467.6h0M388.5 467.3h0M388.4 467.0h0M388.5 466.8h0M388.4 466.5h0M388.7 466.2h0M388.9 466.0h0M388.7 465.7h0M389.1 465.6h0M388.9 465.3h0M389.2 465.1h0M389.4 464.9h0M389.2 464.7h0M389.5 464.6h0M389.4 464.4h0M389.5 464.2h0M389.8 464.0h0M389.7 463.9h0M389.5 463.7h0M389.7 463.5h0M390.0 463.3h0M389.9 463.2h0M389.9 463.0h0M390.3 462.9h0M390.2 462.7h0M390.6 462.5h0M390.4 462.4h0M390.4 462.3h0M390.6 462.1h0M390.9 461.9h0M391.0 461.8h0M390.9 461.7h0M390.9 461.5h0M391.1 461.3h0M391.0 461.2h0M391.2 461.0h0M391.1 460.9h0M391.2 460.8h0M391.7 460.7h0M391.7 460.5h0M391.6 460.4h0M391.8 460.3h0M391.6 460.2h0M392.1 460.0h0M392.1 459.9h0M392.2 459.8h0M392.2 459.6h0M392.3 459.5h0M392.5 459.3h0M392.4 459.2h0M392.3 459.1h0M392.5 458.9h0M392.9 458.7h0M392.7 458.6h0M392.7 458.4h0M393.0 458.3h0M392.9 458.1h0M393.1 457.9h0M393.4 457.7h0M393.2 457.6h0M393.4 457.4h0M393.7 457.1h0M393.8 456.9h0M393.9 456.7h0M393.5 456.5h0M394.1 456.3h0M394.0 456.0h0M393.9 455.7h0M394.4 455.4h0M394.0 455.2h0M394.6 454.8h0M394.2 454.4h0M394.3 454.0h0M394.5 453.9h0M394.6 453.8h0M394.6 453.7h0M394.7 453.6h0M394.4 453.4h0M394.7 453.3h0M394.6 453.2h0M394.9 453.0h0M394.8 452.9h0M394.8 452.7h0M394.6 452.6h0M395.0 452.4h0M394.7 452.2h0M394.7 452.0h0M394.8 451.8h0M395.0 451.6h0M394.8 451.4h0M394.9 451.2h0M395.0 450.9h0M394.8 450.6h0M394.8 450.3h0M395.0 450.0h0M395.1 449.6h0M395.1 449.2h0M394.9 448.7h0M395.2 448.1h0M395.3 447.4h0M395.2 446.4h0M395.0 445.0h0M395.0 441.9h0M417.4 464.4h0M417.3 463.6h0M417.7 463.2h0M417.6 462.9h0M418.0 462.6h0M418.0 462.4h0M417.8 462.3h0M418.2 462.1h0M418.2 462.0h0M418.2 461.9h0M418.5 461.7h0M418.3 461.6h0M418.3 461.5h0M418.4 461.4h0M418.7 461.3h0M418.7 461.2h0M418.7 461.2h0M418.7 461.1h0M419.2 461.0h0M419.0 460.9h0M419.4 460.9h0M419.5 460.8h0M419.6 460.7h0M419.4 460.6h0M419.8 460.6h0M419.7 460.5h0M419.9 460.4h0M420.1 460.4h0M419.9 460.3h0M420.0 460.3h0M420.3 460.2h0M420.1 460.1h0M420.1 460.1h0M420.2 460.0h0M420.5 460.0h0M420.5 459.9h0M420.9 459.8h0M420.5 459.8h0M420.8 459.7h0M421.0 459.7h0M421.1 459.6h0M421.3 459.6h0M421.3 459.5h0M421.5 459.4h0M421.6 459.4h0M421.6 459.3h0M421.6 459.2h0M421.6 459.1h0M421.8 459.0h0M421.7 458.9h0M421.8 458.7h0M422.0 458.6h0M422.1 458.5h0M422.1 458.4h0M422.1 458.3h0M422.6 458.2h0M422.4 458.1h0M422.5 458.0h0M422.6 457.9h0M422.7 457.7h0M423.0 457.6h0M423.1 457.5h0M423.0 457.4h0M423.3 457.2h0M423.1 457.1h0M423.2 457.0h0M423.3 456.8h0M423.7 456.7h0M423.3 456.5h0M423.5 456.4h0M423.8 456.2h0M423.7 456.0h0M423.7 455.9h0M423.9 455.7h0M424.0 455.5h0M424.1 455.3h0M424.1 455.0h0M424.3 454.8h0M424.3 454.5h0M424.4 454.3h0M424.6 454.0h0M424.6 453.6h0M424.6 453.2h0M425.1 452.7h0M425.2 452.2h0M425.0 451.4h0M425.2 450.4h0M425.0 448.2h0M437.2 476.6h0M437.5 475.7h0M437.7 475.3h0M437.4 475.0h0M437.6 474.7h0M437.7 474.4h0M437.8 474.1h0M437.7 473.8h0M437.8 473.7h0M437.8 473.5h0M438.1 473.4h0M438.5 473.2h0M438.2 473.1h0M438.6 472.9h0M438.6 472.8h0M438.8 472.7h0M438.9 472.6h0M438.6 472.5h0M438.8 472.4h0M439.1 472.3h0M439.1 472.2h0M439.3 472.1h0M439.0 472.1h0M439.5 472.0h0M439.3 471.9h0M439.6 471.8h0M439.6 471.7h0M439.6 471.6h0M439.8 471.6h0M439.6 471.5h0M440.1 471.4h0M440.2 471.4h0M440.1 471.3h0M440.2 471.2h0M440.4 471.2h0M440.3 471.1h0M440.3 471.0h0M440.6 470.9h0M440.9 470.9h0M440.9 470.8h0M441.0 470.7h0M440.7 470.7h0M440.9 470.6h0M440.9 470.6h0M441.2 470.5h0M441.4 470.4h0M441.4 470.4h0M441.4 470.3h0M441.5 470.2h0M441.4 470.0h0M441.6 469.9h0M442.0 469.8h0M442.1 469.7h0M442.0 469.6h0M442.1 469.5h0M442.0 469.4h0M441.9 469.2h0M442.0 469.1h0M442.1 469.0h0M442.3 468.8h0M442.8 468.7h0M442.7 468.5h0M442.6 468.4h0M442.6 468.2h0M442.6 468.1h0M442.7 468.0h0M442.9 467.8h0M443.1 467.6h0M443.1 467.4h0M443.2 467.2h0M443.5 467.0h0M443.3 466.8h0M443.4 466.6h0M443.8 466.4h0M443.7 466.1h0M443.9 466.0h0M443.8 465.8h0M444.1 465.5h0M443.9 465.2h0M444.1 464.8h0M444.5 464.5h0M444.2 464.3h0M444.5 464.1h0M444.3 463.9h0M444.3 463.7h0M444.5 463.5h0M444.6 463.2h0M444.4 463.0h0M444.7 462.7h0M444.7 462.4h0M444.7 462.1h0M444.9 461.7h0M445.0 461.3h0M444.8 460.9h0M444.8 460.4h0M445.1 459.8h0M445.2 459.2h0M445.1 458.4h0M445.2 457.4h0M445.1 456.1h0M445.3 454.0h0M445.3 449.4h0M457.4 460.4h0M461.6 459.7h0M465.4 459.1h0M477.7 467.5h0M477.4 466.3h0M477.6 465.7h0M477.5 465.2h0M477.7 464.6h0M478.1 464.1h0M478.1 463.9h0M478.3 463.6h0M478.2 463.3h0M478.2 463.0h0M478.1 462.9h0M478.4 462.6h0M478.7 462.4h0M478.5 462.3h0M478.8 462.2h0M478.7 462.0h0M479.0 461.9h0M478.8 461.7h0M479.2 461.6h0M478.9 461.4h0M479.0 461.3h0M479.3 461.2h0M479.5 461.1h0M479.5 461.0h0M479.5 460.9h0M479.7 460.7h0M479.5 460.7h0M479.7 460.5h0M479.8 460.4h0M479.9 460.3h0M479.8 460.2h0M480.0 460.1h0M480.3 460.0h0M480.4 460.0h0M480.3 459.8h0M480.6 459.7h0M480.5 459.7h0M480.8 459.6h0M480.5 459.5h0M481.0 459.4h0M481.1 459.3h0M481.1 459.2h0M481.2 459.1h0M481.4 459.0h0M481.1 458.9h0M481.2 458.8h0M481.4 458.7h0M481.7 458.6h0M481.7 458.4h0M481.7 458.3h0M481.8 458.1h0M481.9 457.9h0M482.2 457.7h0M481.8 457.6h0M482.2 457.4h0M482.1 457.2h0M482.5 457.1h0M482.3 456.9h0M482.7 456.7h0M482.5 456.6h0M482.7 456.3h0M482.8 456.1h0M483.1 456.0h0M482.9 455.7h0M483.0 455.5h0M483.1 455.2h0M483.1 455.1h0M483.5 454.9h0M483.3 454.6h0M483.3 454.4h0M483.4 454.1h0M483.8 453.8h0M483.9 453.7h0M483.9 453.4h0M484.1 453.0h0M483.9 452.6h0M484.3 452.4h0M484.3 452.0h0M484.1 451.6h0M484.1 451.4h0M484.3 451.1h0M484.4 450.9h0M484.5 450.6h0M484.7 450.3h0M484.5 450.0h0M484.5 449.7h0M484.6 449.3h0M484.6 449.0h0M484.8 448.6h0M484.9 448.1h0M484.8 447.7h0M484.8 447.1h0M485.1 446.5h0M484.9 445.8h0M485.3 445.0h0M485.2 444.0h0M485.1 442.6h0M485.0 440.6h0M485.5 436.3h0M497.7 476.6h0M497.4 475.1h0M497.7 474.3h0M497.4 473.8h0M497.4 473.4h0M497.7 472.5h0M497.7 471.7h0M497.9 471.2h0M497.8 470.7h0M498.3 470.4h0M498.1 470.0h0M498.2 469.8h0M498.3 469.5h0M498.6 469.2h0M498.3 469.0h0M498.8 468.7h0M498.5 468.6h0M499.0 468.3h0M498.8 468.2h0M499.0 468.0h0M498.9 467.8h0M499.3 467.6h0M499.1 467.4h0M499.4 467.3h0M499.5 467.1h0M499.7 467.0h0M499.8 466.8h0M499.8 466.7h0M499.6 466.5h0M500.0 466.4h0M499.7 466.3h0M500.2 466.1h0M500.3 466.0h0M500.0 465.9h0M500.0 465.8h0M500.5 465.6h0M500.4 465.5h0M500.6 465.4h0M500.8 465.2h0M500.9 465.1h0M500.8 465.0h0M501.0 464.9h0M501.2 464.8h0M501.2 464.6h0M501.1 464.5h0M501.4 464.4h0M501.3 464.3h0M501.6 464.1h0M501.4 464.0h0M501.6 463.9h0M501.4 463.8h0M501.6 463.7h0M502.1 463.6h0M501.9 463.5h0M502.1 463.3h0M502.1 463.2h0M502.3 463.1h0M502.3 463.0h0M502.2 462.8h0M502.3 462.7h0M502.6 462.6h0M502.5 462.4h0M502.9 462.3h0M502.6 462.1h0M502.9 462.0h0M503.2 461.8h0M503.2 461.7h0M503.0 461.5h0M503.1 461.4h0M503.4 461.2h0M503.4 461.0h0M503.3 460.9h0M503.4 460.7h0M503.8 460.5h0M503.5 460.3h0M503.7 460.1h0M504.2 459.9h0M503.9 459.6h0M504.3 459.4h0M504.0 459.1h0M504.1 458.9h0M504.2 458.6h0M504.6 458.3h0M504.6 457.9h0M504.8 457.6h0M504.8 457.5h0M504.8 457.4h0M504.5 457.2h0M504.7 457.1h0M504.5 457.0h0M504.9 456.9h0M504.7 456.7h0M504.8 456.6h0M505.0 456.4h0M505.1 456.3h0M505.0 456.1h0M504.9 455.9h0M505.1 455.8h0M505.1 455.6h0M504.9 455.4h0M505.0 455.1h0M505.3 454.9h0M505.3 454.6h0M505.3 454.4h0M505.1 454.1h0M505.0 453.7h0M505.4 453.4h0M505.0 453.0h0M505.3 452.5h0M505.2 451.9h0M505.4 451.2h0M505.2 450.2h0M505.3 448.8h0M505.5 445.7h0M517.4 464.4h0M525.4 463.8h0M537.5 468.5h0M537.8 467.3h0M537.5 466.7h0M537.6 466.3h0M537.6 465.5h0M537.9 464.4h0M538.0 463.9h0M537.7 463.4h0M538.0 463.1h0M538.3 462.7h0M538.2 462.5h0M538.5 462.2h0M538.3 462.0h0M538.5 461.8h0M538.4 461.6h0M538.8 461.4h0M538.7 461.2h0M539.0 461.0h0M539.0 460.9h0M538.9 460.7h0M539.3 460.6h0M539.0 460.4h0M539.5 460.3h0M539.5 460.2h0M539.3 460.1h0M539.6 459.9h0M539.5 459.8h0M539.7 459.7h0M540.0 459.6h0M539.9 459.4h0M540.0 459.3h0M539.8 459.2h0M539.9 459.1h0M540.2 459.0h0M540.3 458.9h0M540.6 458.8h0M540.5 458.7h0M540.8 458.6h0M540.7 458.5h0M541.0 458.4h0M540.8 458.3h0M540.7 458.2h0M541.1 458.1h0M541.2 458.0h0M541.0 457.9h0M541.1 457.8h0M541.4 457.7h0M541.7 457.6h0M541.6 457.5h0M541.6 457.3h0M541.8 457.2h0M541.7 457.1h0M541.8 456.9h0M541.8 456.8h0M542.2 456.7h0M541.9 456.5h0M542.3 456.4h0M542.1 456.2h0M542.2 456.1h0M542.6 455.9h0M542.8 455.8h0M542.7 455.6h0M543.0 455.5h0M543.0 455.3h0M543.0 455.1h0M543.1 455.0h0M542.9 454.8h0M543.0 454.6h0M543.4 454.4h0M543.3 454.2h0M543.7 454.1h0M543.4 453.8h0M543.5 453.6h0M543.6 453.4h0M544.0 453.2h0M543.9 453.0h0M543.9 452.7h0M543.9 452.5h0M544.2 452.2h0M544.0 451.9h0M544.5 451.6h0M544.3 451.3h0M544.6 451.0h0M544.8 450.6h0M544.6 450.2h0M544.8 449.7h0M545.0 449.2h0M544.9 448.5h0M544.9 448.3h0M545.2 448.2h0M544.9 448.1h0M545.1 448.0h0M544.8 447.9h0M545.1 447.7h0M545.3 447.6h0M545.0 447.4h0M545.2 447.3h0M545.0 447.1h0M545.1 447.0h0M545.1 446.8h0M545.4 446.6h0M545.1 446.5h0M545.0 446.3h0M545.2 446.1h0M545.3 445.8h0M545.3 445.6h0M545.2 445.3h0M545.2 445.1h0M545.4 444.7h0M545.2 444.4h0M545.2 444.0h0M545.2 443.6h0M545.1 443.1h0M545.2 442.5h0M545.4 441.8h0M545.3 440.8h0M545.4 439.4h0M545.3 436.3h0M557.5 476.6h0M557.6 475.2h0M557.5 474.5h0M557.5 474.1h0M557.7 473.4h0M558.1 472.9h0M558.2 472.5h0M557.9 472.0h0M558.2 471.7h0M558.3 471.3h0M558.3 471.1h0M558.6 470.9h0M558.3 470.6h0M558.5 470.5h0M558.5 470.3h0M559.0 470.1h0M559.0 469.9h0M558.9 469.8h0M558.8 469.6h0M559.3 469.5h0M559.3 469.3h0M559.5 469.2h0M559.6 469.0h0M559.6 468.9h0M559.6 468.8h0M559.8 468.6h0M559.6 468.5h0M560.0 468.4h0M559.8 468.3h0M560.0 468.1h0M560.3 468.0h0M559.9 467.9h0M560.2 467.8h0M560.5 467.7h0M560.4 467.6h0M560.7 467.5h0M560.7 467.4h0M560.6 467.2h0M560.8 467.2h0M560.8 467.1h0M561.1 466.9h0M561.2 466.8h0M561.1 466.8h0M561.0 466.6h0M561.5 466.5h0M561.2 466.5h0M561.6 466.3h0M561.7 466.2h0M561.7 466.1h0M561.5 466.0h0M561.8 466.0h0M561.7 465.8h0M561.8 465.8h0M561.9 465.7h0M562.0 465.6h0M562.3 465.5h0M562.5 465.4h0M562.4 465.3h0M562.8 465.2h0M562.4 465.1h0M562.6 464.9h0M562.7 464.9h0M562.9 464.7h0M563.1 464.6h0M562.9 464.5h0M563.1 464.4h0M563.2 464.3h0M563.2 464.1h0M563.2 464.0h0M563.6 463.9h0M563.3 463.7h0M563.6 463.6h0M563.6 463.4h0M563.8 463.2h0M564.0 463.1h0M564.2 463.0h0M564.3 462.7h0M564.3 462.6h0M564.2 462.4h0M564.1 462.1h0M564.3 461.9h0M564.7 461.8h0M564.5 461.7h0M564.5 461.6h0M564.5 461.5h0M564.6 461.4h0M564.5 461.3h0M564.6 461.1h0M564.7 461.0h0M564.8 460.9h0M564.6 460.7h0M564.7 460.6h0M564.7 460.4h0M564.9 460.2h0M565.1 460.0h0M565.2 459.8h0M565.0 459.6h0M565.1 459.4h0M565.3 459.1h0M565.2 458.8h0M565.2 458.5h0M565.1 458.1h0M565.4 457.6h0M565.4 457.1h0M565.3 456.3h0M565.5 455.2h0M565.3 452.9h0M577.5 463.2h0M577.7 462.3h0M577.5 461.8h0M577.6 461.5h0M577.9 461.3h0M578.0 460.9h0M578.0 460.8h0M578.1 460.5h0M578.2 460.3h0M578.2 460.1h0M578.3 459.9h0M578.7 459.8h0M578.3 459.7h0M578.7 459.5h0M578.5 459.4h0M578.7 459.3h0M578.7 459.2h0M578.8 459.1h0M579.1 459.0h0M578.9 458.9h0M579.2 458.8h0M579.4 458.7h0M579.5 458.6h0M579.3 458.5h0M579.6 458.4h0M579.6 458.4h0M579.9 458.3h0M580.0 458.2h0M580.0 458.1h0M580.2 458.1h0M580.1 458.0h0M580.4 458.0h0M580.4 457.9h0M580.6 457.8h0M580.3 457.7h0M580.7 457.7h0M580.7 457.6h0M580.8 457.5h0M581.0 457.5h0M580.8 457.4h0M580.8 457.3h0M581.1 457.3h0M581.0 457.2h0M581.5 457.1h0M581.5 457.1h0M581.4 457.0h0M581.7 457.0h0M581.7 456.9h0M581.9 456.8h0M581.8 456.7h0M581.7 456.6h0M582.2 456.5h0M581.9 456.5h0M581.9 456.4h0M582.4 456.3h0M582.4 456.2h0M582.6 456.1h0M582.3 456.0h0M582.8 455.9h0M582.8 455.8h0M582.8 455.7h0M582.6 455.6h0M583.1 455.5h0M582.9 455.4h0M582.9 455.3h0M583.1 455.2h0M583.5 455.1h0M583.3 455.0h0M583.4 454.9h0M583.7 454.8h0M583.7 454.7h0M583.6 454.5h0M583.7 454.4h0M583.9 454.3h0M584.0 454.1h0M584.2 454.0h0M584.2 453.9h0M584.1 453.7h0M584.5 453.5h0M584.6 453.4h0M584.5 453.2h0M584.4 453.1h0M584.6 452.9h0M584.8 452.8h0M584.6 452.7h0M584.7 452.6h0M584.9 452.4h0M585.0 452.3h0M585.1 452.2h0M584.9 452.0h0M585.1 451.8h0M584.9 451.6h0M584.9 451.4h0M585.2 451.2h0M585.0 450.9h0M585.4 450.7h0M585.2 450.3h0M585.2 449.9h0M585.5 449.3h0M585.2 448.5h0M585.7 446.9h0M597.5 467.2h0M597.9 465.8h0M598.0 465.0h0M597.6 464.5h0M597.8 464.1h0M598.1 463.1h0M598.1 462.5h0M597.9 461.9h0M598.1 461.5h0M598.4 461.1h0M598.5 460.8h0M598.4 460.5h0M598.5 460.2h0M598.4 460.0h0M598.6 459.7h0M598.9 459.6h0M598.6 459.3h0M598.8 459.1h0M599.0 458.9h0M598.8 458.8h0M599.0 458.6h0M599.4 458.4h0M599.2 458.3h0M599.4 458.1h0M599.7 458.0h0M599.6 457.8h0M599.8 457.7h0M599.6 457.5h0M599.9 457.4h0M600.0 457.3h0M600.0 457.1h0M600.1 457.0h0M600.0 456.9h0M600.4 456.8h0M600.3 456.6h0M600.6 456.5h0M600.5 456.4h0M600.9 456.3h0M600.7 456.2h0M601.0 456.0h0M600.9 455.9h0M600.9 455.8h0M601.1 455.7h0M601.1 455.6h0M601.3 455.4h0M601.3 455.3h0M601.3 455.2h0M601.8 455.1h0M601.9 455.0h0M601.7 454.8h0M601.8 454.8h0M602.0 454.6h0M602.0 454.5h0M602.0 454.4h0M602.2 454.2h0M602.4 454.1h0M602.1 454.0h0M602.4 453.8h0M602.3 453.7h0M602.6 453.6h0M602.4 453.5h0M602.7 453.3h0M602.7 453.2h0M602.9 453.0h0M603.3 452.9h0M603.0 452.7h0M603.1 452.6h0M603.5 452.4h0M603.2 452.3h0M603.3 452.1h0M603.5 451.9h0M603.7 451.7h0M603.6 451.6h0M603.7 451.4h0M603.7 451.2h0M603.9 451.0h0M604.0 450.7h0M604.2 450.6h0M604.2 450.3h0M604.4 450.1h0M604.6 449.8h0M604.4 449.6h0M604.7 449.3h0M604.8 448.9h0M605.0 448.5h0M604.9 448.4h0M604.9 448.3h0M604.9 448.2h0M604.8 448.1h0M605.1 448.0h0M604.8 447.9h0M604.9 447.8h0M604.8 447.6h0M605.0 447.5h0M605.2 447.4h0M605.1 447.2h0M604.8 447.1h0M605.3 446.9h0M604.9 446.7h0M605.0 446.6h0M605.1 446.4h0M604.9 446.2h0M605.4 446.0h0M605.3 445.8h0M605.5 445.5h0M605.3 445.3h0M605.3 445.0h0M605.2 444.6h0M605.3 444.3h0M605.4 443.8h0M605.6 443.3h0M605.3 442.7h0M605.5 441.9h0M605.5 440.7h0M605.3 438.2h0M617.5 476.9h0M617.7 476.1h0M617.5 475.7h0M617.7 475.4h0M617.8 475.2h0M617.8 474.6h0M617.9 474.2h0M618.1 473.9h0M618.2 473.7h0M618.1 473.5h0M618.2 473.3h0M618.3 473.1h0M618.3 473.0h0M618.6 472.8h0M618.9 472.7h0M618.6 472.6h0M619.0 472.5h0M618.9 472.3h0M619.0 472.2h0M619.3 472.1h0M619.2 472.0h0M619.3 472.0h0M619.6 471.9h0M619.3 471.8h0M619.5 471.7h0M619.6 471.6h0M619.7 471.5h0M619.8 471.4h0M620.0 471.4h0M619.9 471.3h0M620.3 471.2h0M620.4 471.1h0M620.4 471.1h0M620.4 471.0h0M620.6 470.9h0M620.3 470.9h0M620.7 470.8h0M620.7 470.7h0M620.7 470.7h0M621.0 470.6h0M620.9 470.5h0M621.2 470.5h0M620.9 470.4h0M621.1 470.3h0M621.3 470.3h0M621.2 470.2h0M621.3 470.1h0M621.7 470.1h0M621.5 470.0h0M621.6 469.8h0M621.9 469.7h0M622.1 469.6h0M622.1 469.5h0M622.2 469.3h0M622.1 469.2h0M622.5 469.1h0M622.5 468.9h0M622.6 468.8h0M622.6 468.6h0M622.5 468.4h0M622.7 468.3h0M622.7 468.2h0M622.9 468.0h0M622.8 467.8h0M622.9 467.6h0M623.2 467.5h0M623.0 467.3h0M623.2 467.1h0M623.4 466.9h0M623.5 466.7h0M623.7 466.5h0M623.9 466.3h0M623.8 466.0h0M623.9 465.8h0M623.9 465.5h0M624.1 465.3h0M624.0 465.0h0M624.4 464.7h0M624.3 464.4h0M624.3 464.0h0M624.4 463.7h0M624.7 463.3h0M624.4 462.8h0M625.0 462.3h0M624.9 461.8h0M624.8 461.6h0M624.8 461.4h0M624.8 461.3h0M624.8 461.1h0M625.0 460.9h0M625.0 460.7h0M625.0 460.6h0M624.9 460.4h0M625.0 460.1h0M624.9 459.9h0M625.0 459.7h0M625.2 459.4h0M624.9 459.2h0M625.4 458.9h0M624.9 458.6h0M625.2 458.3h0M625.1 458.0h0M625.3 457.6h0M625.1 457.2h0M625.3 456.8h0M625.1 456.3h0M625.5 455.8h0M625.6 455.2h0M625.6 454.5h0M625.5 453.7h0M625.2 452.7h0M625.5 451.5h0M625.5 449.8h0M625.6 447.2h0M625.5 441.3h0M637.8 465.0h0M638.0 464.1h0M638.0 463.7h0M638.1 463.3h0M638.1 463.1h0M638.1 462.8h0M638.2 462.7h0M638.1 462.5h0M638.3 462.3h0M638.4 462.2h0M638.6 462.1h0M638.6 461.9h0M638.7 461.8h0M639.1 461.7h0M638.8 461.6h0M639.0 461.5h0M639.3 461.4h0M639.1 461.3h0M639.1 461.2h0M639.4 461.2h0M639.4 461.1h0M639.7 461.0h0M639.6 460.9h0M639.6 460.8h0M639.8 460.8h0M640.0 460.7h0M639.8 460.6h0M639.9 460.6h0M640.3 460.5h0M640.1 460.4h0M640.6 460.4h0M640.6 460.3h0M640.5 460.2h0M640.4 460.2h0M640.6 460.1h0M640.5 460.0h0M640.9 460.0h0M641.0 459.9h0M641.1 459.8h0M641.0 459.8h0M641.4 459.7h0M641.5 459.7h0M641.5 459.6h0M641.5 459.5h0M641.8 459.5h0M641.7 459.3h0M641.6 459.1h0M642.1 459.0h0M641.8 458.8h0M642.0 458.7h0M642.1 458.6h0M642.4 458.4h0M642.4 458.3h0M642.4 458.1h0M642.8 457.9h0M642.8 457.8h0M642.8 457.6h0M642.7 457.5h0M642.7 457.3h0M643.1 457.1h0M643.1 457.0h0M643.3 456.8h0M643.2 456.6h0M643.5 456.4h0M643.2 456.2h0M643.4 456.0h0M643.8 455.8h0M643.8 455.6h0M643.6 455.4h0M643.7 455.2h0M643.8 455.0h0M644.0 454.7h0M644.2 454.5h0M644.2 454.2h0M644.2 453.9h0M644.1 453.7h0M644.3 453.4h0M644.7 453.0h0M644.7 452.7h0M644.7 452.3h0M644.8 451.9h0M644.8 451.5h0M644.7 451.0h0M644.9 450.4h0M645.0 449.8h0M645.0 449.0h0M645.2 448.1h0M645.3 446.9h0M645.4 445.1h0M645.5 441.3h0M657.8 465.0h0M658.1 464.1h0M657.9 463.6h0M658.1 463.2h0M658.4 463.0h0M658.1 462.7h0M658.6 462.5h0M658.7 462.4h0M658.6 462.2h0M658.5 462.0h0M658.7 461.9h0M658.7 461.8h0M659.0 461.7h0M658.9 461.5h0M659.4 461.4h0M659.5 461.3h0M659.2 461.2h0M659.6 461.1h0M659.6 461.0h0M659.7 460.9h0M659.8 460.8h0M659.8 460.8h0M660.0 460.7h0M660.1 460.6h0M660.1 460.5h0M660.2 460.4h0M660.3 460.3h0M660.3 460.3h0M660.7 460.2h0M660.7 460.1h0M660.9 460.0h0M661.0 460.0h0M661.1 459.9h0M661.0 459.8h0M661.2 459.7h0M661.1 459.7h0M661.6 459.6h0M661.7 459.5h0M661.7 459.5h0M661.7 459.3h0M661.7 459.2h0M661.9 459.0h0M662.2 458.8h0M662.1 458.6h0M662.3 458.5h0M662.1 458.3h0M662.3 458.1h0M662.6 457.9h0M662.8 457.7h0M662.6 457.5h0M662.8 457.4h0M662.8 457.2h0M662.8 457.0h0M663.0 456.7h0M663.3 456.5h0M663.3 456.3h0M663.4 456.1h0M663.6 455.8h0M663.7 455.6h0M663.8 455.3h0M663.9 455.1h0M664.1 454.8h0M664.1 454.5h0M664.2 454.2h0M664.5 453.9h0M664.3 453.5h0M664.5 453.2h0M664.3 452.8h0M664.7 452.4h0M664.8 451.9h0M665.1 451.4h0M664.7 450.8h0M664.9 450.1h0M665.3 449.3h0M665.4 448.4h0M665.5 447.1h0M665.3 445.2h0M665.8 441.3h0" stroke="#22a033" stroke-width="2.0" stroke-linecap="round" fill="none"/>
<path d="M38.2 450.4H44.6M48.2 462.5H54.6M58.2 455.0H64.6M68.2 462.5H74.6M78.3 455.7H84.7M88.3 462.2H94.7M98.3 452.9H104.7M108.3 461.9H114.7M118.3 452.9H124.7M128.3 470.0H134.7M138.3 455.7H144.7M148.4 463.8H154.8M158.4 443.5H164.8M168.4 470.0H174.8M178.4 458.8H184.8M188.4 459.7H194.8M198.4 449.1H204.8M208.4 457.5H214.8M218.5 456.9H224.9M228.5 463.2H234.9M238.5 460.4H244.9M248.5 458.8H254.9M258.5 449.1H264.9M268.5 462.2H274.9M278.5 449.7H284.9M288.6 461.3H294.9M298.6 455.0H305.0M308.6 448.2H315.0M318.6 449.1H325.0M328.6 457.5H335.0M338.6 458.8H345.0M348.6 469.1H355.0M358.6 456.3H365.0M368.7 461.0H375.1M378.7 461.0H385.1M388.7 461.0H395.1M398.7 442.2H405.1M408.7 451.0H415.1M418.7 459.4H425.1M428.7 455.7H435.1M438.8 470.3H445.2M448.8 454.1H455.2M458.8 459.7H465.2M468.8 454.7H475.2M478.8 458.8H485.2M488.8 456.9H495.2M498.8 464.1H505.2M508.9 450.4H515.3M518.9 464.1H525.3M528.9 452.9H535.3M538.9 457.5H545.3M548.9 460.4H555.3M558.9 466.3H565.3M568.9 452.2H575.3M579.0 456.9H585.4M589.0 458.8H595.4M599.0 455.0H605.4M609.0 447.2H615.4M619.0 470.0H625.4M629.0 449.4H635.4M639.0 459.4H645.4M649.1 447.2H655.5M659.1 459.4H665.5M669.1 436.9H675.5" stroke="#000" stroke-width="1.5"/>
<line x1="36.4" y1="345.4" x2="676.8" y2="345.4" stroke="#444" stroke-width="1.2"/>
<line x1="676.8" y1="345.4" x2="676.8" y2="477" stroke="#555" stroke-width="1.0"/>
<line x1="36.4" y1="344.8" x2="36.4" y2="477" stroke="#3a3a3a" stroke-width="1.3"/>
<line x1="35.8" y1="477.2" x2="677.3" y2="477.2" stroke="#111" stroke-width="1.4"/>
<line x1="30.2" y1="476.9" x2="36.4" y2="476.9" stroke="#222" stroke-width="1.0"/>
<text x="27.4" y="479.4" text-anchor="end" font-size="7.0">0</text>
<line x1="30.2" y1="455" x2="36.4" y2="455" stroke="#222" stroke-width="1.0"/>
<text x="27.4" y="457.5" text-anchor="end" font-size="7.0">70</text>
<line x1="30.2" y1="433.2" x2="36.4" y2="433.2" stroke="#222" stroke-width="1.0"/>
<text x="27.4" y="435.7" text-anchor="end" font-size="7.0">140</text>
<line x1="30.2" y1="411.3" x2="36.4" y2="411.3" stroke="#222" stroke-width="1.0"/>
<text x="27.4" y="413.8" text-anchor="end" font-size="7.0">210</text>
<line x1="30.2" y1="389.5" x2="36.4" y2="389.5" stroke="#222" stroke-width="1.0"/>
<text x="27.4" y="392" text-anchor="end" font-size="7.0">280</text>
<line x1="30.2" y1="367.6" x2="36.4" y2="367.6" stroke="#222" stroke-width="1.0"/>
<text x="27.4" y="370.1" text-anchor="end" font-size="7.0">350</text>
<line x1="30.2" y1="345.8" x2="36.4" y2="345.8" stroke="#222" stroke-width="1.0"/>
<text x="27.4" y="348.3" text-anchor="end" font-size="7.0">420</text>
<text transform="translate(11.7 407.6) rotate(-90)" text-anchor="middle" font-size="8.3">Transcripts Per Million (TPM)</text>
<text transform="translate(43.5 342.6) rotate(-45)" font-size="8.4" fill="#111" style="stroke:#111">ACC</text>
<text transform="translate(63.5 342.6) rotate(-45)" font-size="8.4" fill="#111" style="stroke:#111">BLCA</text>
<text transform="translate(83.6 342.6) rotate(-45)" font-size="8.4" fill="#111" style="stroke:#111">BRCA</text>
<text transform="translate(103.6 342.6) rotate(-45)" font-size="8.4" fill="#111" style="stroke:#111">CESC</text>
<text transform="translate(123.6 342.6) rotate(-45)" font-size="8.4" fill="#111" style="stroke:#111">CHOL</text>
<text transform="translate(143.6 342.6) rotate(-45)" font-size="8.4" fill="#111" style="stroke:#111">COAD</text>
<text transform="translate(163.7 342.6) rotate(-45)" font-size="8.4" fill="#e8474a" style="stroke:#e8474a">DLBC</text>
<text transform="translate(183.7 342.6) rotate(-45)" font-size="8.4" fill="#111" style="stroke:#111">ESCA</text>
<text transform="translate(203.7 342.6) rotate(-45)" font-size="8.4" fill="#111" style="stroke:#111">GBM</text>
<text transform="translate(223.8 342.6) rotate(-45)" font-size="8.4" fill="#111" style="stroke:#111">HNSC</text>
<text transform="translate(243.8 342.6) rotate(-45)" font-size="8.4" fill="#111" style="stroke:#111">KICH</text>
<text transform="translate(263.8 342.6) rotate(-45)" font-size="8.4" fill="#111" style="stroke:#111">KIRC</text>
<text transform="translate(283.8 342.6) rotate(-45)" font-size="8.4" fill="#111" style="stroke:#111">KIRP</text>
<text transform="translate(303.9 342.6) rotate(-45)" font-size="8.4" fill="#111" style="stroke:#111">LAML</text>
<text transform="translate(323.9 342.6) rotate(-45)" font-size="8.4" fill="#111" style="stroke:#111">LGG</text>
<text transform="translate(343.9 342.6) rotate(-45)" font-size="8.4" fill="#e8474a" style="stroke:#e8474a">LIHC</text>
<text transform="translate(363.9 342.6) rotate(-45)" font-size="8.4" fill="#111" style="stroke:#111">LUAD</text>
<text transform="translate(384.0 342.6) rotate(-45)" font-size="8.4" fill="#111" style="stroke:#111">LUSC</text>
<text transform="translate(401.4 342.6) rotate(-45)" font-size="8.4" fill="#111" style="stroke:#111">MESO</text>
<text transform="translate(414.0 342.6) rotate(-45)" font-size="8.4" fill="#111" style="stroke:#111">OV</text>
<text transform="translate(434.0 342.6) rotate(-45)" font-size="8.4" fill="#e8474a" style="stroke:#e8474a">PAAD</text>
<text transform="translate(454.1 342.6) rotate(-45)" font-size="8.4" fill="#111" style="stroke:#111">PCPG</text>
<text transform="translate(474.1 342.6) rotate(-45)" font-size="8.4" fill="#111" style="stroke:#111">PRAD</text>
<text transform="translate(494.1 342.6) rotate(-45)" font-size="8.4" fill="#111" style="stroke:#111">READ</text>
<text transform="translate(514.2 342.6) rotate(-45)" font-size="8.4" fill="#111" style="stroke:#111">SARC</text>
<text transform="translate(534.2 342.6) rotate(-45)" font-size="8.4" fill="#111" style="stroke:#111">SKCM</text>
<text transform="translate(554.2 342.6) rotate(-45)" font-size="8.4" fill="#111" style="stroke:#111">STAD</text>
<text transform="translate(574.2 342.6) rotate(-45)" font-size="8.4" fill="#111" style="stroke:#111">TGCT</text>
<text transform="translate(594.3 342.6) rotate(-45)" font-size="8.4" fill="#111" style="stroke:#111">THCA</text>
<text transform="translate(614.3 342.6) rotate(-45)" font-size="8.4" fill="#e8474a" style="stroke:#e8474a">THYM</text>
<text transform="translate(634.3 342.6) rotate(-45)" font-size="8.4" fill="#111" style="stroke:#111">UCEC</text>
<text transform="translate(654.4 342.6) rotate(-45)" font-size="8.4" fill="#111" style="stroke:#111">UCS</text>
<text transform="translate(670.2 342.6) rotate(-45)" font-size="8.4" fill="#111" style="stroke:#111">UVM</text>
<text transform="translate(44.5 484.5) rotate(-45)" text-anchor="end" font-size="7.2">T (n=77)</text>
<text transform="translate(54.5 484.5) rotate(-45)" text-anchor="end" font-size="7.2">N (n=128)</text>
<text transform="translate(64.5 484.5) rotate(-45)" text-anchor="end" font-size="7.2">T (n=404)</text>
<text transform="translate(74.5 484.5) rotate(-45)" text-anchor="end" font-size="7.2">N (n=28)</text>
<text transform="translate(84.6 484.5) rotate(-45)" text-anchor="end" font-size="7.2">T (n=1085)</text>
<text transform="translate(94.6 484.5) rotate(-45)" text-anchor="end" font-size="7.2">N (n=291)</text>
<text transform="translate(104.6 484.5) rotate(-45)" text-anchor="end" font-size="7.2">T (n=306)</text>
<text transform="translate(114.6 484.5) rotate(-45)" text-anchor="end" font-size="7.2">N (n=13)</text>
<text transform="translate(124.6 484.5) rotate(-45)" text-anchor="end" font-size="7.2">T (n=36)</text>
<text transform="translate(134.6 484.5) rotate(-45)" text-anchor="end" font-size="7.2">N (n=9)</text>
<text transform="translate(144.6 484.5) rotate(-45)" text-anchor="end" font-size="7.2">T (n=275)</text>
<text transform="translate(154.7 484.5) rotate(-45)" text-anchor="end" font-size="7.2">N (n=349)</text>
<text transform="translate(164.7 484.5) rotate(-45)" text-anchor="end" font-size="7.2">T (n=47)</text>
<text transform="translate(174.7 484.5) rotate(-45)" text-anchor="end" font-size="7.2">N (n=337)</text>
<text transform="translate(184.7 484.5) rotate(-45)" text-anchor="end" font-size="7.2">T (n=182)</text>
<text transform="translate(194.7 484.5) rotate(-45)" text-anchor="end" font-size="7.2">N (n=286)</text>
<text transform="translate(204.7 484.5) rotate(-45)" text-anchor="end" font-size="7.2">T (n=163)</text>
<text transform="translate(214.7 484.5) rotate(-45)" text-anchor="end" font-size="7.2">N (n=207)</text>
<text transform="translate(224.8 484.5) rotate(-45)" text-anchor="end" font-size="7.2">T (n=519)</text>
<text transform="translate(234.8 484.5) rotate(-45)" text-anchor="end" font-size="7.2">N (n=44)</text>
<text transform="translate(244.8 484.5) rotate(-45)" text-anchor="end" font-size="7.2">T (n=66)</text>
<text transform="translate(254.8 484.5) rotate(-45)" text-anchor="end" font-size="7.2">N (n=53)</text>
<text transform="translate(264.8 484.5) rotate(-45)" text-anchor="end" font-size="7.2">T (n=523)</text>
<text transform="translate(274.8 484.5) rotate(-45)" text-anchor="end" font-size="7.2">N (n=100)</text>
<text transform="translate(284.8 484.5) rotate(-45)" text-anchor="end" font-size="7.2">T (n=286)</text>
<text transform="translate(294.9 484.5) rotate(-45)" text-anchor="end" font-size="7.2">N (n=60)</text>
<text transform="translate(304.9 484.5) rotate(-45)" text-anchor="end" font-size="7.2">T (n=173)</text>
<text transform="translate(314.9 484.5) rotate(-45)" text-anchor="end" font-size="7.2">N (n=70)</text>
<text transform="translate(324.9 484.5) rotate(-45)" text-anchor="end" font-size="7.2">T (n=518)</text>
<text transform="translate(334.9 484.5) rotate(-45)" text-anchor="end" font-size="7.2">N (n=207)</text>
<text transform="translate(344.9 484.5) rotate(-45)" text-anchor="end" font-size="7.2">T (n=369)</text>
<text transform="translate(354.9 484.5) rotate(-45)" text-anchor="end" font-size="7.2">N (n=160)</text>
<text transform="translate(365.0 484.5) rotate(-45)" text-anchor="end" font-size="7.2">T (n=483)</text>
<text transform="translate(375.0 484.5) rotate(-45)" text-anchor="end" font-size="7.2">N (n=347)</text>
<text transform="translate(385.0 484.5) rotate(-45)" text-anchor="end" font-size="7.2">T (n=486)</text>
<text transform="translate(395.0 484.5) rotate(-45)" text-anchor="end" font-size="7.2">N (n=338)</text>
<text transform="translate(405.0 484.5) rotate(-45)" text-anchor="end" font-size="7.2">T (n=87)</text>
<text transform="translate(415.0 484.5) rotate(-45)" text-anchor="end" font-size="7.2">T (n=426)</text>
<text transform="translate(425.0 484.5) rotate(-45)" text-anchor="end" font-size="7.2">N (n=88)</text>
<text transform="translate(435.1 484.5) rotate(-45)" text-anchor="end" font-size="7.2">T (n=179)</text>
<text transform="translate(445.1 484.5) rotate(-45)" text-anchor="end" font-size="7.2">N (n=171)</text>
<text transform="translate(455.1 484.5) rotate(-45)" text-anchor="end" font-size="7.2">T (n=182)</text>
<text transform="translate(465.1 484.5) rotate(-45)" text-anchor="end" font-size="7.2">N (n=3)</text>
<text transform="translate(475.1 484.5) rotate(-45)" text-anchor="end" font-size="7.2">T (n=492)</text>
<text transform="translate(485.1 484.5) rotate(-45)" text-anchor="end" font-size="7.2">N (n=152)</text>
<text transform="translate(495.1 484.5) rotate(-45)" text-anchor="end" font-size="7.2">T (n=92)</text>
<text transform="translate(505.2 484.5) rotate(-45)" text-anchor="end" font-size="7.2">N (n=318)</text>
<text transform="translate(515.2 484.5) rotate(-45)" text-anchor="end" font-size="7.2">T (n=262)</text>
<text transform="translate(525.2 484.5) rotate(-45)" text-anchor="end" font-size="7.2">N (n=2)</text>
<text transform="translate(535.2 484.5) rotate(-45)" text-anchor="end" font-size="7.2">T (n=461)</text>
<text transform="translate(545.2 484.5) rotate(-45)" text-anchor="end" font-size="7.2">N (n=558)</text>
<text transform="translate(555.2 484.5) rotate(-45)" text-anchor="end" font-size="7.2">T (n=408)</text>
<text transform="translate(565.2 484.5) rotate(-45)" text-anchor="end" font-size="7.2">N (n=211)</text>
<text transform="translate(575.2 484.5) rotate(-45)" text-anchor="end" font-size="7.2">T (n=137)</text>
<text transform="translate(585.3 484.5) rotate(-45)" text-anchor="end" font-size="7.2">N (n=165)</text>
<text transform="translate(595.3 484.5) rotate(-45)" text-anchor="end" font-size="7.2">T (n=512)</text>
<text transform="translate(605.3 484.5) rotate(-45)" text-anchor="end" font-size="7.2">N (n=337)</text>
<text transform="translate(615.3 484.5) rotate(-45)" text-anchor="end" font-size="7.2">T (n=118)</text>
<text transform="translate(625.3 484.5) rotate(-45)" text-anchor="end" font-size="7.2">N (n=339)</text>
<text transform="translate(635.3 484.5) rotate(-45)" text-anchor="end" font-size="7.2">T (n=174)</text>
<text transform="translate(645.3 484.5) rotate(-45)" text-anchor="end" font-size="7.2">N (n=91)</text>
<text transform="translate(655.4 484.5) rotate(-45)" text-anchor="end" font-size="7.2">T (n=57)</text>
<text transform="translate(665.4 484.5) rotate(-45)" text-anchor="end" font-size="7.2">N (n=78)</text>
<text transform="translate(675.4 484.5) rotate(-45)" text-anchor="end" font-size="7.2">T (n=79)</text>
<text x="2.7" y="526.9" font-weight="bold" font-size="8.6">h</text>
<line x1="39.4" y1="599.3" x2="39.4" y2="610.2" stroke="#111" stroke-width="1.1" stroke-dasharray="2.6,1.8"/>
<line x1="39.4" y1="617.7" x2="39.4" y2="625.3" stroke="#111" stroke-width="1.1" stroke-dasharray="2.6,1.8"/>
<line x1="36.4" y1="599.3" x2="42.4" y2="599.3" stroke="#111" stroke-width="1.1"/>
<line x1="36.4" y1="625.3" x2="42.4" y2="625.3" stroke="#111" stroke-width="1.1"/>
<rect x="33.1" y="610.2" width="12.5" height="7.6" fill="#5757ff"/>
<line x1="33.1" y1="614.1" x2="45.6" y2="614.1" stroke="#1a1a66" stroke-width="1.5"/>
<line x1="53.8" y1="553.4" x2="53.8" y2="585.1" stroke="#111" stroke-width="1.1" stroke-dasharray="2.6,1.8"/>
<line x1="53.8" y1="607.9" x2="53.8" y2="637.2" stroke="#111" stroke-width="1.1" stroke-dasharray="2.6,1.8"/>
<line x1="50.8" y1="553.4" x2="56.8" y2="553.4" stroke="#111" stroke-width="1.1"/>
<line x1="50.8" y1="637.2" x2="56.8" y2="637.2" stroke="#111" stroke-width="1.1"/>
<rect x="47.5" y="585.1" width="12.5" height="22.9" fill="#d40000"/>
<line x1="47.5" y1="594" x2="60" y2="594" stroke="#5a0000" stroke-width="1.5"/>
<text x="46.6" y="548.5" text-anchor="middle" font-size="7.35">9.86E-09</text>
<text transform="translate(41.0 662.2) rotate(-90)" font-size="6.1" fill="#5757ff" style="stroke:#5757ff">n = 18</text>
<text transform="translate(55.4 662.2) rotate(-90)" font-size="6.1" fill="#d40000" style="stroke:#d40000">n = 125</text>
<text x="44.3" y="675.8" text-anchor="middle" font-size="7.35">Breast</text>
<text x="44.3" y="684" text-anchor="middle" font-size="7.35">cancer</text>
<line x1="87.5" y1="594.7" x2="87.5" y2="616.4" stroke="#111" stroke-width="1.1" stroke-dasharray="2.6,1.8"/>
<line x1="87.5" y1="632.5" x2="87.5" y2="657.6" stroke="#111" stroke-width="1.1" stroke-dasharray="2.6,1.8"/>
<line x1="84.5" y1="594.7" x2="90.5" y2="594.7" stroke="#111" stroke-width="1.1"/>
<line x1="84.5" y1="657.6" x2="90.5" y2="657.6" stroke="#111" stroke-width="1.1"/>
<rect x="81.2" y="616.4" width="12.5" height="16.2" fill="#5757ff"/>
<line x1="81.2" y1="623.9" x2="93.7" y2="623.9" stroke="#1a1a66" stroke-width="1.5"/>
<line x1="101.9" y1="557.9" x2="101.9" y2="582.6" stroke="#111" stroke-width="1.1" stroke-dasharray="2.6,1.8"/>
<line x1="101.9" y1="605.3" x2="101.9" y2="633.4" stroke="#111" stroke-width="1.1" stroke-dasharray="2.6,1.8"/>
<line x1="98.9" y1="557.9" x2="104.9" y2="557.9" stroke="#111" stroke-width="1.1"/>
<line x1="98.9" y1="633.4" x2="104.9" y2="633.4" stroke="#111" stroke-width="1.1"/>
<rect x="95.6" y="582.6" width="12.5" height="22.7" fill="#d40000"/>
<line x1="95.6" y1="595.2" x2="108.1" y2="595.2" stroke="#5a0000" stroke-width="1.5"/>
<text x="92.9" y="553.4" text-anchor="middle" font-size="7.35">1.18E-28</text>
<text transform="translate(83.2 662.2) rotate(-90)" font-size="6.1" fill="#5757ff" style="stroke:#5757ff">n = 100</text>
<text transform="translate(103.5 662.2) rotate(-90)" font-size="6.1" fill="#d40000" style="stroke:#d40000">n = 97</text>
<text x="92.4" y="675.8" text-anchor="middle" font-size="7.35">Colon</text>
<text x="92.4" y="684" text-anchor="middle" font-size="7.35">cancer</text>
<line x1="135.6" y1="576.3" x2="135.6" y2="595.2" stroke="#111" stroke-width="1.1" stroke-dasharray="2.6,1.8"/>
<line x1="135.6" y1="618.4" x2="135.6" y2="636.1" stroke="#111" stroke-width="1.1" stroke-dasharray="2.6,1.8"/>
<line x1="132.6" y1="576.3" x2="138.6" y2="576.3" stroke="#111" stroke-width="1.1"/>
<line x1="132.6" y1="636.1" x2="138.6" y2="636.1" stroke="#111" stroke-width="1.1"/>
<rect x="129.3" y="595.2" width="12.5" height="23.2" fill="#5757ff"/>
<line x1="129.3" y1="608.1" x2="141.8" y2="608.1" stroke="#1a1a66" stroke-width="1.5"/>
<line x1="150.0" y1="567.2" x2="150.0" y2="584.9" stroke="#111" stroke-width="1.1" stroke-dasharray="2.6,1.8"/>
<line x1="150.0" y1="606.0" x2="150.0" y2="635.4" stroke="#111" stroke-width="1.1" stroke-dasharray="2.6,1.8"/>
<line x1="147" y1="567.2" x2="153" y2="567.2" stroke="#111" stroke-width="1.1"/>
<line x1="147" y1="635.4" x2="153" y2="635.4" stroke="#111" stroke-width="1.1"/>
<rect x="143.7" y="584.9" width="12.5" height="21.2" fill="#d40000"/>
<line x1="143.7" y1="594.2" x2="156.2" y2="594.2" stroke="#5a0000" stroke-width="1.5"/>
<text x="141.2" y="562.7" text-anchor="middle" font-size="7.35">9.01E-04</text>
<text transform="translate(137.2 662.2) rotate(-90)" font-size="6.1" fill="#5757ff" style="stroke:#5757ff">n = 25</text>
<text transform="translate(151.6 662.2) rotate(-90)" font-size="6.1" fill="#d40000" style="stroke:#d40000">n = 100</text>
<text x="141.2" y="675.8" text-anchor="middle" font-size="7.35">Ovarian</text>
<text x="141.2" y="684" text-anchor="middle" font-size="7.35">cancer</text>
<line x1="183.7" y1="594.2" x2="183.7" y2="615.2" stroke="#111" stroke-width="1.1" stroke-dasharray="2.6,1.8"/>
<line x1="183.7" y1="631.3" x2="183.7" y2="653.7" stroke="#111" stroke-width="1.1" stroke-dasharray="2.6,1.8"/>
<line x1="180.7" y1="594.2" x2="186.7" y2="594.2" stroke="#111" stroke-width="1.1"/>
<line x1="180.7" y1="653.7" x2="186.7" y2="653.7" stroke="#111" stroke-width="1.1"/>
<rect x="177.4" y="615.2" width="12.5" height="16.2" fill="#5757ff"/>
<line x1="177.4" y1="625.3" x2="189.9" y2="625.3" stroke="#1a1a66" stroke-width="1.5"/>
<line x1="198.1" y1="559.4" x2="198.1" y2="588.1" stroke="#111" stroke-width="1.1" stroke-dasharray="2.6,1.8"/>
<line x1="198.1" y1="608.3" x2="198.1" y2="634.2" stroke="#111" stroke-width="1.1" stroke-dasharray="2.6,1.8"/>
<line x1="195.1" y1="559.4" x2="201.1" y2="559.4" stroke="#111" stroke-width="1.1"/>
<line x1="195.1" y1="634.2" x2="201.1" y2="634.2" stroke="#111" stroke-width="1.1"/>
<rect x="191.8" y="588.1" width="12.5" height="20.1" fill="#d40000"/>
<line x1="191.8" y1="596.4" x2="204.3" y2="596.4" stroke="#5a0000" stroke-width="1.5"/>
<text x="189.5" y="553.9" text-anchor="middle" font-size="7.35">4.56E-27</text>
<text transform="translate(179.5 662.2) rotate(-90)" font-size="6.1" fill="#5757ff" style="stroke:#5757ff">n = 84</text>
<text transform="translate(199.7 662.2) rotate(-90)" font-size="6.1" fill="#d40000" style="stroke:#d40000">n = 110</text>
<text x="189.2" y="675.8" text-anchor="middle" font-size="7.35">Clear cell</text>
<text x="189.2" y="684" text-anchor="middle" font-size="7.35">RCC</text>
<line x1="231.8" y1="584.2" x2="231.8" y2="595.9" stroke="#111" stroke-width="1.1" stroke-dasharray="2.6,1.8"/>
<line x1="231.8" y1="610.7" x2="231.8" y2="626.7" stroke="#111" stroke-width="1.1" stroke-dasharray="2.6,1.8"/>
<line x1="228.8" y1="584.2" x2="234.8" y2="584.2" stroke="#111" stroke-width="1.1"/>
<line x1="228.8" y1="626.7" x2="234.8" y2="626.7" stroke="#111" stroke-width="1.1"/>
<rect x="225.5" y="595.9" width="12.5" height="14.8" fill="#5757ff"/>
<line x1="225.5" y1="604.1" x2="238" y2="604.1" stroke="#1a1a66" stroke-width="1.5"/>
<line x1="246.2" y1="556.7" x2="246.2" y2="584.2" stroke="#111" stroke-width="1.1" stroke-dasharray="2.6,1.8"/>
<line x1="246.2" y1="601.4" x2="246.2" y2="623.9" stroke="#111" stroke-width="1.1" stroke-dasharray="2.6,1.8"/>
<line x1="243.2" y1="556.7" x2="249.2" y2="556.7" stroke="#111" stroke-width="1.1"/>
<line x1="243.2" y1="623.9" x2="249.2" y2="623.9" stroke="#111" stroke-width="1.1"/>
<rect x="239.9" y="584.2" width="12.5" height="17.2" fill="#d40000"/>
<line x1="239.9" y1="595.2" x2="252.4" y2="595.2" stroke="#5a0000" stroke-width="1.5"/>
<text x="237.6" y="552.5" text-anchor="middle" font-size="7.35">2.29E-05</text>
<text transform="translate(233.4 662.2) rotate(-90)" font-size="6.1" fill="#5757ff" style="stroke:#5757ff">n = 31</text>
<text transform="translate(247.8 662.2) rotate(-90)" font-size="6.1" fill="#d40000" style="stroke:#d40000">n = 100</text>
<text x="237.9" y="675.6" text-anchor="middle" font-size="7.35">UCEC</text>
<line x1="279.9" y1="600.0" x2="279.9" y2="608.8" stroke="#111" stroke-width="1.1" stroke-dasharray="2.6,1.8"/>
<line x1="279.9" y1="622.5" x2="279.9" y2="637.2" stroke="#111" stroke-width="1.1" stroke-dasharray="2.6,1.8"/>
<line x1="276.9" y1="600" x2="282.9" y2="600" stroke="#111" stroke-width="1.1"/>
<line x1="276.9" y1="637.2" x2="282.9" y2="637.2" stroke="#111" stroke-width="1.1"/>
<rect x="273.6" y="608.8" width="12.5" height="13.8" fill="#5757ff"/>
<line x1="273.6" y1="615.2" x2="286.1" y2="615.2" stroke="#1a1a66" stroke-width="1.5"/>
<line x1="294.2" y1="555.3" x2="294.2" y2="582.6" stroke="#111" stroke-width="1.1" stroke-dasharray="2.6,1.8"/>
<line x1="294.2" y1="604.1" x2="294.2" y2="619.3" stroke="#111" stroke-width="1.1" stroke-dasharray="2.6,1.8"/>
<line x1="291.2" y1="555.3" x2="297.2" y2="555.3" stroke="#111" stroke-width="1.1"/>
<line x1="291.2" y1="619.3" x2="297.2" y2="619.3" stroke="#111" stroke-width="1.1"/>
<rect x="288.0" y="582.6" width="12.5" height="21.5" fill="#d40000"/>
<line x1="288" y1="595.2" x2="300.5" y2="595.2" stroke="#5a0000" stroke-width="1.5"/>
<text x="286.4" y="549.2" text-anchor="middle" font-size="7.35">9.20E-21</text>
<text transform="translate(281.5 662.2) rotate(-90)" font-size="6.1" fill="#5757ff" style="stroke:#5757ff">n = 111</text>
<text transform="translate(295.9 662.2) rotate(-90)" font-size="6.1" fill="#d40000" style="stroke:#d40000">n = 111</text>
<text x="285.6" y="675.8" text-anchor="middle" font-size="7.35">Lung</text>
<text x="285.6" y="684" text-anchor="middle" font-size="7.35">cancer</text>
<line x1="328.0" y1="573.2" x2="328.0" y2="591.1" stroke="#111" stroke-width="1.1" stroke-dasharray="2.6,1.8"/>
<line x1="328.0" y1="607.4" x2="328.0" y2="635.4" stroke="#111" stroke-width="1.1" stroke-dasharray="2.6,1.8"/>
<line x1="325" y1="573.2" x2="331" y2="573.2" stroke="#111" stroke-width="1.1"/>
<line x1="325" y1="635.4" x2="331" y2="635.4" stroke="#111" stroke-width="1.1"/>
<rect x="321.7" y="591.1" width="12.5" height="16.3" fill="#5757ff"/>
<line x1="321.7" y1="599.3" x2="334.2" y2="599.3" stroke="#1a1a66" stroke-width="1.5"/>
<line x1="342.4" y1="554.8" x2="342.4" y2="585.6" stroke="#111" stroke-width="1.1" stroke-dasharray="2.6,1.8"/>
<line x1="342.4" y1="606.0" x2="342.4" y2="636.3" stroke="#111" stroke-width="1.1" stroke-dasharray="2.6,1.8"/>
<line x1="339.4" y1="554.8" x2="345.4" y2="554.8" stroke="#111" stroke-width="1.1"/>
<line x1="339.4" y1="636.3" x2="345.4" y2="636.3" stroke="#111" stroke-width="1.1"/>
<rect x="336.1" y="585.6" width="12.5" height="20.5" fill="#d40000"/>
<line x1="336.1" y1="595.2" x2="348.6" y2="595.2" stroke="#5a0000" stroke-width="1.5"/>
<text x="334.8" y="550.6" text-anchor="middle" font-size="7.35">1.91E-02</text>
<text transform="translate(329.6 662.2) rotate(-90)" font-size="6.1" fill="#5757ff" style="stroke:#5757ff">n = 74</text>
<text transform="translate(344.0 662.2) rotate(-90)" font-size="6.1" fill="#d40000" style="stroke:#d40000">n = 137</text>
<text x="334.6" y="675.6" text-anchor="middle" font-size="7.35">PAAD</text>
<line x1="376.1" y1="591.6" x2="376.1" y2="607.4" stroke="#111" stroke-width="1.1" stroke-dasharray="2.6,1.8"/>
<line x1="376.1" y1="622.0" x2="376.1" y2="634.1" stroke="#111" stroke-width="1.1" stroke-dasharray="2.6,1.8"/>
<line x1="373.1" y1="591.6" x2="379.1" y2="591.6" stroke="#111" stroke-width="1.1"/>
<line x1="373.1" y1="634.1" x2="379.1" y2="634.1" stroke="#111" stroke-width="1.1"/>
<rect x="369.8" y="607.4" width="12.5" height="14.6" fill="#5757ff"/>
<line x1="369.8" y1="613.4" x2="382.3" y2="613.4" stroke="#1a1a66" stroke-width="1.5"/>
<line x1="390.4" y1="562.2" x2="390.4" y2="586.1" stroke="#111" stroke-width="1.1" stroke-dasharray="2.6,1.8"/>
<line x1="390.4" y1="601.9" x2="390.4" y2="622.5" stroke="#111" stroke-width="1.1" stroke-dasharray="2.6,1.8"/>
<line x1="387.4" y1="562.2" x2="393.4" y2="562.2" stroke="#111" stroke-width="1.1"/>
<line x1="387.4" y1="622.5" x2="393.4" y2="622.5" stroke="#111" stroke-width="1.1"/>
<rect x="384.2" y="586.1" width="12.5" height="15.8" fill="#d40000"/>
<line x1="384.2" y1="594.3" x2="396.7" y2="594.3" stroke="#5a0000" stroke-width="1.5"/>
<text x="383.4" y="558.8" text-anchor="middle" font-size="7.35">6.47E-18</text>
<text transform="translate(377.7 662.2) rotate(-90)" font-size="6.1" fill="#5757ff" style="stroke:#5757ff">n = 71</text>
<text transform="translate(392.1 662.2) rotate(-90)" font-size="6.1" fill="#d40000" style="stroke:#d40000">n = 108</text>
<text x="383.4" y="680.2" text-anchor="middle" font-size="7.35">Head and neck</text>
<text x="383.4" y="689" text-anchor="middle" font-size="7.35">squamous carcinoma</text>
<line x1="424.2" y1="627.4" x2="424.2" y2="630.8" stroke="#111" stroke-width="1.1" stroke-dasharray="2.6,1.8"/>
<line x1="424.2" y1="635.6" x2="424.2" y2="638.4" stroke="#111" stroke-width="1.1" stroke-dasharray="2.6,1.8"/>
<line x1="421.2" y1="627.4" x2="427.2" y2="627.4" stroke="#111" stroke-width="1.1"/>
<line x1="421.2" y1="638.4" x2="427.2" y2="638.4" stroke="#111" stroke-width="1.1"/>
<rect x="417.9" y="630.8" width="12.5" height="4.8" fill="#5757ff"/>
<line x1="417.9" y1="633.6" x2="430.4" y2="633.6" stroke="#1a1a66" stroke-width="1.5"/>
<line x1="438.6" y1="560.3" x2="438.6" y2="583.3" stroke="#111" stroke-width="1.1" stroke-dasharray="2.6,1.8"/>
<line x1="438.6" y1="609.0" x2="438.6" y2="637.7" stroke="#111" stroke-width="1.1" stroke-dasharray="2.6,1.8"/>
<line x1="435.6" y1="560.3" x2="441.6" y2="560.3" stroke="#111" stroke-width="1.1"/>
<line x1="435.6" y1="637.7" x2="441.6" y2="637.7" stroke="#111" stroke-width="1.1"/>
<rect x="432.3" y="583.3" width="12.5" height="25.6" fill="#d40000"/>
<line x1="432.3" y1="595.7" x2="444.8" y2="595.7" stroke="#5a0000" stroke-width="1.5"/>
<text x="432" y="556.1" text-anchor="middle" font-size="7.35">4.46E-16</text>
<text transform="translate(425.8 662.2) rotate(-90)" font-size="6.1" fill="#5757ff" style="stroke:#5757ff">n = 10</text>
<text transform="translate(440.2 662.2) rotate(-90)" font-size="6.1" fill="#d40000" style="stroke:#d40000">n = 99</text>
<text x="431.8" y="675.6" text-anchor="middle" font-size="7.35">Glioblastoma</text>
<line x1="472.3" y1="615.0" x2="472.3" y2="627.4" stroke="#111" stroke-width="1.1" stroke-dasharray="2.6,1.8"/>
<line x1="472.3" y1="638.5" x2="472.3" y2="655.1" stroke="#111" stroke-width="1.1" stroke-dasharray="2.6,1.8"/>
<line x1="469.3" y1="615" x2="475.3" y2="615" stroke="#111" stroke-width="1.1"/>
<line x1="469.3" y1="655.1" x2="475.3" y2="655.1" stroke="#111" stroke-width="1.1"/>
<rect x="466.0" y="627.4" width="12.5" height="11.2" fill="#5757ff"/>
<line x1="466" y1="632.2" x2="478.5" y2="632.2" stroke="#1a1a66" stroke-width="1.5"/>
<line x1="486.7" y1="552.5" x2="486.7" y2="583.3" stroke="#111" stroke-width="1.1" stroke-dasharray="2.6,1.8"/>
<line x1="486.7" y1="607.1" x2="486.7" y2="637.0" stroke="#111" stroke-width="1.1" stroke-dasharray="2.6,1.8"/>
<line x1="483.7" y1="552.5" x2="489.7" y2="552.5" stroke="#111" stroke-width="1.1"/>
<line x1="483.7" y1="637" x2="489.7" y2="637" stroke="#111" stroke-width="1.1"/>
<rect x="480.4" y="583.3" width="12.5" height="23.7" fill="#d40000"/>
<line x1="480.4" y1="595.7" x2="492.9" y2="595.7" stroke="#5a0000" stroke-width="1.5"/>
<text x="480.4" y="548.5" text-anchor="middle" font-size="7.35">3.75E-73</text>
<text transform="translate(468.1 662.2) rotate(-90)" font-size="6.1" fill="#5757ff" style="stroke:#5757ff">n = 165</text>
<text transform="translate(488.3 662.2) rotate(-90)" font-size="6.1" fill="#d40000" style="stroke:#d40000">n = 165</text>
<text x="480" y="680.2" text-anchor="middle" font-size="7.35">Hepatocellular</text>
<text x="480" y="689" text-anchor="middle" font-size="7.35">carcinoma</text>
<line x1="22.2" y1="525.9" x2="22.2" y2="664" stroke="#111" stroke-width="1.2"/>
<line x1="22.2" y1="664" x2="503.6" y2="664" stroke="#111" stroke-width="1.2"/>
<line x1="18.4" y1="526.4" x2="22.2" y2="526.4" stroke="#111" stroke-width="1.2"/>
<text x="16.4" y="529.3" text-anchor="end" font-size="8.2">4</text>
<line x1="18.4" y1="560.8" x2="22.2" y2="560.8" stroke="#111" stroke-width="1.2"/>
<text x="16.4" y="563.7" text-anchor="end" font-size="8.2">2</text>
<line x1="18.4" y1="595.2" x2="22.2" y2="595.2" stroke="#111" stroke-width="1.2"/>
<text x="16.4" y="598.1" text-anchor="end" font-size="8.2">0</text>
<line x1="18.4" y1="629.6" x2="22.2" y2="629.6" stroke="#111" stroke-width="1.2"/>
<text x="16.4" y="632.5" text-anchor="end" font-size="8.2">-2</text>
<line x1="18.4" y1="664" x2="22.2" y2="664" stroke="#111" stroke-width="1.2"/>
<text x="16.4" y="666.9" text-anchor="end" font-size="8.2">-4</text>
<line x1="22.3" y1="664" x2="22.3" y2="668" stroke="#111" stroke-width="1.2"/>
<line x1="70.4" y1="664" x2="70.4" y2="668" stroke="#111" stroke-width="1.2"/>
<line x1="118.5" y1="664" x2="118.5" y2="668" stroke="#111" stroke-width="1.2"/>
<line x1="166.6" y1="664" x2="166.6" y2="668" stroke="#111" stroke-width="1.2"/>
<line x1="214.7" y1="664" x2="214.7" y2="668" stroke="#111" stroke-width="1.2"/>
<line x1="262.8" y1="664" x2="262.8" y2="668" stroke="#111" stroke-width="1.2"/>
<line x1="310.9" y1="664" x2="310.9" y2="668" stroke="#111" stroke-width="1.2"/>
<line x1="359" y1="664" x2="359" y2="668" stroke="#111" stroke-width="1.2"/>
<line x1="407.1" y1="664" x2="407.1" y2="668" stroke="#111" stroke-width="1.2"/>
<line x1="455.2" y1="664" x2="455.2" y2="668" stroke="#111" stroke-width="1.2"/>
<line x1="503.3" y1="664" x2="503.3" y2="668" stroke="#111" stroke-width="1.2"/>
<rect x="46.6" y="527.3" width="14.1" height="6.8" fill="#5757ff"/>
<text x="66.6" y="533.8" font-size="8.3">Normal</text>
<rect x="122.0" y="527.3" width="13.7" height="6.8" fill="#d40000"/>
<text x="140.6" y="533.8" font-size="8.3">Tumor</text>
<text x="262" y="700.9" text-anchor="middle" font-size="8.55">CPTAC samples</text>
<text transform="translate(5.9 594.6) rotate(-90)" text-anchor="middle" font-size="8.3">Z-value</text>
<text x="525.9" y="537.7" font-weight="bold" font-size="8.6">i</text>
<path d="M590.4 662.4h0M609.2 657.5h0M600.9 657.7h0M613.5 666.4h0M616.1 665.1h0M606.4 666.0h0M594.9 666.6h0M589.6 665.7h0M609.4 667.0h0M598.2 658.0h0M603.0 664.7h0M604.0 665.0h0M598.5 665.7h0M622.9 667.1h0M604.2 664.4h0M622.8 666.3h0M596.0 656.8h0M587.6 665.7h0M609.1 657.6h0M592.7 657.0h0M609.1 665.0h0M598.4 665.3h0M604.6 666.0h0M598.0 661.8h0M617.6 667.1h0M597.8 664.1h0M607.2 662.8h0M597.7 662.8h0M601.4 665.8h0M604.5 667.1h0M602.3 659.1h0M620.1 666.4h0M593.5 663.1h0M605.5 667.1h0M613.0 657.7h0M608.0 660.5h0M624.3 662.9h0M597.1 663.9h0M585.0 666.1h0M615.5 662.8h0M608.3 659.2h0M625.3 664.9h0M594.9 662.3h0M610.4 665.3h0M613.7 664.8h0M599.0 663.8h0M604.2 665.7h0M611.6 662.0h0M608.4 667.2h0M621.1 663.5h0M596.2 665.5h0M586.6 662.8h0M592.2 666.0h0M623.6 664.0h0M614.0 666.2h0M605.2 665.3h0M599.5 657.0h0M590.2 661.8h0M610.9 664.4h0M614.0 660.7h0M599.3 662.8h0M622.2 667.2h0M613.4 666.5h0M586.0 666.7h0M594.0 666.8h0M597.7 665.9h0M590.9 658.4h0M594.0 663.7h0M600.1 665.7h0M599.9 659.9h0M608.8 664.3h0M606.3 660.1h0M597.3 661.4h0M603.0 663.2h0M600.1 663.9h0M585.1 666.6h0M599.3 663.9h0M616.2 665.2h0M601.0 666.9h0M595.0 666.3h0M597.0 663.1h0M608.3 661.7h0M605.1 663.5h0M592.1 661.8h0M606.8 663.8h0M613.7 660.1h0M591.9 656.5h0M614.2 665.8h0M596.4 666.8h0M614.7 658.7h0M587.0 666.3h0M599.3 660.5h0M610.7 660.7h0M589.3 664.2h0M589.9 664.4h0M604.6 661.3h0M601.9 666.2h0M608.2 663.4h0M598.2 664.8h0M596.8 661.7h0M613.4 666.0h0M602.9 665.8h0M608.3 664.5h0M605.1 664.7h0M613.4 666.2h0M592.2 663.3h0M596.1 665.6h0M602.7 667.1h0M595.6 665.3h0M598.1 666.1h0M607.2 663.7h0M616.0 665.9h0M612.9 664.2h0M595.3 662.5h0M620.5 665.2h0M586.1 663.5h0M596.3 664.1h0M610.9 662.8h0M591.0 663.1h0M595.1 664.7h0M602.7 667.1h0M612.6 663.8h0M598.2 665.7h0M587.7 660.8h0M594.7 664.1h0M603.6 663.8h0M612.1 666.5h0M624.2 665.0h0M595.9 665.4h0M614.2 666.6h0M594.7 665.3h0M614.1 666.7h0M599.8 662.5h0M612.6 663.1h0M594.5 666.0h0M606.1 659.5h0M614.8 666.8h0M598.8 657.5h0M603.9 664.1h0M601.7 664.8h0M610.8 667.0h0M593.4 664.2h0M593.9 662.7h0M602.2 665.1h0M602.9 663.7h0M593.4 666.4h0M598.8 662.3h0M593.0 666.3h0M602.0 661.6h0M609.9 666.5h0M590.2 664.6h0M600.7 667.0h0M604.3 662.8h0M588.2 664.2h0M594.5 663.6h0M610.9 665.0h0M587.0 662.0h0M605.2 663.9h0M604.2 665.9h0M610.4 661.7h0M594.8 665.8h0M606.7 658.1h0M609.6 663.5h0M591.0 665.7h0M599.5 665.1h0M617.5 636.8h0M602.7 661.8h0M624.2 631.3h0M619.7 663.7h0M621.4 626.7h0M629.3 630.8h0M602.2 650.8h0M607.0 650.7h0M628.0 631.4h0M604.6 659.9h0M627.0 657.3h0M618.2 650.2h0M605.4 652.5h0M602.0 664.3h0M611.6 663.3h0M602.4 655.5h0M622.0 630.0h0M604.6 657.0h0M609.8 649.8h0M614.8 635.4h0M611.5 663.8h0M620.7 658.8h0M618.8 646.6h0M626.8 639.4h0M618.5 655.4h0M616.5 656.4h0M622.2 644.0h0M604.6 661.1h0M611.4 644.7h0M605.9 650.0h0M619.5 661.5h0M619.8 661.3h0M604.4 653.8h0M607.6 644.7h0M614.5 655.0h0M623.5 663.1h0M621.5 662.4h0M605.1 645.6h0M620.2 656.3h0M604.1 646.3h0M619.8 634.3h0M604.8 652.9h0M610.9 659.0h0M610.3 649.0h0M610.7 654.9h0M604.7 648.6h0M619.3 635.4h0M613.2 639.8h0M615.6 645.8h0M617.1 639.6h0M612.1 662.5h0M601.7 662.7h0M601.9 650.3h0M614.5 641.3h0M600.8 658.5h0M626.2 637.0h0M613.0 651.4h0M603.6 663.0h0M605.3 657.9h0M611.8 640.3h0M605.1 660.5h0M608.7 661.6h0M609.0 659.6h0M614.5 664.1h0M627.2 647.4h0M627.5 632.9h0M620.0 647.1h0M627.8 658.6h0M619.9 653.9h0M620.0 637.5h0M605.4 661.6h0M601.5 662.2h0M603.0 658.5h0M628.6 647.0h0M609.7 653.3h0M608.9 647.1h0M621.3 658.2h0M607.7 649.6h0M627.6 634.7h0M613.1 636.2h0M601.0 665.3h0M623.0 647.8h0M602.1 656.3h0M629.0 639.5h0M610.8 662.9h0M602.8 649.1h0M614.8 635.5h0M602.3 661.7h0M602.2 658.9h0M602.5 661.4h0M629.5 620.2h0M646.6 627.0h0M652.8 630.9h0M624.3 632.2h0M634.8 631.9h0M638.7 620.0h0M631.8 665.8h0M622.1 630.3h0M645.2 653.8h0M637.0 649.2h0M634.6 655.2h0M622.2 615.0h0M652.3 626.7h0M650.5 632.2h0M648.9 623.0h0M638.5 619.0h0M653.4 620.2h0M657.9 616.1h0M630.4 638.2h0M667.1 614.2h0M653.1 624.0h0M638.2 608.9h0M656.8 614.7h0M630.6 596.5h0M629.2 651.7h0M617.7 652.9h0M633.5 617.0h0M618.8 597.3h0M634.1 635.4h0M628.9 622.3h0M626.2 625.3h0M646.7 620.6h0M653.9 636.4h0M629.2 596.0h0M653.5 633.2h0M640.6 618.5h0M644.9 656.4h0M669.0 598.1h0M634.5 627.3h0M660.3 640.6h0M653.9 599.1h0M643.8 612.7h0M617.1 609.2h0M654.1 611.8h0M655.7 625.1h0M633.6 650.2h0M677.3 649.0h0M646.5 664.2h0M652.7 603.3h0M633.6 601.0h0M637.6 597.6h0M661.4 634.0h0M644.8 623.5h0M641.4 651.9h0M632.7 614.0h0M630.2 626.7h0M655.7 619.6h0M663.4 650.4h0M664.8 626.2h0M658.2 627.2h0M660.2 664.0h0M629.0 645.7h0M662.5 594.9h0M637.2 629.5h0M645.8 620.2h0M651.7 591.1h0M630.1 600.6h0M657.9 651.3h0M647.3 649.3h0M662.8 625.8h0M632.5 637.6h0M630.3 618.1h0M656.9 624.8h0M627.3 613.9h0M636.9 651.2h0M673.9 631.0h0M665.8 642.9h0M631.6 654.4h0M647.0 648.9h0M620.1 649.9h0M627.9 633.2h0M648.6 624.4h0M627.8 607.8h0M643.7 664.1h0M637.7 595.2h0M668.2 610.9h0M663.2 647.8h0M657.0 658.8h0M632.9 639.9h0M638.1 625.7h0M625.2 636.9h0M659.3 627.4h0M653.1 599.5h0M672.9 655.2h0M629.0 644.9h0M662.6 606.2h0M615.9 643.3h0M616.4 598.9h0M645.5 610.7h0M639.3 599.0h0M650.4 636.7h0M622.0 659.1h0M643.0 621.5h0M611.9 648.9h0M662.3 652.2h0M626.1 619.2h0M635.2 635.8h0M614.1 629.8h0M646.0 607.8h0M656.9 639.3h0M635.3 619.1h0M663.8 647.9h0M620.8 632.4h0M645.2 610.5h0M637.9 611.0h0M621.7 617.0h0M636.4 643.8h0M634.0 628.6h0M645.5 617.0h0M650.4 621.7h0M635.9 636.9h0M643.4 665.3h0M654.7 664.7h0M665.5 635.5h0M649.9 630.9h0M647.1 624.1h0M646.6 608.4h0M616.5 623.1h0M641.7 638.7h0M624.1 615.2h0M635.8 622.2h0M628.2 642.9h0M633.8 653.8h0M632.2 596.8h0M654.9 631.6h0M627.6 612.0h0M655.3 650.2h0M664.6 608.5h0M633.6 636.7h0M661.8 640.4h0M612.9 648.5h0M635.3 652.3h0M670.9 633.8h0M641.3 643.8h0M648.1 633.2h0M636.1 631.2h0M649.1 649.8h0M637.6 620.9h0M638.9 654.5h0M667.0 589.5h0M643.0 631.9h0M644.4 629.3h0M661.3 647.4h0M656.1 613.5h0M646.0 605.5h0M639.0 638.9h0M643.3 639.3h0M634.0 654.4h0M658.5 620.7h0M645.3 652.3h0M621.1 650.5h0M622.4 626.5h0M642.9 626.5h0M624.1 602.0h0M618.8 612.9h0M633.4 593.1h0M641.8 619.7h0M635.8 625.5h0M632.2 625.5h0M659.8 631.0h0M661.5 635.1h0M667.2 617.5h0M649.4 637.1h0M643.8 663.8h0M667.3 616.1h0M634.4 588.9h0M645.8 600.1h0M636.3 619.3h0M622.3 617.3h0M644.2 644.9h0M647.9 628.3h0M625.2 628.9h0M636.6 632.7h0M634.8 605.7h0M658.1 642.9h0M653.8 657.2h0M645.2 613.1h0M639.2 645.3h0M636.3 664.3h0M634.1 613.2h0M656.9 628.8h0M639.9 626.5h0M624.0 661.3h0M641.4 627.5h0M636.3 636.1h0M642.0 644.7h0M652.6 610.0h0M644.0 659.9h0M649.9 609.8h0M634.4 664.4h0M625.6 612.2h0M640.9 603.9h0M677.0 604.9h0M650.9 630.9h0M667.5 635.6h0M663.0 621.7h0M633.7 645.4h0M658.4 641.7h0M637.2 637.3h0M643.7 612.0h0M650.4 592.9h0M677.9 627.6h0M656.0 620.5h0M614.0 635.1h0M674.7 641.8h0M629.7 642.0h0M632.5 634.1h0M656.0 622.8h0M650.5 594.3h0M651.2 631.4h0M641.1 589.8h0M643.2 600.8h0M647.7 602.8h0M660.7 650.9h0M626.6 621.2h0M646.9 623.8h0M638.9 638.6h0M659.7 617.8h0M640.8 637.7h0M621.1 664.6h0M663.2 602.1h0M641.2 610.9h0M671.4 626.4h0M638.3 642.3h0M644.2 625.6h0M655.3 614.1h0M638.1 612.2h0M650.6 608.2h0M650.7 651.7h0M624.5 625.5h0M650.5 662.2h0M643.5 656.5h0M649.4 618.2h0M636.9 632.7h0M633.6 660.8h0M633.3 664.0h0M656.8 618.6h0M629.5 617.2h0M650.5 657.6h0M670.6 629.7h0M666.5 662.2h0M664.2 602.1h0M637.8 621.0h0M619.3 662.9h0M637.2 633.3h0M658.9 631.7h0M623.7 657.8h0M640.8 606.9h0M638.3 621.0h0M667.5 613.3h0M612.2 608.3h0M655.6 621.0h0M633.8 630.6h0M631.2 622.4h0M664.2 622.6h0M639.9 619.4h0M639.1 606.3h0M635.5 599.8h0M660.0 607.2h0M667.8 649.9h0M637.0 633.7h0M663.8 604.4h0M638.9 623.0h0M662.3 608.7h0M633.6 663.1h0M612.9 650.5h0M670.3 638.7h0M655.6 651.5h0M646.0 604.0h0M630.7 648.5h0M642.0 630.0h0M647.4 638.3h0M636.3 620.0h0M667.7 628.4h0M634.0 618.3h0M641.9 624.7h0M648.6 657.8h0M650.0 620.4h0M633.9 633.4h0M634.2 644.8h0M635.6 634.5h0M646.5 631.1h0M633.2 628.4h0M626.3 657.3h0M644.5 613.4h0M635.1 652.7h0M672.9 611.1h0M666.4 604.9h0M660.4 626.2h0M642.3 645.9h0M673.6 638.7h0M626.5 613.5h0M619.7 650.6h0M665.9 662.0h0M641.1 659.1h0M621.5 617.3h0M659.1 588.8h0M642.2 623.7h0M662.8 620.2h0M633.3 628.7h0M649.7 641.7h0M654.1 656.5h0M623.2 610.1h0M643.8 611.7h0M667.4 625.0h0M616.9 649.5h0M623.4 631.7h0M632.1 596.5h0M625.6 609.6h0M642.9 653.2h0M639.6 636.9h0M639.8 587.4h0M645.6 623.0h0M671.6 623.3h0M657.2 612.9h0M612.9 617.0h0M621.1 627.4h0M672.7 620.5h0M644.7 659.8h0M654.2 654.5h0M639.4 632.6h0M643.9 621.4h0M637.7 621.2h0M636.9 622.9h0M642.3 627.6h0M628.7 622.5h0M639.7 651.3h0M663.0 648.3h0M645.6 607.1h0M625.0 624.1h0M661.0 623.7h0M645.0 662.9h0M658.9 653.6h0M668.8 646.5h0M619.9 615.1h0M637.7 653.1h0M647.6 610.6h0M641.9 596.0h0M643.4 643.6h0M635.0 636.6h0M647.8 645.4h0M631.8 619.1h0M653.3 615.8h0M642.4 638.6h0M645.7 601.2h0M642.8 588.9h0M633.3 653.3h0M677.2 615.1h0M646.8 621.3h0M642.3 659.2h0M653.8 649.7h0M628.4 619.5h0M658.1 666.2h0M653.9 626.0h0M656.4 624.6h0M635.9 645.1h0M639.2 644.7h0M621.8 601.6h0M657.8 644.2h0M650.4 604.8h0M618.3 643.7h0M666.4 608.1h0M656.8 600.6h0M654.4 601.1h0M629.5 604.9h0M647.3 652.4h0M645.6 618.7h0M653.4 636.4h0M644.1 636.8h0M630.4 632.9h0M554.8 664.7h0M569.1 664.9h0M577.0 664.9h0M630.0 558.7h0M629.3 571.8h0M642.0 570.8h0M645.2 573.7h0M659.4 573.7h0M667.4 547.8h0M617.3 585.8h0M604.0 602.5h0M590.6 628.4h0M610.3 595.8h0M612.8 594.5h0M673.7 582.4h0M678.5 610.2h0M680.0 638.0h0M675.3 650.5h0M580.2 650.5h0M588.1 658.2h0" stroke="#111" stroke-width="2.15" stroke-linecap="round" fill="none"/>
<rect x="550.1" y="543.5" width="133.4" height="128.8" fill="none" stroke="#111" stroke-width="1.3"/>
<line x1="546.3" y1="667.8" x2="550.1" y2="667.8" stroke="#111" stroke-width="1.2"/>
<text x="544.3" y="670.7" text-anchor="end" font-size="8.2">0</text>
<line x1="546.3" y1="648.6" x2="550.1" y2="648.6" stroke="#111" stroke-width="1.2"/>
<text x="544.3" y="651.5" text-anchor="end" font-size="8.2">1</text>
<line x1="546.3" y1="629.4" x2="550.1" y2="629.4" stroke="#111" stroke-width="1.2"/>
<text x="544.3" y="632.3" text-anchor="end" font-size="8.2">2</text>
<line x1="546.3" y1="610.2" x2="550.1" y2="610.2" stroke="#111" stroke-width="1.2"/>
<text x="544.3" y="613.1" text-anchor="end" font-size="8.2">3</text>
<line x1="546.3" y1="591" x2="550.1" y2="591" stroke="#111" stroke-width="1.2"/>
<text x="544.3" y="593.9" text-anchor="end" font-size="8.2">4</text>
<line x1="546.3" y1="571.8" x2="550.1" y2="571.8" stroke="#111" stroke-width="1.2"/>
<text x="544.3" y="574.7" text-anchor="end" font-size="8.2">5</text>
<line x1="546.3" y1="552.6" x2="550.1" y2="552.6" stroke="#111" stroke-width="1.2"/>
<text x="544.3" y="555.5" text-anchor="end" font-size="8.2">6</text>
<line x1="578.6" y1="672.3" x2="578.6" y2="676.1" stroke="#111" stroke-width="1.2"/>
<text x="578.6" y="687.9" text-anchor="middle" font-size="8.2">4</text>
<line x1="610.3" y1="672.3" x2="610.3" y2="676.1" stroke="#111" stroke-width="1.2"/>
<text x="610.3" y="687.9" text-anchor="middle" font-size="8.2">5</text>
<line x1="642" y1="672.3" x2="642" y2="676.1" stroke="#111" stroke-width="1.2"/>
<text x="642" y="687.9" text-anchor="middle" font-size="8.2">6</text>
<line x1="673.7" y1="672.3" x2="673.7" y2="676.1" stroke="#111" stroke-width="1.2"/>
<text x="673.7" y="687.9" text-anchor="middle" font-size="8.2">7</text>
<text x="558.0" y="555.8" font-size="9.3"><tspan font-style="italic">P</tspan> = 4.4e&#8722;16</text>
<text x="558" y="569.4" font-size="9.3">R = 0.35</text>
<text x="621.5" y="699.6" font-size="8.3" text-anchor="middle">Log<tspan font-size="5.5" dy="2">2</tspan><tspan dy="-2">(<tspan font-style="italic">DDX41</tspan> TPM)</tspan></text>
<text transform="translate(532.7 604.2) rotate(-90)" text-anchor="middle" font-size="8.5">Log<tspan font-size="5.5" dy="2">2</tspan><tspan dy="-2">(<tspan font-style="italic">MKI67</tspan> TPM)</tspan></text>
</svg>
</body></html>
